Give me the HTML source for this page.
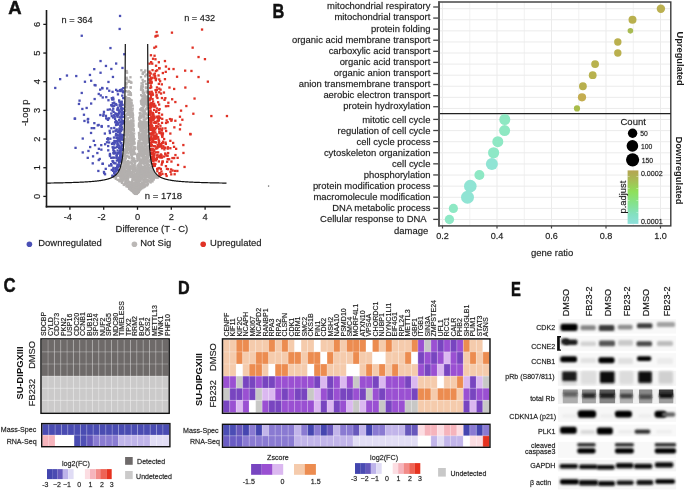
<!DOCTYPE html>
<html><head><meta charset="utf-8"><style>
html,body{margin:0;padding:0;background:#fff;}
svg{display:block;font-family:'Liberation Sans',sans-serif;will-change:transform;}
text{font-family:'Liberation Sans',sans-serif;}
</style></head><body>
<svg width="685" height="491" viewBox="0 0 685 491">
<rect width="685" height="491" fill="#fff"/>
<text x="8.30" y="14.20" font-size="18.5" text-anchor="start" font-weight="bold" fill="#111" stroke="#111" stroke-width="0.45">A</text><g fill="#b3b0ae"><rect x="123.1" y="148.8" width="2.3" height="2.3"/><rect x="137.7" y="172.8" width="2.3" height="2.3"/><rect x="143.0" y="92.0" width="2.3" height="2.3"/><rect x="151.8" y="175.5" width="2.3" height="2.3"/><rect x="127.6" y="181.1" width="2.3" height="2.3"/><rect x="127.3" y="102.1" width="2.3" height="2.3"/><rect x="146.0" y="154.0" width="2.3" height="2.3"/><rect x="140.3" y="171.9" width="2.3" height="2.3"/><rect x="139.1" y="121.0" width="2.3" height="2.3"/><rect x="119.7" y="173.7" width="2.3" height="2.3"/><rect x="143.3" y="102.3" width="2.3" height="2.3"/><rect x="135.2" y="185.6" width="2.3" height="2.3"/><rect x="148.4" y="176.7" width="2.3" height="2.3"/><rect x="128.0" y="97.8" width="2.3" height="2.3"/><rect x="138.7" y="138.6" width="2.3" height="2.3"/><rect x="138.9" y="119.5" width="2.3" height="2.3"/><rect x="147.1" y="173.5" width="2.3" height="2.3"/><rect x="121.6" y="169.5" width="2.3" height="2.3"/><rect x="141.6" y="97.3" width="2.3" height="2.3"/><rect x="140.5" y="168.6" width="2.3" height="2.3"/><rect x="129.3" y="175.6" width="2.3" height="2.3"/><rect x="123.8" y="138.5" width="2.3" height="2.3"/><rect x="145.2" y="107.8" width="2.3" height="2.3"/><rect x="125.8" y="181.9" width="2.3" height="2.3"/><rect x="136.2" y="191.1" width="2.3" height="2.3"/><rect x="132.7" y="145.7" width="2.3" height="2.3"/><rect x="138.1" y="169.7" width="2.3" height="2.3"/><rect x="144.0" y="102.5" width="2.3" height="2.3"/><rect x="125.4" y="120.4" width="2.3" height="2.3"/><rect x="125.9" y="125.3" width="2.3" height="2.3"/><rect x="128.3" y="100.0" width="2.3" height="2.3"/><rect x="137.6" y="156.9" width="2.3" height="2.3"/><rect x="124.4" y="143.0" width="2.3" height="2.3"/><rect x="131.4" y="112.0" width="2.3" height="2.3"/><rect x="129.6" y="170.5" width="2.3" height="2.3"/><rect x="145.5" y="146.9" width="2.3" height="2.3"/><rect x="133.9" y="188.2" width="2.3" height="2.3"/><rect x="141.8" y="174.8" width="2.3" height="2.3"/><rect x="129.4" y="136.9" width="2.3" height="2.3"/><rect x="145.3" y="155.7" width="2.3" height="2.3"/><rect x="143.9" y="165.6" width="2.3" height="2.3"/><rect x="149.5" y="181.3" width="2.3" height="2.3"/><rect x="124.5" y="105.6" width="2.3" height="2.3"/><rect x="129.4" y="165.6" width="2.3" height="2.3"/><rect x="139.3" y="187.0" width="2.3" height="2.3"/><rect x="137.8" y="162.8" width="2.3" height="2.3"/><rect x="130.2" y="185.4" width="2.3" height="2.3"/><rect x="134.6" y="179.6" width="2.3" height="2.3"/><rect x="131.9" y="166.5" width="2.3" height="2.3"/><rect x="150.4" y="170.2" width="2.3" height="2.3"/><rect x="127.9" y="125.9" width="2.3" height="2.3"/><rect x="145.5" y="168.6" width="2.3" height="2.3"/><rect x="137.9" y="150.4" width="2.3" height="2.3"/><rect x="135.5" y="169.1" width="2.3" height="2.3"/><rect x="124.6" y="109.3" width="2.3" height="2.3"/><rect x="143.6" y="95.2" width="2.3" height="2.3"/><rect x="125.1" y="160.8" width="2.3" height="2.3"/><rect x="125.7" y="169.4" width="2.3" height="2.3"/><rect x="122.1" y="162.1" width="2.3" height="2.3"/><rect x="124.0" y="141.1" width="2.3" height="2.3"/><rect x="141.5" y="102.8" width="2.3" height="2.3"/><rect x="141.8" y="122.5" width="2.3" height="2.3"/><rect x="137.0" y="190.8" width="2.3" height="2.3"/><rect x="126.6" y="98.9" width="2.3" height="2.3"/><rect x="144.2" y="153.1" width="2.3" height="2.3"/><rect x="135.3" y="190.8" width="2.3" height="2.3"/><rect x="132.8" y="189.7" width="2.3" height="2.3"/><rect x="139.3" y="177.8" width="2.3" height="2.3"/><rect x="125.8" y="176.6" width="2.3" height="2.3"/><rect x="144.0" y="175.0" width="2.3" height="2.3"/><rect x="141.7" y="173.3" width="2.3" height="2.3"/><rect x="137.7" y="154.1" width="2.3" height="2.3"/><rect x="128.2" y="107.4" width="2.3" height="2.3"/><rect x="132.7" y="190.7" width="2.3" height="2.3"/><rect x="141.0" y="150.2" width="2.3" height="2.3"/><rect x="138.1" y="118.4" width="2.3" height="2.3"/><rect x="140.7" y="161.0" width="2.3" height="2.3"/><rect x="146.5" y="172.8" width="2.3" height="2.3"/><rect x="148.5" y="169.3" width="2.3" height="2.3"/><rect x="125.8" y="97.6" width="2.3" height="2.3"/><rect x="144.1" y="100.3" width="2.3" height="2.3"/><rect x="138.5" y="170.6" width="2.3" height="2.3"/><rect x="140.6" y="121.0" width="2.3" height="2.3"/><rect x="129.4" y="123.7" width="2.3" height="2.3"/><rect x="135.7" y="191.8" width="2.3" height="2.3"/><rect x="130.7" y="132.9" width="2.3" height="2.3"/><rect x="125.4" y="81.6" width="2.3" height="2.3"/><rect x="141.9" y="102.2" width="2.3" height="2.3"/><rect x="123.5" y="149.6" width="2.3" height="2.3"/><rect x="147.7" y="170.0" width="2.3" height="2.3"/><rect x="149.7" y="178.6" width="2.3" height="2.3"/><rect x="137.9" y="122.6" width="2.3" height="2.3"/><rect x="120.9" y="171.8" width="2.3" height="2.3"/><rect x="140.8" y="153.6" width="2.3" height="2.3"/><rect x="140.2" y="107.4" width="2.3" height="2.3"/><rect x="149.1" y="175.6" width="2.3" height="2.3"/><rect x="149.7" y="176.0" width="2.3" height="2.3"/><rect x="136.5" y="183.6" width="2.3" height="2.3"/><rect x="128.1" y="185.8" width="2.3" height="2.3"/><rect x="130.1" y="128.3" width="2.3" height="2.3"/><rect x="140.4" y="159.0" width="2.3" height="2.3"/><rect x="133.2" y="147.9" width="2.3" height="2.3"/><rect x="152.5" y="178.1" width="2.3" height="2.3"/><rect x="142.3" y="165.7" width="2.3" height="2.3"/><rect x="122.2" y="166.1" width="2.3" height="2.3"/><rect x="146.6" y="156.1" width="2.3" height="2.3"/><rect x="144.7" y="174.7" width="2.3" height="2.3"/><rect x="128.3" y="156.8" width="2.3" height="2.3"/><rect x="146.7" y="149.1" width="2.3" height="2.3"/><rect x="139.3" y="147.5" width="2.3" height="2.3"/><rect x="128.0" y="100.7" width="2.3" height="2.3"/><rect x="129.1" y="102.4" width="2.3" height="2.3"/><rect x="127.2" y="160.5" width="2.3" height="2.3"/><rect x="148.0" y="174.3" width="2.3" height="2.3"/><rect x="150.1" y="171.6" width="2.3" height="2.3"/><rect x="125.6" y="76.6" width="2.3" height="2.3"/><rect x="138.3" y="133.6" width="2.3" height="2.3"/><rect x="127.1" y="121.9" width="2.3" height="2.3"/><rect x="121.5" y="179.8" width="2.3" height="2.3"/><rect x="139.6" y="150.8" width="2.3" height="2.3"/><rect x="142.9" y="138.1" width="2.3" height="2.3"/><rect x="123.5" y="139.2" width="2.3" height="2.3"/><rect x="128.3" y="98.4" width="2.3" height="2.3"/><rect x="136.0" y="191.8" width="2.3" height="2.3"/><rect x="131.7" y="149.9" width="2.3" height="2.3"/><rect x="139.7" y="147.6" width="2.3" height="2.3"/><rect x="129.3" y="76.1" width="2.3" height="2.3"/><rect x="127.1" y="176.8" width="2.3" height="2.3"/><rect x="130.5" y="150.5" width="2.3" height="2.3"/><rect x="133.7" y="169.8" width="2.3" height="2.3"/><rect x="134.0" y="192.3" width="2.3" height="2.3"/><rect x="150.9" y="171.0" width="2.3" height="2.3"/><rect x="130.8" y="155.8" width="2.3" height="2.3"/><rect x="136.4" y="175.2" width="2.3" height="2.3"/><rect x="130.4" y="174.3" width="2.3" height="2.3"/><rect x="142.1" y="109.0" width="2.3" height="2.3"/><rect x="126.3" y="136.1" width="2.3" height="2.3"/><rect x="125.5" y="106.3" width="2.3" height="2.3"/><rect x="151.4" y="172.7" width="2.3" height="2.3"/><rect x="139.4" y="120.8" width="2.3" height="2.3"/><rect x="134.4" y="192.6" width="2.3" height="2.3"/><rect x="125.5" y="69.9" width="2.3" height="2.3"/><rect x="143.1" y="178.4" width="2.3" height="2.3"/><rect x="142.5" y="97.4" width="2.3" height="2.3"/><rect x="133.4" y="191.8" width="2.3" height="2.3"/><rect x="134.8" y="186.5" width="2.3" height="2.3"/><rect x="144.8" y="117.4" width="2.3" height="2.3"/><rect x="127.8" y="121.2" width="2.3" height="2.3"/><rect x="141.3" y="103.9" width="2.3" height="2.3"/><rect x="146.9" y="172.9" width="2.3" height="2.3"/><rect x="145.1" y="102.7" width="2.3" height="2.3"/><rect x="139.3" y="130.0" width="2.3" height="2.3"/><rect x="126.9" y="147.7" width="2.3" height="2.3"/><rect x="139.1" y="126.2" width="2.3" height="2.3"/><rect x="121.8" y="169.6" width="2.3" height="2.3"/><rect x="144.0" y="98.7" width="2.3" height="2.3"/><rect x="147.4" y="170.9" width="2.3" height="2.3"/><rect x="124.0" y="149.8" width="2.3" height="2.3"/><rect x="133.9" y="152.5" width="2.3" height="2.3"/><rect x="128.7" y="93.4" width="2.3" height="2.3"/><rect x="140.5" y="154.6" width="2.3" height="2.3"/><rect x="130.1" y="121.3" width="2.3" height="2.3"/><rect x="137.7" y="175.8" width="2.3" height="2.3"/><rect x="133.9" y="167.8" width="2.3" height="2.3"/><rect x="143.0" y="160.1" width="2.3" height="2.3"/><rect x="126.9" y="111.4" width="2.3" height="2.3"/><rect x="141.3" y="160.7" width="2.3" height="2.3"/><rect x="131.5" y="104.5" width="2.3" height="2.3"/><rect x="122.1" y="169.6" width="2.3" height="2.3"/><rect x="148.7" y="159.8" width="2.3" height="2.3"/><rect x="124.0" y="161.7" width="2.3" height="2.3"/><rect x="135.6" y="176.7" width="2.3" height="2.3"/><rect x="146.7" y="156.3" width="2.3" height="2.3"/><rect x="139.6" y="168.3" width="2.3" height="2.3"/><rect x="140.9" y="145.9" width="2.3" height="2.3"/><rect x="130.9" y="182.8" width="2.3" height="2.3"/><rect x="120.6" y="180.9" width="2.3" height="2.3"/><rect x="146.7" y="145.2" width="2.3" height="2.3"/><rect x="137.2" y="188.0" width="2.3" height="2.3"/><rect x="125.4" y="174.8" width="2.3" height="2.3"/><rect x="144.0" y="141.9" width="2.3" height="2.3"/><rect x="148.3" y="169.5" width="2.3" height="2.3"/><rect x="129.1" y="150.9" width="2.3" height="2.3"/><rect x="127.3" y="171.8" width="2.3" height="2.3"/><rect x="137.6" y="153.5" width="2.3" height="2.3"/><rect x="139.9" y="123.4" width="2.3" height="2.3"/><rect x="124.4" y="182.8" width="2.3" height="2.3"/><rect x="141.8" y="107.4" width="2.3" height="2.3"/><rect x="143.8" y="98.6" width="2.3" height="2.3"/><rect x="131.5" y="175.6" width="2.3" height="2.3"/><rect x="141.5" y="147.2" width="2.3" height="2.3"/><rect x="148.0" y="167.0" width="2.3" height="2.3"/><rect x="146.9" y="153.2" width="2.3" height="2.3"/><rect x="133.0" y="151.5" width="2.3" height="2.3"/><rect x="148.0" y="176.4" width="2.3" height="2.3"/><rect x="128.9" y="149.6" width="2.3" height="2.3"/><rect x="142.1" y="156.8" width="2.3" height="2.3"/><rect x="130.0" y="132.8" width="2.3" height="2.3"/><rect x="143.1" y="137.5" width="2.3" height="2.3"/><rect x="143.4" y="103.0" width="2.3" height="2.3"/><rect x="143.2" y="122.4" width="2.3" height="2.3"/><rect x="140.0" y="154.2" width="2.3" height="2.3"/><rect x="130.5" y="153.7" width="2.3" height="2.3"/><rect x="140.5" y="126.0" width="2.3" height="2.3"/><rect x="137.7" y="144.1" width="2.3" height="2.3"/><rect x="130.0" y="127.0" width="2.3" height="2.3"/><rect x="153.2" y="172.7" width="2.3" height="2.3"/><rect x="143.3" y="115.2" width="2.3" height="2.3"/><rect x="123.9" y="127.8" width="2.3" height="2.3"/><rect x="137.8" y="188.0" width="2.3" height="2.3"/><rect x="140.1" y="175.7" width="2.3" height="2.3"/><rect x="126.4" y="164.9" width="2.3" height="2.3"/><rect x="139.1" y="114.3" width="2.3" height="2.3"/><rect x="138.5" y="179.5" width="2.3" height="2.3"/><rect x="146.5" y="134.7" width="2.3" height="2.3"/><rect x="132.5" y="135.0" width="2.3" height="2.3"/><rect x="127.7" y="185.1" width="2.3" height="2.3"/><rect x="147.1" y="179.1" width="2.3" height="2.3"/><rect x="135.7" y="192.1" width="2.3" height="2.3"/><rect x="116.2" y="173.8" width="2.3" height="2.3"/><rect x="121.8" y="176.8" width="2.3" height="2.3"/><rect x="146.2" y="121.2" width="2.3" height="2.3"/><rect x="118.7" y="179.1" width="2.3" height="2.3"/><rect x="140.9" y="169.8" width="2.3" height="2.3"/><rect x="124.5" y="101.2" width="2.3" height="2.3"/><rect x="124.9" y="130.4" width="2.3" height="2.3"/><rect x="131.4" y="135.9" width="2.3" height="2.3"/><rect x="131.2" y="186.6" width="2.3" height="2.3"/><rect x="127.5" y="130.9" width="2.3" height="2.3"/><rect x="137.0" y="170.5" width="2.3" height="2.3"/><rect x="145.2" y="161.9" width="2.3" height="2.3"/><rect x="142.2" y="142.4" width="2.3" height="2.3"/><rect x="132.1" y="160.0" width="2.3" height="2.3"/><rect x="143.0" y="110.0" width="2.3" height="2.3"/><rect x="146.1" y="116.6" width="2.3" height="2.3"/><rect x="145.1" y="108.1" width="2.3" height="2.3"/><rect x="149.6" y="173.2" width="2.3" height="2.3"/><rect x="131.8" y="135.6" width="2.3" height="2.3"/><rect x="125.0" y="151.6" width="2.3" height="2.3"/><rect x="132.6" y="190.1" width="2.3" height="2.3"/><rect x="133.2" y="181.9" width="2.3" height="2.3"/><rect x="144.8" y="158.5" width="2.3" height="2.3"/><rect x="121.3" y="165.8" width="2.3" height="2.3"/><rect x="136.8" y="175.7" width="2.3" height="2.3"/><rect x="138.7" y="150.2" width="2.3" height="2.3"/><rect x="131.6" y="177.8" width="2.3" height="2.3"/><rect x="123.0" y="177.4" width="2.3" height="2.3"/><rect x="123.8" y="171.1" width="2.3" height="2.3"/><rect x="135.2" y="189.1" width="2.3" height="2.3"/><rect x="134.6" y="192.1" width="2.3" height="2.3"/><rect x="145.1" y="169.4" width="2.3" height="2.3"/><rect x="142.7" y="167.0" width="2.3" height="2.3"/><rect x="142.4" y="100.9" width="2.3" height="2.3"/><rect x="126.9" y="102.3" width="2.3" height="2.3"/><rect x="142.8" y="135.2" width="2.3" height="2.3"/><rect x="132.3" y="149.2" width="2.3" height="2.3"/><rect x="125.0" y="142.3" width="2.3" height="2.3"/><rect x="139.1" y="121.4" width="2.3" height="2.3"/><rect x="145.8" y="140.1" width="2.3" height="2.3"/><rect x="146.4" y="128.3" width="2.3" height="2.3"/><rect x="132.9" y="141.1" width="2.3" height="2.3"/><rect x="140.9" y="166.5" width="2.3" height="2.3"/><rect x="139.0" y="134.1" width="2.3" height="2.3"/><rect x="121.1" y="167.9" width="2.3" height="2.3"/><rect x="128.7" y="161.3" width="2.3" height="2.3"/><rect x="118.9" y="174.5" width="2.3" height="2.3"/><rect x="143.4" y="134.1" width="2.3" height="2.3"/><rect x="134.0" y="168.9" width="2.3" height="2.3"/><rect x="143.5" y="100.6" width="2.3" height="2.3"/><rect x="138.7" y="169.6" width="2.3" height="2.3"/><rect x="143.8" y="102.8" width="2.3" height="2.3"/><rect x="128.9" y="104.6" width="2.3" height="2.3"/><rect x="122.3" y="157.3" width="2.3" height="2.3"/><rect x="139.4" y="182.9" width="2.3" height="2.3"/><rect x="138.1" y="169.5" width="2.3" height="2.3"/><rect x="130.3" y="187.1" width="2.3" height="2.3"/><rect x="129.4" y="147.5" width="2.3" height="2.3"/><rect x="124.5" y="101.4" width="2.3" height="2.3"/><rect x="145.5" y="173.7" width="2.3" height="2.3"/><rect x="141.8" y="90.6" width="2.3" height="2.3"/><rect x="145.2" y="73.5" width="2.3" height="2.3"/><rect x="131.4" y="129.0" width="2.3" height="2.3"/><rect x="143.9" y="124.9" width="2.3" height="2.3"/><rect x="119.3" y="179.9" width="2.3" height="2.3"/><rect x="131.1" y="171.7" width="2.3" height="2.3"/><rect x="142.2" y="178.9" width="2.3" height="2.3"/><rect x="130.0" y="142.9" width="2.3" height="2.3"/><rect x="135.4" y="184.5" width="2.3" height="2.3"/><rect x="131.6" y="168.4" width="2.3" height="2.3"/><rect x="130.4" y="187.7" width="2.3" height="2.3"/><rect x="134.0" y="192.2" width="2.3" height="2.3"/><rect x="125.9" y="97.8" width="2.3" height="2.3"/><rect x="124.1" y="128.4" width="2.3" height="2.3"/><rect x="114.7" y="176.0" width="2.3" height="2.3"/><rect x="119.7" y="179.0" width="2.3" height="2.3"/><rect x="153.6" y="174.9" width="2.3" height="2.3"/><rect x="128.0" y="170.4" width="2.3" height="2.3"/><rect x="137.8" y="170.5" width="2.3" height="2.3"/><rect x="130.0" y="139.8" width="2.3" height="2.3"/><rect x="144.3" y="142.9" width="2.3" height="2.3"/><rect x="139.6" y="171.1" width="2.3" height="2.3"/><rect x="124.7" y="162.7" width="2.3" height="2.3"/><rect x="143.2" y="138.2" width="2.3" height="2.3"/><rect x="123.4" y="159.4" width="2.3" height="2.3"/><rect x="126.4" y="132.5" width="2.3" height="2.3"/><rect x="133.4" y="184.4" width="2.3" height="2.3"/><rect x="126.8" y="177.4" width="2.3" height="2.3"/><rect x="146.2" y="160.7" width="2.3" height="2.3"/><rect x="133.9" y="162.3" width="2.3" height="2.3"/><rect x="128.6" y="140.4" width="2.3" height="2.3"/><rect x="148.7" y="160.1" width="2.3" height="2.3"/><rect x="143.2" y="184.4" width="2.3" height="2.3"/><rect x="125.1" y="83.5" width="2.3" height="2.3"/><rect x="135.3" y="189.6" width="2.3" height="2.3"/><rect x="146.5" y="134.4" width="2.3" height="2.3"/><rect x="127.9" y="184.1" width="2.3" height="2.3"/><rect x="142.2" y="127.6" width="2.3" height="2.3"/><rect x="140.5" y="137.7" width="2.3" height="2.3"/><rect x="142.8" y="173.0" width="2.3" height="2.3"/><rect x="142.6" y="135.0" width="2.3" height="2.3"/><rect x="125.2" y="122.4" width="2.3" height="2.3"/><rect x="127.3" y="102.4" width="2.3" height="2.3"/><rect x="140.7" y="142.1" width="2.3" height="2.3"/><rect x="144.2" y="144.2" width="2.3" height="2.3"/><rect x="124.5" y="123.4" width="2.3" height="2.3"/><rect x="133.3" y="182.0" width="2.3" height="2.3"/><rect x="147.3" y="172.0" width="2.3" height="2.3"/><rect x="123.8" y="153.7" width="2.3" height="2.3"/><rect x="135.1" y="179.0" width="2.3" height="2.3"/><rect x="141.5" y="113.6" width="2.3" height="2.3"/><rect x="137.0" y="177.1" width="2.3" height="2.3"/><rect x="127.2" y="164.2" width="2.3" height="2.3"/><rect x="139.3" y="128.0" width="2.3" height="2.3"/><rect x="145.6" y="178.6" width="2.3" height="2.3"/><rect x="132.2" y="122.5" width="2.3" height="2.3"/><rect x="146.1" y="167.5" width="2.3" height="2.3"/><rect x="135.9" y="186.4" width="2.3" height="2.3"/><rect x="147.4" y="179.4" width="2.3" height="2.3"/><rect x="135.2" y="192.6" width="2.3" height="2.3"/><rect x="144.5" y="99.9" width="2.3" height="2.3"/><rect x="127.7" y="133.7" width="2.3" height="2.3"/><rect x="131.0" y="171.4" width="2.3" height="2.3"/><rect x="140.1" y="86.5" width="2.3" height="2.3"/><rect x="140.8" y="121.1" width="2.3" height="2.3"/><rect x="131.6" y="143.2" width="2.3" height="2.3"/><rect x="136.0" y="174.4" width="2.3" height="2.3"/><rect x="137.9" y="169.9" width="2.3" height="2.3"/><rect x="136.9" y="190.9" width="2.3" height="2.3"/><rect x="141.8" y="160.7" width="2.3" height="2.3"/><rect x="143.0" y="140.5" width="2.3" height="2.3"/><rect x="137.8" y="125.1" width="2.3" height="2.3"/><rect x="144.7" y="161.5" width="2.3" height="2.3"/><rect x="141.5" y="133.7" width="2.3" height="2.3"/><rect x="132.0" y="127.4" width="2.3" height="2.3"/><rect x="126.3" y="99.0" width="2.3" height="2.3"/><rect x="154.8" y="176.2" width="2.3" height="2.3"/><rect x="138.4" y="122.5" width="2.3" height="2.3"/><rect x="135.7" y="171.7" width="2.3" height="2.3"/><rect x="146.1" y="104.2" width="2.3" height="2.3"/><rect x="133.2" y="191.4" width="2.3" height="2.3"/><rect x="130.3" y="175.9" width="2.3" height="2.3"/><rect x="138.2" y="166.9" width="2.3" height="2.3"/><rect x="139.1" y="180.0" width="2.3" height="2.3"/><rect x="151.7" y="171.0" width="2.3" height="2.3"/><rect x="126.7" y="173.5" width="2.3" height="2.3"/><rect x="147.1" y="175.7" width="2.3" height="2.3"/><rect x="130.2" y="109.5" width="2.3" height="2.3"/><rect x="125.2" y="173.7" width="2.3" height="2.3"/><rect x="131.2" y="179.9" width="2.3" height="2.3"/><rect x="130.1" y="119.2" width="2.3" height="2.3"/><rect x="130.7" y="132.4" width="2.3" height="2.3"/><rect x="133.9" y="183.2" width="2.3" height="2.3"/><rect x="128.6" y="139.3" width="2.3" height="2.3"/><rect x="126.9" y="185.5" width="2.3" height="2.3"/><rect x="138.9" y="114.9" width="2.3" height="2.3"/><rect x="120.8" y="168.1" width="2.3" height="2.3"/><rect x="122.5" y="159.8" width="2.3" height="2.3"/><rect x="130.7" y="115.6" width="2.3" height="2.3"/><rect x="127.0" y="148.5" width="2.3" height="2.3"/><rect x="127.8" y="122.7" width="2.3" height="2.3"/><rect x="132.7" y="157.6" width="2.3" height="2.3"/><rect x="146.5" y="154.9" width="2.3" height="2.3"/><rect x="130.4" y="184.7" width="2.3" height="2.3"/><rect x="126.4" y="130.0" width="2.3" height="2.3"/><rect x="143.3" y="121.0" width="2.3" height="2.3"/><rect x="142.9" y="182.4" width="2.3" height="2.3"/><rect x="136.3" y="183.0" width="2.3" height="2.3"/><rect x="127.0" y="123.8" width="2.3" height="2.3"/><rect x="146.4" y="146.1" width="2.3" height="2.3"/><rect x="130.2" y="81.5" width="2.3" height="2.3"/><rect x="141.3" y="146.9" width="2.3" height="2.3"/><rect x="127.7" y="90.2" width="2.3" height="2.3"/><rect x="140.2" y="183.5" width="2.3" height="2.3"/><rect x="126.0" y="108.8" width="2.3" height="2.3"/><rect x="138.5" y="165.9" width="2.3" height="2.3"/><rect x="151.9" y="171.8" width="2.3" height="2.3"/><rect x="120.0" y="166.6" width="2.3" height="2.3"/><rect x="142.7" y="171.9" width="2.3" height="2.3"/><rect x="128.4" y="102.7" width="2.3" height="2.3"/><rect x="132.1" y="168.9" width="2.3" height="2.3"/><rect x="138.3" y="124.9" width="2.3" height="2.3"/><rect x="141.7" y="166.6" width="2.3" height="2.3"/><rect x="128.8" y="143.1" width="2.3" height="2.3"/><rect x="125.3" y="165.3" width="2.3" height="2.3"/><rect x="140.1" y="88.1" width="2.3" height="2.3"/><rect x="137.5" y="139.9" width="2.3" height="2.3"/><rect x="147.1" y="137.0" width="2.3" height="2.3"/><rect x="141.4" y="131.6" width="2.3" height="2.3"/><rect x="131.3" y="109.5" width="2.3" height="2.3"/><rect x="123.8" y="159.4" width="2.3" height="2.3"/><rect x="136.8" y="146.0" width="2.3" height="2.3"/><rect x="126.6" y="102.7" width="2.3" height="2.3"/><rect x="127.5" y="122.9" width="2.3" height="2.3"/><rect x="140.8" y="185.8" width="2.3" height="2.3"/><rect x="133.6" y="173.0" width="2.3" height="2.3"/><rect x="130.1" y="188.0" width="2.3" height="2.3"/><rect x="129.8" y="152.3" width="2.3" height="2.3"/><rect x="141.0" y="98.5" width="2.3" height="2.3"/><rect x="124.7" y="138.7" width="2.3" height="2.3"/><rect x="144.5" y="135.2" width="2.3" height="2.3"/><rect x="137.3" y="143.7" width="2.3" height="2.3"/><rect x="148.6" y="172.1" width="2.3" height="2.3"/><rect x="142.9" y="149.2" width="2.3" height="2.3"/><rect x="136.6" y="146.4" width="2.3" height="2.3"/><rect x="131.9" y="166.6" width="2.3" height="2.3"/><rect x="131.0" y="156.9" width="2.3" height="2.3"/><rect x="141.3" y="100.2" width="2.3" height="2.3"/><rect x="124.0" y="126.2" width="2.3" height="2.3"/><rect x="136.7" y="190.8" width="2.3" height="2.3"/><rect x="132.2" y="136.0" width="2.3" height="2.3"/><rect x="126.0" y="179.3" width="2.3" height="2.3"/><rect x="141.1" y="87.3" width="2.3" height="2.3"/><rect x="135.1" y="190.0" width="2.3" height="2.3"/><rect x="137.7" y="179.0" width="2.3" height="2.3"/><rect x="149.7" y="166.5" width="2.3" height="2.3"/><rect x="142.4" y="116.4" width="2.3" height="2.3"/><rect x="143.6" y="171.2" width="2.3" height="2.3"/><rect x="139.7" y="146.2" width="2.3" height="2.3"/><rect x="140.4" y="102.6" width="2.3" height="2.3"/><rect x="143.9" y="185.3" width="2.3" height="2.3"/><rect x="142.5" y="121.6" width="2.3" height="2.3"/><rect x="150.2" y="170.6" width="2.3" height="2.3"/><rect x="139.8" y="161.9" width="2.3" height="2.3"/><rect x="143.1" y="136.2" width="2.3" height="2.3"/><rect x="145.5" y="173.0" width="2.3" height="2.3"/><rect x="129.3" y="185.9" width="2.3" height="2.3"/><rect x="128.4" y="166.0" width="2.3" height="2.3"/><rect x="139.9" y="108.4" width="2.3" height="2.3"/><rect x="142.1" y="166.7" width="2.3" height="2.3"/><rect x="127.6" y="131.2" width="2.3" height="2.3"/><rect x="129.6" y="92.1" width="2.3" height="2.3"/><rect x="138.8" y="121.8" width="2.3" height="2.3"/><rect x="122.7" y="172.2" width="2.3" height="2.3"/><rect x="138.1" y="163.2" width="2.3" height="2.3"/><rect x="121.1" y="173.7" width="2.3" height="2.3"/><rect x="143.2" y="124.7" width="2.3" height="2.3"/><rect x="128.4" y="166.3" width="2.3" height="2.3"/><rect x="146.9" y="165.4" width="2.3" height="2.3"/><rect x="138.4" y="187.5" width="2.3" height="2.3"/><rect x="133.1" y="178.7" width="2.3" height="2.3"/><rect x="127.3" y="152.1" width="2.3" height="2.3"/><rect x="140.8" y="160.7" width="2.3" height="2.3"/><rect x="143.9" y="165.0" width="2.3" height="2.3"/><rect x="131.1" y="185.1" width="2.3" height="2.3"/><rect x="139.9" y="121.9" width="2.3" height="2.3"/><rect x="143.0" y="149.9" width="2.3" height="2.3"/><rect x="144.0" y="170.6" width="2.3" height="2.3"/><rect x="126.8" y="100.7" width="2.3" height="2.3"/><rect x="131.4" y="182.5" width="2.3" height="2.3"/><rect x="133.6" y="168.6" width="2.3" height="2.3"/><rect x="125.0" y="127.3" width="2.3" height="2.3"/><rect x="127.0" y="107.4" width="2.3" height="2.3"/><rect x="142.8" y="179.8" width="2.3" height="2.3"/><rect x="125.3" y="129.2" width="2.3" height="2.3"/><rect x="146.0" y="95.4" width="2.3" height="2.3"/><rect x="130.1" y="138.7" width="2.3" height="2.3"/><rect x="126.4" y="179.4" width="2.3" height="2.3"/><rect x="144.0" y="133.1" width="2.3" height="2.3"/><rect x="138.3" y="156.5" width="2.3" height="2.3"/><rect x="131.1" y="188.2" width="2.3" height="2.3"/><rect x="114.9" y="176.2" width="2.3" height="2.3"/><rect x="124.9" y="101.8" width="2.3" height="2.3"/><rect x="145.9" y="175.0" width="2.3" height="2.3"/><rect x="139.6" y="164.9" width="2.3" height="2.3"/><rect x="130.7" y="115.5" width="2.3" height="2.3"/><rect x="152.3" y="172.1" width="2.3" height="2.3"/><rect x="119.0" y="171.3" width="2.3" height="2.3"/><rect x="118.4" y="174.7" width="2.3" height="2.3"/><rect x="127.9" y="105.6" width="2.3" height="2.3"/><rect x="138.5" y="125.7" width="2.3" height="2.3"/><rect x="137.0" y="164.3" width="2.3" height="2.3"/><rect x="143.8" y="147.9" width="2.3" height="2.3"/><rect x="135.0" y="186.8" width="2.3" height="2.3"/><rect x="132.6" y="187.6" width="2.3" height="2.3"/><rect x="128.0" y="171.2" width="2.3" height="2.3"/><rect x="118.5" y="170.5" width="2.3" height="2.3"/><rect x="124.7" y="149.8" width="2.3" height="2.3"/><rect x="143.5" y="172.1" width="2.3" height="2.3"/><rect x="130.1" y="112.2" width="2.3" height="2.3"/><rect x="133.3" y="141.5" width="2.3" height="2.3"/><rect x="140.3" y="174.1" width="2.3" height="2.3"/><rect x="126.0" y="136.1" width="2.3" height="2.3"/><rect x="124.7" y="154.6" width="2.3" height="2.3"/><rect x="143.9" y="135.4" width="2.3" height="2.3"/><rect x="128.4" y="113.4" width="2.3" height="2.3"/><rect x="127.4" y="97.9" width="2.3" height="2.3"/><rect x="126.4" y="97.1" width="2.3" height="2.3"/><rect x="153.2" y="173.6" width="2.3" height="2.3"/><rect x="144.4" y="143.7" width="2.3" height="2.3"/><rect x="144.7" y="157.2" width="2.3" height="2.3"/><rect x="145.7" y="101.9" width="2.3" height="2.3"/><rect x="118.2" y="180.0" width="2.3" height="2.3"/><rect x="124.9" y="163.9" width="2.3" height="2.3"/><rect x="129.6" y="109.3" width="2.3" height="2.3"/><rect x="140.4" y="137.7" width="2.3" height="2.3"/><rect x="145.9" y="131.2" width="2.3" height="2.3"/><rect x="127.0" y="127.9" width="2.3" height="2.3"/><rect x="144.7" y="142.8" width="2.3" height="2.3"/><rect x="146.1" y="176.2" width="2.3" height="2.3"/><rect x="125.6" y="145.2" width="2.3" height="2.3"/><rect x="127.8" y="128.3" width="2.3" height="2.3"/><rect x="142.9" y="103.1" width="2.3" height="2.3"/><rect x="126.8" y="113.6" width="2.3" height="2.3"/><rect x="127.6" y="100.8" width="2.3" height="2.3"/><rect x="130.0" y="130.3" width="2.3" height="2.3"/><rect x="121.4" y="172.2" width="2.3" height="2.3"/><rect x="129.7" y="134.0" width="2.3" height="2.3"/><rect x="128.1" y="144.0" width="2.3" height="2.3"/><rect x="124.4" y="129.4" width="2.3" height="2.3"/><rect x="134.8" y="190.8" width="2.3" height="2.3"/><rect x="127.1" y="128.7" width="2.3" height="2.3"/><rect x="142.0" y="100.3" width="2.3" height="2.3"/><rect x="136.7" y="181.5" width="2.3" height="2.3"/><rect x="131.3" y="187.2" width="2.3" height="2.3"/><rect x="127.0" y="185.0" width="2.3" height="2.3"/><rect x="141.0" y="129.4" width="2.3" height="2.3"/><rect x="129.9" y="81.4" width="2.3" height="2.3"/><rect x="132.4" y="176.0" width="2.3" height="2.3"/><rect x="146.6" y="138.1" width="2.3" height="2.3"/><rect x="119.5" y="169.5" width="2.3" height="2.3"/><rect x="139.9" y="164.5" width="2.3" height="2.3"/><rect x="124.4" y="109.6" width="2.3" height="2.3"/><rect x="145.7" y="183.2" width="2.3" height="2.3"/><rect x="143.4" y="71.0" width="2.3" height="2.3"/><rect x="135.9" y="190.2" width="2.3" height="2.3"/><rect x="127.9" y="122.0" width="2.3" height="2.3"/><rect x="130.7" y="156.3" width="2.3" height="2.3"/><rect x="142.4" y="137.4" width="2.3" height="2.3"/><rect x="132.4" y="169.0" width="2.3" height="2.3"/><rect x="142.2" y="142.2" width="2.3" height="2.3"/><rect x="127.3" y="170.7" width="2.3" height="2.3"/><rect x="149.7" y="172.1" width="2.3" height="2.3"/><rect x="139.5" y="151.5" width="2.3" height="2.3"/><rect x="127.9" y="128.9" width="2.3" height="2.3"/><rect x="141.5" y="153.6" width="2.3" height="2.3"/><rect x="145.4" y="155.3" width="2.3" height="2.3"/><rect x="133.5" y="192.0" width="2.3" height="2.3"/><rect x="142.1" y="90.5" width="2.3" height="2.3"/><rect x="149.2" y="160.2" width="2.3" height="2.3"/><rect x="143.4" y="176.8" width="2.3" height="2.3"/><rect x="148.2" y="175.1" width="2.3" height="2.3"/><rect x="132.2" y="190.9" width="2.3" height="2.3"/><rect x="123.2" y="155.0" width="2.3" height="2.3"/><rect x="129.6" y="188.5" width="2.3" height="2.3"/><rect x="126.0" y="177.7" width="2.3" height="2.3"/><rect x="134.4" y="192.6" width="2.3" height="2.3"/><rect x="136.7" y="173.7" width="2.3" height="2.3"/><rect x="154.8" y="174.9" width="2.3" height="2.3"/><rect x="145.4" y="128.8" width="2.3" height="2.3"/><rect x="141.2" y="95.2" width="2.3" height="2.3"/><rect x="124.3" y="137.8" width="2.3" height="2.3"/><rect x="135.9" y="191.7" width="2.3" height="2.3"/><rect x="139.9" y="100.2" width="2.3" height="2.3"/><rect x="139.8" y="109.2" width="2.3" height="2.3"/><rect x="127.7" y="101.8" width="2.3" height="2.3"/><rect x="128.6" y="186.7" width="2.3" height="2.3"/><rect x="143.7" y="172.2" width="2.3" height="2.3"/><rect x="128.3" y="112.8" width="2.3" height="2.3"/><rect x="130.6" y="127.4" width="2.3" height="2.3"/><rect x="141.2" y="187.0" width="2.3" height="2.3"/><rect x="142.4" y="159.1" width="2.3" height="2.3"/><rect x="142.6" y="102.6" width="2.3" height="2.3"/><rect x="139.9" y="116.1" width="2.3" height="2.3"/><rect x="145.4" y="90.3" width="2.3" height="2.3"/><rect x="124.9" y="164.1" width="2.3" height="2.3"/><rect x="125.3" y="102.9" width="2.3" height="2.3"/><rect x="145.0" y="86.9" width="2.3" height="2.3"/><rect x="138.7" y="174.2" width="2.3" height="2.3"/><rect x="128.7" y="116.4" width="2.3" height="2.3"/><rect x="115.1" y="174.8" width="2.3" height="2.3"/><rect x="139.9" y="129.0" width="2.3" height="2.3"/><rect x="139.5" y="163.6" width="2.3" height="2.3"/><rect x="124.4" y="182.7" width="2.3" height="2.3"/><rect x="133.0" y="174.6" width="2.3" height="2.3"/><rect x="124.7" y="157.2" width="2.3" height="2.3"/><rect x="152.3" y="171.2" width="2.3" height="2.3"/><rect x="127.4" y="183.3" width="2.3" height="2.3"/><rect x="128.4" y="168.9" width="2.3" height="2.3"/><rect x="143.5" y="94.4" width="2.3" height="2.3"/><rect x="125.0" y="169.7" width="2.3" height="2.3"/><rect x="131.0" y="123.6" width="2.3" height="2.3"/><rect x="146.7" y="156.4" width="2.3" height="2.3"/><rect x="135.3" y="191.3" width="2.3" height="2.3"/><rect x="125.7" y="124.1" width="2.3" height="2.3"/><rect x="124.2" y="129.1" width="2.3" height="2.3"/><rect x="124.2" y="131.0" width="2.3" height="2.3"/><rect x="122.2" y="164.1" width="2.3" height="2.3"/><rect x="141.5" y="99.7" width="2.3" height="2.3"/><rect x="123.3" y="167.3" width="2.3" height="2.3"/><rect x="145.6" y="167.8" width="2.3" height="2.3"/><rect x="138.9" y="159.7" width="2.3" height="2.3"/><rect x="135.5" y="189.2" width="2.3" height="2.3"/><rect x="134.3" y="181.5" width="2.3" height="2.3"/><rect x="131.6" y="177.8" width="2.3" height="2.3"/><rect x="129.7" y="105.5" width="2.3" height="2.3"/><rect x="134.4" y="173.9" width="2.3" height="2.3"/><rect x="131.8" y="123.4" width="2.3" height="2.3"/><rect x="126.2" y="154.6" width="2.3" height="2.3"/><rect x="146.3" y="166.2" width="2.3" height="2.3"/><rect x="141.9" y="106.8" width="2.3" height="2.3"/><rect x="141.2" y="124.3" width="2.3" height="2.3"/><rect x="119.4" y="169.2" width="2.3" height="2.3"/><rect x="128.2" y="122.0" width="2.3" height="2.3"/><rect x="126.3" y="124.8" width="2.3" height="2.3"/><rect x="126.3" y="161.3" width="2.3" height="2.3"/><rect x="138.0" y="123.5" width="2.3" height="2.3"/><rect x="136.1" y="169.8" width="2.3" height="2.3"/><rect x="137.6" y="182.6" width="2.3" height="2.3"/><rect x="141.4" y="169.4" width="2.3" height="2.3"/><rect x="150.0" y="176.4" width="2.3" height="2.3"/><rect x="128.3" y="171.9" width="2.3" height="2.3"/><rect x="131.7" y="153.2" width="2.3" height="2.3"/><rect x="144.0" y="100.3" width="2.3" height="2.3"/><rect x="139.2" y="135.2" width="2.3" height="2.3"/><rect x="137.0" y="186.0" width="2.3" height="2.3"/><rect x="126.4" y="127.1" width="2.3" height="2.3"/><rect x="137.1" y="142.3" width="2.3" height="2.3"/><rect x="136.4" y="183.9" width="2.3" height="2.3"/><rect x="143.0" y="149.2" width="2.3" height="2.3"/><rect x="125.7" y="173.1" width="2.3" height="2.3"/><rect x="141.8" y="71.4" width="2.3" height="2.3"/><rect x="127.7" y="155.6" width="2.3" height="2.3"/><rect x="138.6" y="184.9" width="2.3" height="2.3"/><rect x="124.4" y="147.9" width="2.3" height="2.3"/><rect x="146.1" y="149.1" width="2.3" height="2.3"/><rect x="142.2" y="165.6" width="2.3" height="2.3"/><rect x="125.8" y="119.7" width="2.3" height="2.3"/><rect x="131.9" y="128.0" width="2.3" height="2.3"/><rect x="139.6" y="183.4" width="2.3" height="2.3"/><rect x="143.1" y="179.1" width="2.3" height="2.3"/><rect x="128.2" y="103.2" width="2.3" height="2.3"/><rect x="133.3" y="185.2" width="2.3" height="2.3"/><rect x="141.5" y="171.9" width="2.3" height="2.3"/><rect x="136.3" y="159.8" width="2.3" height="2.3"/><rect x="132.7" y="191.3" width="2.3" height="2.3"/><rect x="133.1" y="191.2" width="2.3" height="2.3"/><rect x="146.5" y="171.7" width="2.3" height="2.3"/><rect x="137.5" y="169.7" width="2.3" height="2.3"/><rect x="123.5" y="140.0" width="2.3" height="2.3"/><rect x="135.6" y="192.2" width="2.3" height="2.3"/><rect x="119.1" y="172.0" width="2.3" height="2.3"/><rect x="138.5" y="134.2" width="2.3" height="2.3"/><rect x="142.5" y="152.7" width="2.3" height="2.3"/><rect x="137.9" y="189.3" width="2.3" height="2.3"/><rect x="137.3" y="190.7" width="2.3" height="2.3"/><rect x="127.4" y="147.1" width="2.3" height="2.3"/><rect x="129.2" y="181.6" width="2.3" height="2.3"/><rect x="143.3" y="101.1" width="2.3" height="2.3"/><rect x="137.9" y="183.0" width="2.3" height="2.3"/><rect x="129.5" y="165.3" width="2.3" height="2.3"/><rect x="136.9" y="152.8" width="2.3" height="2.3"/><rect x="127.2" y="184.5" width="2.3" height="2.3"/><rect x="140.8" y="122.4" width="2.3" height="2.3"/><rect x="137.4" y="141.8" width="2.3" height="2.3"/><rect x="138.3" y="153.8" width="2.3" height="2.3"/><rect x="127.6" y="162.4" width="2.3" height="2.3"/><rect x="126.6" y="122.2" width="2.3" height="2.3"/><rect x="141.4" y="110.1" width="2.3" height="2.3"/><rect x="127.3" y="138.3" width="2.3" height="2.3"/><rect x="126.0" y="112.4" width="2.3" height="2.3"/><rect x="126.5" y="142.0" width="2.3" height="2.3"/><rect x="121.7" y="174.7" width="2.3" height="2.3"/><rect x="135.7" y="191.3" width="2.3" height="2.3"/><rect x="129.4" y="171.9" width="2.3" height="2.3"/><rect x="133.6" y="192.0" width="2.3" height="2.3"/><rect x="131.0" y="172.5" width="2.3" height="2.3"/><rect x="128.5" y="147.5" width="2.3" height="2.3"/><rect x="125.1" y="97.7" width="2.3" height="2.3"/><rect x="143.0" y="130.7" width="2.3" height="2.3"/><rect x="131.6" y="115.0" width="2.3" height="2.3"/><rect x="146.3" y="103.5" width="2.3" height="2.3"/><rect x="136.8" y="179.8" width="2.3" height="2.3"/><rect x="127.0" y="120.7" width="2.3" height="2.3"/><rect x="136.6" y="171.7" width="2.3" height="2.3"/><rect x="137.6" y="190.0" width="2.3" height="2.3"/><rect x="126.4" y="101.8" width="2.3" height="2.3"/><rect x="142.6" y="181.7" width="2.3" height="2.3"/><rect x="143.5" y="110.4" width="2.3" height="2.3"/><rect x="131.6" y="190.0" width="2.3" height="2.3"/><rect x="124.3" y="126.8" width="2.3" height="2.3"/><rect x="146.1" y="96.9" width="2.3" height="2.3"/><rect x="138.5" y="188.9" width="2.3" height="2.3"/><rect x="129.4" y="115.6" width="2.3" height="2.3"/><rect x="132.5" y="165.2" width="2.3" height="2.3"/><rect x="130.3" y="135.4" width="2.3" height="2.3"/><rect x="124.7" y="179.6" width="2.3" height="2.3"/><rect x="139.0" y="161.0" width="2.3" height="2.3"/><rect x="124.8" y="165.2" width="2.3" height="2.3"/><rect x="135.1" y="182.8" width="2.3" height="2.3"/><rect x="133.6" y="189.7" width="2.3" height="2.3"/><rect x="123.0" y="167.9" width="2.3" height="2.3"/><rect x="135.8" y="171.7" width="2.3" height="2.3"/><rect x="144.4" y="99.4" width="2.3" height="2.3"/><rect x="144.9" y="82.8" width="2.3" height="2.3"/><rect x="139.3" y="183.3" width="2.3" height="2.3"/><rect x="135.1" y="180.6" width="2.3" height="2.3"/><rect x="127.9" y="101.9" width="2.3" height="2.3"/><rect x="134.1" y="190.1" width="2.3" height="2.3"/><rect x="124.2" y="120.7" width="2.3" height="2.3"/><rect x="141.8" y="101.7" width="2.3" height="2.3"/><rect x="124.0" y="157.9" width="2.3" height="2.3"/><rect x="126.2" y="175.2" width="2.3" height="2.3"/><rect x="132.6" y="151.5" width="2.3" height="2.3"/><rect x="133.1" y="184.0" width="2.3" height="2.3"/><rect x="142.0" y="173.6" width="2.3" height="2.3"/><rect x="144.8" y="166.7" width="2.3" height="2.3"/><rect x="130.0" y="145.8" width="2.3" height="2.3"/><rect x="132.2" y="120.2" width="2.3" height="2.3"/><rect x="123.7" y="174.6" width="2.3" height="2.3"/><rect x="125.6" y="175.0" width="2.3" height="2.3"/><rect x="138.6" y="142.6" width="2.3" height="2.3"/><rect x="133.2" y="157.9" width="2.3" height="2.3"/><rect x="143.4" y="138.2" width="2.3" height="2.3"/><rect x="144.9" y="138.8" width="2.3" height="2.3"/><rect x="141.2" y="102.6" width="2.3" height="2.3"/><rect x="149.7" y="177.3" width="2.3" height="2.3"/><rect x="122.1" y="178.4" width="2.3" height="2.3"/><rect x="147.9" y="153.9" width="2.3" height="2.3"/><rect x="127.9" y="102.4" width="2.3" height="2.3"/><rect x="140.4" y="153.9" width="2.3" height="2.3"/><rect x="121.9" y="159.0" width="2.3" height="2.3"/><rect x="145.2" y="142.3" width="2.3" height="2.3"/><rect x="134.3" y="191.7" width="2.3" height="2.3"/><rect x="122.6" y="154.6" width="2.3" height="2.3"/><rect x="126.7" y="118.3" width="2.3" height="2.3"/><rect x="123.0" y="152.7" width="2.3" height="2.3"/><rect x="142.6" y="174.3" width="2.3" height="2.3"/><rect x="142.7" y="162.6" width="2.3" height="2.3"/><rect x="134.7" y="188.8" width="2.3" height="2.3"/><rect x="136.5" y="191.4" width="2.3" height="2.3"/><rect x="136.4" y="183.2" width="2.3" height="2.3"/><rect x="144.9" y="170.4" width="2.3" height="2.3"/><rect x="135.7" y="190.9" width="2.3" height="2.3"/><rect x="125.2" y="138.3" width="2.3" height="2.3"/><rect x="133.6" y="166.9" width="2.3" height="2.3"/><rect x="142.1" y="124.9" width="2.3" height="2.3"/><rect x="121.2" y="171.7" width="2.3" height="2.3"/><rect x="140.9" y="94.5" width="2.3" height="2.3"/><rect x="133.1" y="164.0" width="2.3" height="2.3"/><rect x="141.7" y="175.2" width="2.3" height="2.3"/><rect x="139.8" y="176.1" width="2.3" height="2.3"/><rect x="130.7" y="125.1" width="2.3" height="2.3"/><rect x="138.4" y="143.6" width="2.3" height="2.3"/><rect x="125.1" y="155.2" width="2.3" height="2.3"/><rect x="135.3" y="184.7" width="2.3" height="2.3"/><rect x="138.2" y="122.9" width="2.3" height="2.3"/><rect x="121.9" y="175.5" width="2.3" height="2.3"/><rect x="130.8" y="184.5" width="2.3" height="2.3"/><rect x="136.5" y="164.6" width="2.3" height="2.3"/><rect x="126.8" y="99.4" width="2.3" height="2.3"/><rect x="139.8" y="187.5" width="2.3" height="2.3"/><rect x="146.4" y="152.7" width="2.3" height="2.3"/><rect x="128.4" y="167.1" width="2.3" height="2.3"/><rect x="136.3" y="190.1" width="2.3" height="2.3"/><rect x="130.9" y="187.1" width="2.3" height="2.3"/><rect x="144.2" y="164.9" width="2.3" height="2.3"/><rect x="137.9" y="143.3" width="2.3" height="2.3"/><rect x="125.4" y="120.8" width="2.3" height="2.3"/><rect x="136.7" y="158.6" width="2.3" height="2.3"/><rect x="125.3" y="175.6" width="2.3" height="2.3"/><rect x="125.6" y="151.1" width="2.3" height="2.3"/><rect x="131.3" y="179.4" width="2.3" height="2.3"/><rect x="122.5" y="169.1" width="2.3" height="2.3"/><rect x="121.8" y="175.7" width="2.3" height="2.3"/><rect x="136.3" y="156.8" width="2.3" height="2.3"/><rect x="140.6" y="101.5" width="2.3" height="2.3"/><rect x="116.6" y="172.9" width="2.3" height="2.3"/><rect x="128.8" y="183.4" width="2.3" height="2.3"/><rect x="145.6" y="157.6" width="2.3" height="2.3"/><rect x="142.6" y="104.0" width="2.3" height="2.3"/><rect x="129.3" y="174.1" width="2.3" height="2.3"/><rect x="138.1" y="116.5" width="2.3" height="2.3"/><rect x="140.2" y="147.1" width="2.3" height="2.3"/><rect x="126.5" y="140.8" width="2.3" height="2.3"/><rect x="140.3" y="132.6" width="2.3" height="2.3"/><rect x="127.5" y="109.6" width="2.3" height="2.3"/><rect x="125.8" y="139.0" width="2.3" height="2.3"/><rect x="148.2" y="159.3" width="2.3" height="2.3"/><rect x="142.6" y="122.2" width="2.3" height="2.3"/><rect x="131.9" y="139.0" width="2.3" height="2.3"/><rect x="122.4" y="166.8" width="2.3" height="2.3"/><rect x="144.8" y="128.2" width="2.3" height="2.3"/><rect x="126.5" y="128.8" width="2.3" height="2.3"/><rect x="129.7" y="108.0" width="2.3" height="2.3"/><rect x="126.7" y="97.2" width="2.3" height="2.3"/><rect x="138.0" y="162.6" width="2.3" height="2.3"/><rect x="135.9" y="190.8" width="2.3" height="2.3"/><rect x="138.9" y="159.4" width="2.3" height="2.3"/><rect x="132.8" y="169.2" width="2.3" height="2.3"/><rect x="128.0" y="97.3" width="2.3" height="2.3"/><rect x="141.1" y="145.1" width="2.3" height="2.3"/><rect x="138.1" y="170.9" width="2.3" height="2.3"/><rect x="145.8" y="91.3" width="2.3" height="2.3"/><rect x="139.8" y="134.4" width="2.3" height="2.3"/><rect x="125.1" y="82.2" width="2.3" height="2.3"/><rect x="134.7" y="178.4" width="2.3" height="2.3"/><rect x="132.5" y="128.1" width="2.3" height="2.3"/><rect x="155.8" y="176.2" width="2.3" height="2.3"/><rect x="140.7" y="166.2" width="2.3" height="2.3"/><rect x="145.6" y="125.2" width="2.3" height="2.3"/><rect x="142.2" y="158.5" width="2.3" height="2.3"/><rect x="139.2" y="184.3" width="2.3" height="2.3"/><rect x="145.5" y="102.8" width="2.3" height="2.3"/><rect x="127.2" y="98.3" width="2.3" height="2.3"/><rect x="141.6" y="137.7" width="2.3" height="2.3"/><rect x="138.3" y="171.0" width="2.3" height="2.3"/><rect x="133.8" y="147.6" width="2.3" height="2.3"/><rect x="142.9" y="101.7" width="2.3" height="2.3"/><rect x="135.5" y="181.1" width="2.3" height="2.3"/><rect x="141.7" y="154.8" width="2.3" height="2.3"/><rect x="114.9" y="174.6" width="2.3" height="2.3"/><rect x="127.3" y="148.4" width="2.3" height="2.3"/><rect x="140.3" y="122.2" width="2.3" height="2.3"/><rect x="125.3" y="145.1" width="2.3" height="2.3"/><rect x="138.6" y="112.0" width="2.3" height="2.3"/><rect x="133.3" y="191.4" width="2.3" height="2.3"/><rect x="135.4" y="192.3" width="2.3" height="2.3"/><rect x="134.1" y="191.6" width="2.3" height="2.3"/><rect x="137.1" y="174.8" width="2.3" height="2.3"/><rect x="149.3" y="167.1" width="2.3" height="2.3"/><rect x="144.1" y="157.1" width="2.3" height="2.3"/><rect x="134.8" y="189.9" width="2.3" height="2.3"/><rect x="133.2" y="175.9" width="2.3" height="2.3"/><rect x="143.6" y="157.7" width="2.3" height="2.3"/><rect x="137.2" y="181.5" width="2.3" height="2.3"/><rect x="130.9" y="142.9" width="2.3" height="2.3"/><rect x="129.8" y="187.0" width="2.3" height="2.3"/><rect x="137.1" y="153.2" width="2.3" height="2.3"/><rect x="126.6" y="172.3" width="2.3" height="2.3"/><rect x="126.2" y="108.2" width="2.3" height="2.3"/><rect x="141.6" y="72.7" width="2.3" height="2.3"/><rect x="127.2" y="167.5" width="2.3" height="2.3"/><rect x="114.7" y="177.7" width="2.3" height="2.3"/><rect x="124.2" y="122.5" width="2.3" height="2.3"/><rect x="146.8" y="182.8" width="2.3" height="2.3"/><rect x="123.7" y="134.2" width="2.3" height="2.3"/><rect x="144.4" y="130.3" width="2.3" height="2.3"/><rect x="141.5" y="101.7" width="2.3" height="2.3"/><rect x="128.3" y="169.2" width="2.3" height="2.3"/><rect x="147.3" y="156.0" width="2.3" height="2.3"/><rect x="131.8" y="173.8" width="2.3" height="2.3"/><rect x="143.5" y="173.9" width="2.3" height="2.3"/><rect x="125.4" y="128.7" width="2.3" height="2.3"/><rect x="145.2" y="125.7" width="2.3" height="2.3"/><rect x="132.9" y="177.6" width="2.3" height="2.3"/><rect x="135.8" y="190.2" width="2.3" height="2.3"/><rect x="130.0" y="125.8" width="2.3" height="2.3"/><rect x="125.6" y="155.1" width="2.3" height="2.3"/><rect x="139.4" y="125.2" width="2.3" height="2.3"/><rect x="149.7" y="176.6" width="2.3" height="2.3"/><rect x="126.9" y="102.7" width="2.3" height="2.3"/><rect x="126.1" y="139.9" width="2.3" height="2.3"/><rect x="146.2" y="146.4" width="2.3" height="2.3"/><rect x="136.7" y="188.9" width="2.3" height="2.3"/><rect x="135.2" y="192.5" width="2.3" height="2.3"/><rect x="133.4" y="152.9" width="2.3" height="2.3"/><rect x="142.5" y="166.9" width="2.3" height="2.3"/><rect x="145.7" y="175.7" width="2.3" height="2.3"/><rect x="128.3" y="101.3" width="2.3" height="2.3"/><rect x="141.8" y="102.7" width="2.3" height="2.3"/><rect x="147.4" y="171.1" width="2.3" height="2.3"/><rect x="130.9" y="189.7" width="2.3" height="2.3"/><rect x="126.3" y="162.6" width="2.3" height="2.3"/><rect x="131.7" y="189.1" width="2.3" height="2.3"/><rect x="145.7" y="169.0" width="2.3" height="2.3"/><rect x="130.6" y="149.6" width="2.3" height="2.3"/><rect x="125.7" y="160.8" width="2.3" height="2.3"/><rect x="146.2" y="155.0" width="2.3" height="2.3"/><rect x="145.6" y="184.2" width="2.3" height="2.3"/><rect x="132.8" y="189.5" width="2.3" height="2.3"/><rect x="129.5" y="131.0" width="2.3" height="2.3"/><rect x="143.4" y="132.5" width="2.3" height="2.3"/><rect x="145.0" y="180.4" width="2.3" height="2.3"/><rect x="142.7" y="130.5" width="2.3" height="2.3"/><rect x="126.9" y="100.5" width="2.3" height="2.3"/><rect x="147.4" y="147.3" width="2.3" height="2.3"/><rect x="141.8" y="91.4" width="2.3" height="2.3"/><rect x="149.1" y="176.9" width="2.3" height="2.3"/><rect x="152.4" y="178.3" width="2.3" height="2.3"/><rect x="143.2" y="105.2" width="2.3" height="2.3"/><rect x="142.7" y="154.1" width="2.3" height="2.3"/><rect x="125.8" y="107.4" width="2.3" height="2.3"/><rect x="135.8" y="174.9" width="2.3" height="2.3"/><rect x="132.1" y="136.1" width="2.3" height="2.3"/><rect x="134.8" y="185.0" width="2.3" height="2.3"/><rect x="144.5" y="178.1" width="2.3" height="2.3"/><rect x="119.3" y="176.1" width="2.3" height="2.3"/><rect x="145.1" y="97.8" width="2.3" height="2.3"/><rect x="123.0" y="157.6" width="2.3" height="2.3"/><rect x="136.8" y="157.8" width="2.3" height="2.3"/><rect x="145.2" y="97.1" width="2.3" height="2.3"/><rect x="142.0" y="91.6" width="2.3" height="2.3"/><rect x="140.9" y="167.4" width="2.3" height="2.3"/><rect x="146.0" y="149.5" width="2.3" height="2.3"/><rect x="127.7" y="146.8" width="2.3" height="2.3"/><rect x="130.3" y="161.3" width="2.3" height="2.3"/><rect x="135.8" y="191.0" width="2.3" height="2.3"/><rect x="125.9" y="71.6" width="2.3" height="2.3"/><rect x="134.2" y="184.4" width="2.3" height="2.3"/><rect x="143.3" y="169.4" width="2.3" height="2.3"/><rect x="139.7" y="142.4" width="2.3" height="2.3"/><rect x="137.3" y="181.2" width="2.3" height="2.3"/><rect x="131.5" y="187.8" width="2.3" height="2.3"/><rect x="138.0" y="132.7" width="2.3" height="2.3"/><rect x="138.4" y="140.3" width="2.3" height="2.3"/><rect x="131.6" y="107.4" width="2.3" height="2.3"/><rect x="143.7" y="112.9" width="2.3" height="2.3"/><rect x="140.9" y="181.2" width="2.3" height="2.3"/><rect x="124.8" y="114.5" width="2.3" height="2.3"/><rect x="130.4" y="102.3" width="2.3" height="2.3"/><rect x="123.5" y="167.9" width="2.3" height="2.3"/><rect x="149.6" y="177.5" width="2.3" height="2.3"/><rect x="141.5" y="173.2" width="2.3" height="2.3"/><rect x="137.6" y="188.9" width="2.3" height="2.3"/><rect x="145.6" y="101.1" width="2.3" height="2.3"/><rect x="141.2" y="185.4" width="2.3" height="2.3"/><rect x="129.3" y="149.5" width="2.3" height="2.3"/><rect x="125.4" y="143.2" width="2.3" height="2.3"/><rect x="124.4" y="178.2" width="2.3" height="2.3"/><rect x="127.5" y="147.5" width="2.3" height="2.3"/><rect x="125.7" y="147.5" width="2.3" height="2.3"/><rect x="120.0" y="178.7" width="2.3" height="2.3"/><rect x="129.6" y="121.9" width="2.3" height="2.3"/><rect x="123.0" y="167.5" width="2.3" height="2.3"/><rect x="120.6" y="171.7" width="2.3" height="2.3"/><rect x="143.2" y="122.1" width="2.3" height="2.3"/><rect x="136.1" y="178.8" width="2.3" height="2.3"/><rect x="133.6" y="164.6" width="2.3" height="2.3"/><rect x="142.7" y="100.3" width="2.3" height="2.3"/><rect x="130.5" y="99.3" width="2.3" height="2.3"/><rect x="131.4" y="165.2" width="2.3" height="2.3"/><rect x="140.3" y="172.9" width="2.3" height="2.3"/><rect x="118.6" y="174.8" width="2.3" height="2.3"/><rect x="134.6" y="189.9" width="2.3" height="2.3"/><rect x="143.4" y="121.1" width="2.3" height="2.3"/><rect x="142.8" y="186.0" width="2.3" height="2.3"/><rect x="130.0" y="132.5" width="2.3" height="2.3"/><rect x="140.8" y="183.4" width="2.3" height="2.3"/><rect x="139.1" y="184.8" width="2.3" height="2.3"/><rect x="136.4" y="190.5" width="2.3" height="2.3"/><rect x="146.2" y="101.6" width="2.3" height="2.3"/><rect x="137.9" y="169.6" width="2.3" height="2.3"/><rect x="143.4" y="111.8" width="2.3" height="2.3"/><rect x="139.7" y="150.4" width="2.3" height="2.3"/><rect x="126.9" y="104.5" width="2.3" height="2.3"/><rect x="132.1" y="169.9" width="2.3" height="2.3"/><rect x="141.4" y="142.1" width="2.3" height="2.3"/><rect x="139.9" y="88.6" width="2.3" height="2.3"/><rect x="129.5" y="188.4" width="2.3" height="2.3"/><rect x="121.9" y="175.3" width="2.3" height="2.3"/><rect x="143.8" y="169.6" width="2.3" height="2.3"/><rect x="136.0" y="181.6" width="2.3" height="2.3"/><rect x="128.9" y="135.7" width="2.3" height="2.3"/><rect x="123.0" y="170.5" width="2.3" height="2.3"/><rect x="127.2" y="169.5" width="2.3" height="2.3"/><rect x="139.7" y="114.7" width="2.3" height="2.3"/><rect x="126.1" y="178.5" width="2.3" height="2.3"/><rect x="136.1" y="154.0" width="2.3" height="2.3"/><rect x="141.8" y="88.9" width="2.3" height="2.3"/><rect x="127.7" y="80.7" width="2.3" height="2.3"/><rect x="152.4" y="173.2" width="2.3" height="2.3"/><rect x="131.5" y="135.8" width="2.3" height="2.3"/><rect x="135.1" y="192.8" width="2.3" height="2.3"/><rect x="123.8" y="151.8" width="2.3" height="2.3"/><rect x="127.1" y="141.9" width="2.3" height="2.3"/><rect x="126.6" y="131.3" width="2.3" height="2.3"/><rect x="140.5" y="171.9" width="2.3" height="2.3"/><rect x="143.1" y="110.9" width="2.3" height="2.3"/><rect x="137.1" y="147.1" width="2.3" height="2.3"/><rect x="144.9" y="86.6" width="2.3" height="2.3"/><rect x="122.5" y="183.3" width="2.3" height="2.3"/><rect x="154.0" y="172.8" width="2.3" height="2.3"/><rect x="140.6" y="98.7" width="2.3" height="2.3"/><rect x="119.3" y="171.1" width="2.3" height="2.3"/><rect x="140.5" y="175.3" width="2.3" height="2.3"/><rect x="153.0" y="176.6" width="2.3" height="2.3"/><rect x="125.1" y="172.2" width="2.3" height="2.3"/><rect x="122.6" y="173.4" width="2.3" height="2.3"/><rect x="143.4" y="109.4" width="2.3" height="2.3"/><rect x="144.7" y="137.2" width="2.3" height="2.3"/><rect x="120.0" y="169.1" width="2.3" height="2.3"/><rect x="142.5" y="123.4" width="2.3" height="2.3"/><rect x="142.0" y="184.3" width="2.3" height="2.3"/><rect x="142.6" y="184.3" width="2.3" height="2.3"/><rect x="147.2" y="141.1" width="2.3" height="2.3"/><rect x="145.5" y="98.3" width="2.3" height="2.3"/><rect x="120.1" y="173.4" width="2.3" height="2.3"/><rect x="125.9" y="143.4" width="2.3" height="2.3"/><rect x="132.8" y="184.2" width="2.3" height="2.3"/><rect x="140.2" y="69.1" width="2.3" height="2.3"/><rect x="138.8" y="174.3" width="2.3" height="2.3"/><rect x="131.0" y="174.4" width="2.3" height="2.3"/><rect x="133.8" y="187.9" width="2.3" height="2.3"/><rect x="146.2" y="183.9" width="2.3" height="2.3"/><rect x="126.5" y="90.6" width="2.3" height="2.3"/><rect x="132.5" y="139.6" width="2.3" height="2.3"/><rect x="117.2" y="174.6" width="2.3" height="2.3"/><rect x="138.6" y="148.6" width="2.3" height="2.3"/><rect x="128.7" y="149.2" width="2.3" height="2.3"/><rect x="138.3" y="168.4" width="2.3" height="2.3"/><rect x="127.3" y="93.4" width="2.3" height="2.3"/><rect x="131.8" y="140.5" width="2.3" height="2.3"/><rect x="142.1" y="122.3" width="2.3" height="2.3"/><rect x="127.9" y="172.0" width="2.3" height="2.3"/><rect x="138.9" y="167.3" width="2.3" height="2.3"/><rect x="141.9" y="72.8" width="2.3" height="2.3"/><rect x="129.9" y="122.1" width="2.3" height="2.3"/><rect x="132.2" y="157.3" width="2.3" height="2.3"/><rect x="134.4" y="189.5" width="2.3" height="2.3"/><rect x="134.1" y="159.9" width="2.3" height="2.3"/><rect x="127.7" y="107.8" width="2.3" height="2.3"/><rect x="131.2" y="139.2" width="2.3" height="2.3"/><rect x="135.1" y="175.1" width="2.3" height="2.3"/><rect x="127.6" y="155.9" width="2.3" height="2.3"/><rect x="145.0" y="99.7" width="2.3" height="2.3"/><rect x="131.7" y="188.4" width="2.3" height="2.3"/><rect x="140.7" y="108.0" width="2.3" height="2.3"/><rect x="142.8" y="115.6" width="2.3" height="2.3"/><rect x="144.7" y="101.8" width="2.3" height="2.3"/><rect x="128.9" y="112.2" width="2.3" height="2.3"/><rect x="129.8" y="93.8" width="2.3" height="2.3"/><rect x="130.7" y="181.4" width="2.3" height="2.3"/><rect x="125.4" y="147.9" width="2.3" height="2.3"/><rect x="140.1" y="136.7" width="2.3" height="2.3"/><rect x="120.8" y="170.5" width="2.3" height="2.3"/><rect x="131.8" y="133.9" width="2.3" height="2.3"/><rect x="129.4" y="147.1" width="2.3" height="2.3"/><rect x="130.3" y="133.7" width="2.3" height="2.3"/><rect x="145.4" y="149.2" width="2.3" height="2.3"/><rect x="134.4" y="186.3" width="2.3" height="2.3"/><rect x="129.0" y="93.1" width="2.3" height="2.3"/><rect x="131.7" y="188.2" width="2.3" height="2.3"/><rect x="131.3" y="134.9" width="2.3" height="2.3"/><rect x="124.0" y="126.7" width="2.3" height="2.3"/><rect x="142.8" y="185.8" width="2.3" height="2.3"/><rect x="134.7" y="192.7" width="2.3" height="2.3"/><rect x="140.2" y="120.6" width="2.3" height="2.3"/><rect x="125.5" y="185.3" width="2.3" height="2.3"/><rect x="141.6" y="83.5" width="2.3" height="2.3"/><rect x="129.8" y="139.0" width="2.3" height="2.3"/><rect x="125.5" y="102.4" width="2.3" height="2.3"/><rect x="135.2" y="191.1" width="2.3" height="2.3"/><rect x="145.0" y="125.7" width="2.3" height="2.3"/><rect x="146.0" y="101.3" width="2.3" height="2.3"/><rect x="146.0" y="135.3" width="2.3" height="2.3"/><rect x="144.3" y="129.7" width="2.3" height="2.3"/><rect x="129.8" y="142.6" width="2.3" height="2.3"/><rect x="141.5" y="155.6" width="2.3" height="2.3"/><rect x="141.7" y="169.4" width="2.3" height="2.3"/><rect x="131.0" y="148.9" width="2.3" height="2.3"/><rect x="137.1" y="183.7" width="2.3" height="2.3"/><rect x="117.5" y="171.7" width="2.3" height="2.3"/><rect x="137.5" y="172.9" width="2.3" height="2.3"/><rect x="132.4" y="147.2" width="2.3" height="2.3"/><rect x="142.1" y="170.2" width="2.3" height="2.3"/><rect x="143.4" y="96.0" width="2.3" height="2.3"/><rect x="136.7" y="189.7" width="2.3" height="2.3"/><rect x="140.3" y="125.5" width="2.3" height="2.3"/><rect x="141.1" y="169.2" width="2.3" height="2.3"/><rect x="130.4" y="145.1" width="2.3" height="2.3"/><rect x="146.7" y="139.7" width="2.3" height="2.3"/><rect x="144.4" y="174.3" width="2.3" height="2.3"/><rect x="136.7" y="188.7" width="2.3" height="2.3"/><rect x="139.1" y="183.6" width="2.3" height="2.3"/><rect x="142.0" y="121.0" width="2.3" height="2.3"/><rect x="124.9" y="95.8" width="2.3" height="2.3"/><rect x="125.9" y="109.3" width="2.3" height="2.3"/><rect x="142.4" y="126.2" width="2.3" height="2.3"/><rect x="124.9" y="145.8" width="2.3" height="2.3"/><rect x="134.6" y="191.9" width="2.3" height="2.3"/><rect x="130.6" y="171.6" width="2.3" height="2.3"/><rect x="130.1" y="142.1" width="2.3" height="2.3"/><rect x="131.9" y="186.8" width="2.3" height="2.3"/><rect x="142.5" y="118.6" width="2.3" height="2.3"/><rect x="131.5" y="188.2" width="2.3" height="2.3"/><rect x="140.3" y="84.7" width="2.3" height="2.3"/><rect x="143.1" y="176.1" width="2.3" height="2.3"/><rect x="146.9" y="168.2" width="2.3" height="2.3"/><rect x="140.9" y="147.1" width="2.3" height="2.3"/><rect x="149.6" y="174.4" width="2.3" height="2.3"/><rect x="129.3" y="107.9" width="2.3" height="2.3"/><rect x="130.2" y="175.0" width="2.3" height="2.3"/><rect x="144.3" y="118.1" width="2.3" height="2.3"/><rect x="139.3" y="188.2" width="2.3" height="2.3"/><rect x="146.2" y="158.1" width="2.3" height="2.3"/><rect x="124.6" y="116.2" width="2.3" height="2.3"/><rect x="134.3" y="160.4" width="2.3" height="2.3"/><rect x="143.9" y="144.7" width="2.3" height="2.3"/><rect x="138.7" y="152.2" width="2.3" height="2.3"/><rect x="126.3" y="182.0" width="2.3" height="2.3"/><rect x="151.3" y="180.3" width="2.3" height="2.3"/><rect x="143.4" y="167.0" width="2.3" height="2.3"/><rect x="136.8" y="157.6" width="2.3" height="2.3"/><rect x="137.3" y="168.4" width="2.3" height="2.3"/><rect x="142.6" y="102.7" width="2.3" height="2.3"/><rect x="146.5" y="160.0" width="2.3" height="2.3"/><rect x="126.2" y="119.1" width="2.3" height="2.3"/><rect x="142.2" y="170.3" width="2.3" height="2.3"/><rect x="130.3" y="151.6" width="2.3" height="2.3"/><rect x="119.8" y="179.2" width="2.3" height="2.3"/><rect x="132.3" y="183.5" width="2.3" height="2.3"/><rect x="137.8" y="131.8" width="2.3" height="2.3"/><rect x="144.0" y="136.8" width="2.3" height="2.3"/><rect x="125.5" y="114.1" width="2.3" height="2.3"/><rect x="127.4" y="126.5" width="2.3" height="2.3"/><rect x="146.0" y="100.0" width="2.3" height="2.3"/><rect x="116.3" y="173.5" width="2.3" height="2.3"/><rect x="135.9" y="172.9" width="2.3" height="2.3"/><rect x="135.6" y="188.0" width="2.3" height="2.3"/><rect x="125.3" y="145.7" width="2.3" height="2.3"/><rect x="129.3" y="185.8" width="2.3" height="2.3"/><rect x="143.1" y="145.6" width="2.3" height="2.3"/><rect x="127.1" y="126.6" width="2.3" height="2.3"/><rect x="156.6" y="176.3" width="2.3" height="2.3"/><rect x="146.2" y="114.1" width="2.3" height="2.3"/><rect x="133.6" y="188.8" width="2.3" height="2.3"/><rect x="153.0" y="172.5" width="2.3" height="2.3"/><rect x="127.8" y="180.6" width="2.3" height="2.3"/><rect x="142.4" y="140.4" width="2.3" height="2.3"/><rect x="124.2" y="180.5" width="2.3" height="2.3"/><rect x="134.4" y="192.2" width="2.3" height="2.3"/><rect x="121.0" y="171.8" width="2.3" height="2.3"/><rect x="131.0" y="189.8" width="2.3" height="2.3"/><rect x="145.0" y="98.9" width="2.3" height="2.3"/><rect x="145.3" y="122.8" width="2.3" height="2.3"/><rect x="143.9" y="156.2" width="2.3" height="2.3"/><rect x="143.0" y="183.7" width="2.3" height="2.3"/><rect x="136.7" y="158.6" width="2.3" height="2.3"/><rect x="146.7" y="163.0" width="2.3" height="2.3"/><rect x="138.3" y="148.4" width="2.3" height="2.3"/><rect x="136.5" y="190.8" width="2.3" height="2.3"/><rect x="134.8" y="189.2" width="2.3" height="2.3"/><rect x="144.5" y="175.8" width="2.3" height="2.3"/><rect x="139.9" y="100.2" width="2.3" height="2.3"/><rect x="136.7" y="172.6" width="2.3" height="2.3"/><rect x="125.6" y="120.8" width="2.3" height="2.3"/><rect x="133.5" y="146.0" width="2.3" height="2.3"/><rect x="124.8" y="97.6" width="2.3" height="2.3"/><rect x="124.2" y="156.6" width="2.3" height="2.3"/><rect x="147.3" y="151.1" width="2.3" height="2.3"/><rect x="143.5" y="168.2" width="2.3" height="2.3"/><rect x="137.0" y="184.8" width="2.3" height="2.3"/><rect x="126.6" y="149.2" width="2.3" height="2.3"/><rect x="146.1" y="150.9" width="2.3" height="2.3"/><rect x="126.8" y="117.1" width="2.3" height="2.3"/><rect x="129.7" y="186.3" width="2.3" height="2.3"/><rect x="138.1" y="136.7" width="2.3" height="2.3"/><rect x="136.1" y="181.2" width="2.3" height="2.3"/><rect x="144.8" y="131.8" width="2.3" height="2.3"/><rect x="132.3" y="124.5" width="2.3" height="2.3"/><rect x="119.3" y="179.7" width="2.3" height="2.3"/><rect x="130.5" y="185.6" width="2.3" height="2.3"/><rect x="132.1" y="189.6" width="2.3" height="2.3"/><rect x="129.2" y="139.7" width="2.3" height="2.3"/><rect x="141.5" y="101.9" width="2.3" height="2.3"/><rect x="117.7" y="178.8" width="2.3" height="2.3"/><rect x="136.6" y="182.1" width="2.3" height="2.3"/><rect x="133.3" y="137.9" width="2.3" height="2.3"/><rect x="147.0" y="175.6" width="2.3" height="2.3"/><rect x="143.8" y="176.2" width="2.3" height="2.3"/><rect x="145.7" y="179.8" width="2.3" height="2.3"/><rect x="136.9" y="185.5" width="2.3" height="2.3"/><rect x="139.7" y="148.6" width="2.3" height="2.3"/><rect x="130.8" y="149.1" width="2.3" height="2.3"/><rect x="144.7" y="121.4" width="2.3" height="2.3"/><rect x="148.8" y="158.7" width="2.3" height="2.3"/><rect x="129.8" y="153.0" width="2.3" height="2.3"/><rect x="142.1" y="173.9" width="2.3" height="2.3"/><rect x="140.1" y="187.0" width="2.3" height="2.3"/><rect x="132.5" y="187.9" width="2.3" height="2.3"/><rect x="137.3" y="190.8" width="2.3" height="2.3"/><rect x="138.4" y="158.1" width="2.3" height="2.3"/><rect x="142.2" y="114.1" width="2.3" height="2.3"/><rect x="156.4" y="175.4" width="2.3" height="2.3"/><rect x="147.3" y="153.6" width="2.3" height="2.3"/><rect x="147.9" y="180.4" width="2.3" height="2.3"/><rect x="128.1" y="166.3" width="2.3" height="2.3"/><rect x="128.7" y="91.0" width="2.3" height="2.3"/><rect x="138.0" y="145.4" width="2.3" height="2.3"/><rect x="139.6" y="112.3" width="2.3" height="2.3"/><rect x="136.5" y="174.1" width="2.3" height="2.3"/><rect x="134.2" y="174.1" width="2.3" height="2.3"/><rect x="125.8" y="113.5" width="2.3" height="2.3"/><rect x="125.0" y="129.8" width="2.3" height="2.3"/><rect x="149.9" y="173.8" width="2.3" height="2.3"/><rect x="126.8" y="169.1" width="2.3" height="2.3"/><rect x="125.2" y="163.9" width="2.3" height="2.3"/><rect x="143.7" y="96.3" width="2.3" height="2.3"/><rect x="141.7" y="148.8" width="2.3" height="2.3"/><rect x="144.1" y="69.4" width="2.3" height="2.3"/><rect x="142.0" y="133.8" width="2.3" height="2.3"/><rect x="128.1" y="125.2" width="2.3" height="2.3"/><rect x="127.7" y="79.7" width="2.3" height="2.3"/><rect x="131.9" y="114.2" width="2.3" height="2.3"/><rect x="145.0" y="86.4" width="2.3" height="2.3"/><rect x="140.0" y="142.9" width="2.3" height="2.3"/><rect x="125.5" y="86.0" width="2.3" height="2.3"/><rect x="130.3" y="148.4" width="2.3" height="2.3"/><rect x="142.1" y="135.4" width="2.3" height="2.3"/><rect x="121.4" y="178.4" width="2.3" height="2.3"/><rect x="130.4" y="143.0" width="2.3" height="2.3"/><rect x="138.7" y="176.4" width="2.3" height="2.3"/><rect x="139.8" y="138.2" width="2.3" height="2.3"/><rect x="125.9" y="142.3" width="2.3" height="2.3"/><rect x="137.4" y="190.2" width="2.3" height="2.3"/><rect x="142.4" y="103.9" width="2.3" height="2.3"/><rect x="136.8" y="147.9" width="2.3" height="2.3"/><rect x="136.2" y="191.4" width="2.3" height="2.3"/><rect x="131.3" y="162.4" width="2.3" height="2.3"/><rect x="125.6" y="101.2" width="2.3" height="2.3"/><rect x="143.4" y="172.6" width="2.3" height="2.3"/><rect x="140.8" y="166.1" width="2.3" height="2.3"/><rect x="128.0" y="165.7" width="2.3" height="2.3"/><rect x="125.0" y="133.7" width="2.3" height="2.3"/><rect x="130.0" y="189.1" width="2.3" height="2.3"/><rect x="139.0" y="174.6" width="2.3" height="2.3"/><rect x="150.3" y="170.6" width="2.3" height="2.3"/><rect x="133.1" y="169.2" width="2.3" height="2.3"/><rect x="140.8" y="127.6" width="2.3" height="2.3"/><rect x="140.9" y="177.0" width="2.3" height="2.3"/><rect x="151.9" y="172.5" width="2.3" height="2.3"/><rect x="130.5" y="148.1" width="2.3" height="2.3"/><rect x="132.0" y="125.0" width="2.3" height="2.3"/><rect x="128.6" y="187.2" width="2.3" height="2.3"/><rect x="138.1" y="142.8" width="2.3" height="2.3"/><rect x="130.5" y="159.4" width="2.3" height="2.3"/><rect x="146.5" y="129.5" width="2.3" height="2.3"/><rect x="145.1" y="101.0" width="2.3" height="2.3"/><rect x="146.7" y="145.9" width="2.3" height="2.3"/><rect x="141.3" y="108.7" width="2.3" height="2.3"/><rect x="127.5" y="171.3" width="2.3" height="2.3"/><rect x="125.7" y="149.0" width="2.3" height="2.3"/><rect x="147.7" y="164.3" width="2.3" height="2.3"/><rect x="139.8" y="182.5" width="2.3" height="2.3"/><rect x="127.0" y="159.9" width="2.3" height="2.3"/><rect x="125.5" y="138.2" width="2.3" height="2.3"/><rect x="128.1" y="122.6" width="2.3" height="2.3"/><rect x="127.8" y="184.2" width="2.3" height="2.3"/><rect x="141.0" y="137.5" width="2.3" height="2.3"/><rect x="142.9" y="102.6" width="2.3" height="2.3"/><rect x="126.7" y="132.9" width="2.3" height="2.3"/><rect x="144.6" y="133.4" width="2.3" height="2.3"/><rect x="132.7" y="151.8" width="2.3" height="2.3"/><rect x="132.8" y="173.8" width="2.3" height="2.3"/><rect x="138.6" y="135.7" width="2.3" height="2.3"/><rect x="138.0" y="133.7" width="2.3" height="2.3"/><rect x="134.1" y="152.8" width="2.3" height="2.3"/><rect x="119.0" y="179.8" width="2.3" height="2.3"/><rect x="125.4" y="173.4" width="2.3" height="2.3"/><rect x="124.8" y="90.0" width="2.3" height="2.3"/><rect x="151.8" y="174.1" width="2.3" height="2.3"/><rect x="125.2" y="101.9" width="2.3" height="2.3"/><rect x="124.6" y="133.0" width="2.3" height="2.3"/><rect x="134.4" y="181.4" width="2.3" height="2.3"/><rect x="144.0" y="151.9" width="2.3" height="2.3"/><rect x="126.0" y="99.0" width="2.3" height="2.3"/><rect x="123.6" y="182.4" width="2.3" height="2.3"/><rect x="135.3" y="192.4" width="2.3" height="2.3"/><rect x="133.2" y="160.7" width="2.3" height="2.3"/><rect x="142.0" y="172.7" width="2.3" height="2.3"/><rect x="136.0" y="190.9" width="2.3" height="2.3"/><rect x="145.1" y="122.7" width="2.3" height="2.3"/><rect x="140.0" y="94.0" width="2.3" height="2.3"/><rect x="130.2" y="128.3" width="2.3" height="2.3"/><rect x="138.2" y="178.1" width="2.3" height="2.3"/><rect x="132.6" y="138.4" width="2.3" height="2.3"/><rect x="119.3" y="169.7" width="2.3" height="2.3"/><rect x="123.9" y="137.6" width="2.3" height="2.3"/><rect x="141.9" y="173.2" width="2.3" height="2.3"/><rect x="143.3" y="126.9" width="2.3" height="2.3"/><rect x="123.6" y="152.1" width="2.3" height="2.3"/><rect x="147.4" y="169.4" width="2.3" height="2.3"/><rect x="127.4" y="97.5" width="2.3" height="2.3"/><rect x="129.7" y="99.3" width="2.3" height="2.3"/><rect x="125.5" y="162.7" width="2.3" height="2.3"/><rect x="141.9" y="170.4" width="2.3" height="2.3"/><rect x="151.1" y="169.7" width="2.3" height="2.3"/><rect x="120.5" y="171.1" width="2.3" height="2.3"/><rect x="156.5" y="176.1" width="2.3" height="2.3"/><rect x="141.9" y="85.5" width="2.3" height="2.3"/><rect x="141.9" y="106.4" width="2.3" height="2.3"/><rect x="120.1" y="169.3" width="2.3" height="2.3"/><rect x="144.8" y="142.6" width="2.3" height="2.3"/><rect x="141.6" y="183.0" width="2.3" height="2.3"/><rect x="131.5" y="158.1" width="2.3" height="2.3"/><rect x="147.1" y="170.4" width="2.3" height="2.3"/><rect x="116.5" y="178.7" width="2.3" height="2.3"/><rect x="137.9" y="123.4" width="2.3" height="2.3"/><rect x="142.5" y="101.4" width="2.3" height="2.3"/><rect x="125.8" y="78.3" width="2.3" height="2.3"/><rect x="127.1" y="125.8" width="2.3" height="2.3"/><rect x="120.6" y="169.6" width="2.3" height="2.3"/><rect x="141.0" y="101.4" width="2.3" height="2.3"/><rect x="130.5" y="170.8" width="2.3" height="2.3"/><rect x="144.0" y="181.1" width="2.3" height="2.3"/><rect x="146.1" y="167.5" width="2.3" height="2.3"/><rect x="132.7" y="129.5" width="2.3" height="2.3"/><rect x="130.9" y="112.7" width="2.3" height="2.3"/><rect x="122.4" y="167.3" width="2.3" height="2.3"/><rect x="138.1" y="179.6" width="2.3" height="2.3"/><rect x="144.7" y="162.2" width="2.3" height="2.3"/><rect x="124.7" y="181.3" width="2.3" height="2.3"/><rect x="133.2" y="175.0" width="2.3" height="2.3"/><rect x="125.6" y="167.0" width="2.3" height="2.3"/><rect x="133.0" y="132.4" width="2.3" height="2.3"/><rect x="125.6" y="98.0" width="2.3" height="2.3"/><rect x="142.2" y="112.0" width="2.3" height="2.3"/><rect x="143.1" y="101.6" width="2.3" height="2.3"/><rect x="138.0" y="186.6" width="2.3" height="2.3"/><rect x="142.9" y="129.6" width="2.3" height="2.3"/><rect x="129.5" y="86.4" width="2.3" height="2.3"/><rect x="144.1" y="75.1" width="2.3" height="2.3"/><rect x="149.9" y="165.8" width="2.3" height="2.3"/><rect x="141.3" y="122.4" width="2.3" height="2.3"/><rect x="139.1" y="152.3" width="2.3" height="2.3"/><rect x="127.5" y="100.1" width="2.3" height="2.3"/><rect x="145.9" y="102.6" width="2.3" height="2.3"/><rect x="139.5" y="137.4" width="2.3" height="2.3"/><rect x="145.6" y="142.1" width="2.3" height="2.3"/><rect x="142.8" y="149.4" width="2.3" height="2.3"/><rect x="125.7" y="99.5" width="2.3" height="2.3"/><rect x="130.0" y="126.2" width="2.3" height="2.3"/><rect x="139.1" y="187.1" width="2.3" height="2.3"/><rect x="138.0" y="155.5" width="2.3" height="2.3"/><rect x="140.6" y="150.9" width="2.3" height="2.3"/><rect x="123.5" y="176.1" width="2.3" height="2.3"/><rect x="140.1" y="169.1" width="2.3" height="2.3"/><rect x="122.8" y="172.0" width="2.3" height="2.3"/><rect x="135.2" y="189.2" width="2.3" height="2.3"/><rect x="127.9" y="107.3" width="2.3" height="2.3"/><rect x="139.9" y="76.0" width="2.3" height="2.3"/><rect x="141.0" y="125.0" width="2.3" height="2.3"/><rect x="126.6" y="131.0" width="2.3" height="2.3"/><rect x="141.3" y="174.1" width="2.3" height="2.3"/><rect x="151.0" y="177.6" width="2.3" height="2.3"/><rect x="137.1" y="172.9" width="2.3" height="2.3"/><rect x="125.5" y="178.9" width="2.3" height="2.3"/><rect x="136.4" y="187.0" width="2.3" height="2.3"/><rect x="125.9" y="150.6" width="2.3" height="2.3"/><rect x="120.6" y="175.0" width="2.3" height="2.3"/><rect x="131.6" y="116.5" width="2.3" height="2.3"/><rect x="140.2" y="178.0" width="2.3" height="2.3"/><rect x="135.1" y="185.1" width="2.3" height="2.3"/><rect x="129.0" y="111.8" width="2.3" height="2.3"/><rect x="143.3" y="121.2" width="2.3" height="2.3"/><rect x="142.7" y="150.9" width="2.3" height="2.3"/><rect x="130.8" y="122.1" width="2.3" height="2.3"/><rect x="128.3" y="113.8" width="2.3" height="2.3"/><rect x="139.5" y="171.8" width="2.3" height="2.3"/><rect x="134.4" y="175.8" width="2.3" height="2.3"/><rect x="130.2" y="145.3" width="2.3" height="2.3"/><rect x="143.6" y="183.4" width="2.3" height="2.3"/><rect x="137.8" y="186.4" width="2.3" height="2.3"/><rect x="150.2" y="166.5" width="2.3" height="2.3"/><rect x="143.4" y="147.9" width="2.3" height="2.3"/><rect x="144.4" y="101.9" width="2.3" height="2.3"/><rect x="126.4" y="97.8" width="2.3" height="2.3"/><rect x="133.8" y="187.6" width="2.3" height="2.3"/><rect x="136.9" y="190.9" width="2.3" height="2.3"/><rect x="127.9" y="187.4" width="2.3" height="2.3"/><rect x="148.5" y="172.3" width="2.3" height="2.3"/><rect x="129.5" y="106.8" width="2.3" height="2.3"/><rect x="137.9" y="173.2" width="2.3" height="2.3"/><rect x="130.1" y="130.9" width="2.3" height="2.3"/><rect x="143.7" y="156.2" width="2.3" height="2.3"/><rect x="143.0" y="156.3" width="2.3" height="2.3"/><rect x="137.0" y="174.1" width="2.3" height="2.3"/><rect x="135.1" y="191.7" width="2.3" height="2.3"/><rect x="144.7" y="139.8" width="2.3" height="2.3"/><rect x="120.9" y="181.7" width="2.3" height="2.3"/><rect x="131.2" y="120.0" width="2.3" height="2.3"/><rect x="141.7" y="170.8" width="2.3" height="2.3"/><rect x="142.4" y="123.3" width="2.3" height="2.3"/><rect x="125.2" y="124.7" width="2.3" height="2.3"/><rect x="128.2" y="147.5" width="2.3" height="2.3"/><rect x="128.4" y="187.0" width="2.3" height="2.3"/><rect x="123.4" y="153.3" width="2.3" height="2.3"/><rect x="154.9" y="175.8" width="2.3" height="2.3"/><rect x="146.3" y="103.6" width="2.3" height="2.3"/><rect x="134.0" y="174.5" width="2.3" height="2.3"/><rect x="145.5" y="148.6" width="2.3" height="2.3"/><rect x="124.5" y="160.9" width="2.3" height="2.3"/><rect x="136.1" y="155.1" width="2.3" height="2.3"/><rect x="143.5" y="160.3" width="2.3" height="2.3"/><rect x="123.2" y="149.4" width="2.3" height="2.3"/><rect x="131.6" y="125.5" width="2.3" height="2.3"/><rect x="124.9" y="122.6" width="2.3" height="2.3"/><rect x="129.5" y="105.0" width="2.3" height="2.3"/><rect x="143.9" y="96.9" width="2.3" height="2.3"/><rect x="129.3" y="107.7" width="2.3" height="2.3"/><rect x="140.8" y="99.6" width="2.3" height="2.3"/><rect x="144.3" y="139.0" width="2.3" height="2.3"/><rect x="135.0" y="173.9" width="2.3" height="2.3"/><rect x="145.6" y="172.3" width="2.3" height="2.3"/><rect x="138.7" y="164.2" width="2.3" height="2.3"/><rect x="133.3" y="142.6" width="2.3" height="2.3"/><rect x="144.5" y="102.2" width="2.3" height="2.3"/><rect x="120.0" y="167.6" width="2.3" height="2.3"/><rect x="140.4" y="183.7" width="2.3" height="2.3"/><rect x="127.1" y="137.6" width="2.3" height="2.3"/><rect x="128.5" y="128.9" width="2.3" height="2.3"/><rect x="135.3" y="183.1" width="2.3" height="2.3"/><rect x="140.5" y="141.5" width="2.3" height="2.3"/><rect x="141.7" y="102.8" width="2.3" height="2.3"/><rect x="140.8" y="175.0" width="2.3" height="2.3"/><rect x="127.3" y="175.5" width="2.3" height="2.3"/><rect x="138.8" y="183.6" width="2.3" height="2.3"/><rect x="137.2" y="165.4" width="2.3" height="2.3"/><rect x="121.9" y="158.0" width="2.3" height="2.3"/><rect x="123.7" y="162.3" width="2.3" height="2.3"/><rect x="146.1" y="106.9" width="2.3" height="2.3"/><rect x="123.1" y="176.2" width="2.3" height="2.3"/><rect x="140.4" y="102.7" width="2.3" height="2.3"/><rect x="123.3" y="173.4" width="2.3" height="2.3"/><rect x="143.7" y="94.6" width="2.3" height="2.3"/><rect x="134.2" y="179.3" width="2.3" height="2.3"/><rect x="125.8" y="99.4" width="2.3" height="2.3"/><rect x="135.3" y="187.8" width="2.3" height="2.3"/><rect x="132.5" y="185.6" width="2.3" height="2.3"/><rect x="132.0" y="117.2" width="2.3" height="2.3"/><rect x="145.7" y="121.4" width="2.3" height="2.3"/><rect x="143.5" y="125.0" width="2.3" height="2.3"/><rect x="124.1" y="162.4" width="2.3" height="2.3"/><rect x="125.7" y="143.0" width="2.3" height="2.3"/><rect x="141.2" y="130.3" width="2.3" height="2.3"/><rect x="140.9" y="153.7" width="2.3" height="2.3"/><rect x="126.9" y="133.1" width="2.3" height="2.3"/><rect x="141.0" y="115.3" width="2.3" height="2.3"/><rect x="127.7" y="171.9" width="2.3" height="2.3"/><rect x="139.6" y="127.2" width="2.3" height="2.3"/><rect x="146.2" y="128.7" width="2.3" height="2.3"/><rect x="145.2" y="112.3" width="2.3" height="2.3"/><rect x="150.9" y="179.7" width="2.3" height="2.3"/><rect x="136.1" y="190.0" width="2.3" height="2.3"/><rect x="140.3" y="137.4" width="2.3" height="2.3"/><rect x="123.8" y="174.4" width="2.3" height="2.3"/><rect x="150.5" y="176.3" width="2.3" height="2.3"/><rect x="139.1" y="108.3" width="2.3" height="2.3"/><rect x="135.7" y="186.4" width="2.3" height="2.3"/><rect x="123.8" y="177.3" width="2.3" height="2.3"/><rect x="132.9" y="183.2" width="2.3" height="2.3"/><rect x="123.1" y="183.8" width="2.3" height="2.3"/><rect x="130.2" y="104.1" width="2.3" height="2.3"/><rect x="133.6" y="147.2" width="2.3" height="2.3"/><rect x="143.5" y="102.1" width="2.3" height="2.3"/><rect x="140.2" y="169.0" width="2.3" height="2.3"/><rect x="128.7" y="187.8" width="2.3" height="2.3"/><rect x="125.1" y="86.0" width="2.3" height="2.3"/><rect x="143.5" y="122.2" width="2.3" height="2.3"/><rect x="134.0" y="188.7" width="2.3" height="2.3"/><rect x="148.4" y="164.0" width="2.3" height="2.3"/><rect x="140.7" y="107.0" width="2.3" height="2.3"/><rect x="135.2" y="192.5" width="2.3" height="2.3"/><rect x="147.7" y="167.9" width="2.3" height="2.3"/><rect x="125.7" y="134.8" width="2.3" height="2.3"/><rect x="128.9" y="98.0" width="2.3" height="2.3"/><rect x="125.4" y="181.9" width="2.3" height="2.3"/><rect x="145.5" y="124.0" width="2.3" height="2.3"/><rect x="143.4" y="102.8" width="2.3" height="2.3"/><rect x="131.2" y="122.7" width="2.3" height="2.3"/><rect x="112.9" y="176.0" width="2.3" height="2.3"/><rect x="143.7" y="177.2" width="2.3" height="2.3"/><rect x="145.9" y="96.4" width="2.3" height="2.3"/><rect x="141.9" y="132.7" width="2.3" height="2.3"/><rect x="126.0" y="125.6" width="2.3" height="2.3"/><rect x="132.5" y="182.5" width="2.3" height="2.3"/><rect x="143.9" y="80.1" width="2.3" height="2.3"/><rect x="140.5" y="152.7" width="2.3" height="2.3"/><rect x="129.7" y="114.9" width="2.3" height="2.3"/><rect x="137.6" y="182.0" width="2.3" height="2.3"/><rect x="139.5" y="145.3" width="2.3" height="2.3"/><rect x="129.9" y="165.4" width="2.3" height="2.3"/><rect x="146.4" y="130.4" width="2.3" height="2.3"/><rect x="125.7" y="102.8" width="2.3" height="2.3"/><rect x="130.3" y="101.9" width="2.3" height="2.3"/><rect x="127.0" y="97.2" width="2.3" height="2.3"/><rect x="140.7" y="101.1" width="2.3" height="2.3"/><rect x="132.9" y="149.7" width="2.3" height="2.3"/><rect x="128.6" y="134.9" width="2.3" height="2.3"/><rect x="124.5" y="117.4" width="2.3" height="2.3"/><rect x="130.2" y="154.1" width="2.3" height="2.3"/><rect x="140.9" y="186.7" width="2.3" height="2.3"/><rect x="133.2" y="171.1" width="2.3" height="2.3"/><rect x="142.6" y="98.1" width="2.3" height="2.3"/><rect x="128.9" y="112.3" width="2.3" height="2.3"/><rect x="136.5" y="186.8" width="2.3" height="2.3"/><rect x="130.2" y="181.1" width="2.3" height="2.3"/><rect x="124.0" y="178.3" width="2.3" height="2.3"/><rect x="136.5" y="165.3" width="2.3" height="2.3"/><rect x="124.7" y="144.8" width="2.3" height="2.3"/><rect x="144.2" y="156.1" width="2.3" height="2.3"/><rect x="115.9" y="174.4" width="2.3" height="2.3"/><rect x="142.8" y="101.9" width="2.3" height="2.3"/><rect x="146.3" y="169.4" width="2.3" height="2.3"/><rect x="129.4" y="133.2" width="2.3" height="2.3"/><rect x="137.4" y="171.0" width="2.3" height="2.3"/><rect x="144.7" y="128.4" width="2.3" height="2.3"/><rect x="140.9" y="171.0" width="2.3" height="2.3"/><rect x="128.4" y="143.4" width="2.3" height="2.3"/><rect x="126.5" y="139.9" width="2.3" height="2.3"/><rect x="145.9" y="180.9" width="2.3" height="2.3"/><rect x="141.8" y="156.5" width="2.3" height="2.3"/><rect x="138.1" y="143.9" width="2.3" height="2.3"/><rect x="124.9" y="164.4" width="2.3" height="2.3"/><rect x="138.8" y="141.7" width="2.3" height="2.3"/><rect x="131.8" y="140.9" width="2.3" height="2.3"/><rect x="139.0" y="158.6" width="2.3" height="2.3"/><rect x="128.6" y="186.7" width="2.3" height="2.3"/><rect x="132.9" y="191.4" width="2.3" height="2.3"/><rect x="137.6" y="147.6" width="2.3" height="2.3"/><rect x="127.5" y="139.9" width="2.3" height="2.3"/><rect x="145.2" y="148.6" width="2.3" height="2.3"/><rect x="134.2" y="191.8" width="2.3" height="2.3"/><rect x="142.5" y="152.4" width="2.3" height="2.3"/><rect x="137.0" y="186.2" width="2.3" height="2.3"/><rect x="129.2" y="120.0" width="2.3" height="2.3"/><rect x="121.3" y="173.5" width="2.3" height="2.3"/><rect x="140.4" y="178.5" width="2.3" height="2.3"/><rect x="122.9" y="169.7" width="2.3" height="2.3"/><rect x="134.1" y="191.8" width="2.3" height="2.3"/><rect x="125.5" y="184.7" width="2.3" height="2.3"/><rect x="124.9" y="164.9" width="2.3" height="2.3"/><rect x="128.5" y="173.4" width="2.3" height="2.3"/><rect x="119.5" y="176.4" width="2.3" height="2.3"/><rect x="127.1" y="101.6" width="2.3" height="2.3"/><rect x="140.4" y="82.2" width="2.3" height="2.3"/><rect x="142.2" y="147.4" width="2.3" height="2.3"/><rect x="148.5" y="180.0" width="2.3" height="2.3"/><rect x="125.5" y="126.5" width="2.3" height="2.3"/><rect x="141.4" y="144.3" width="2.3" height="2.3"/><rect x="128.4" y="147.2" width="2.3" height="2.3"/><rect x="131.0" y="112.3" width="2.3" height="2.3"/><rect x="146.0" y="164.1" width="2.3" height="2.3"/><rect x="127.1" y="125.3" width="2.3" height="2.3"/><rect x="138.3" y="123.6" width="2.3" height="2.3"/><rect x="124.8" y="102.7" width="2.3" height="2.3"/><rect x="122.0" y="160.6" width="2.3" height="2.3"/><rect x="140.8" y="128.1" width="2.3" height="2.3"/><rect x="145.3" y="162.9" width="2.3" height="2.3"/><rect x="127.1" y="100.4" width="2.3" height="2.3"/><rect x="144.3" y="150.6" width="2.3" height="2.3"/><rect x="146.5" y="135.7" width="2.3" height="2.3"/><rect x="120.1" y="169.9" width="2.3" height="2.3"/><rect x="129.6" y="127.6" width="2.3" height="2.3"/><rect x="135.8" y="177.1" width="2.3" height="2.3"/><rect x="120.7" y="172.0" width="2.3" height="2.3"/><rect x="145.5" y="98.1" width="2.3" height="2.3"/><rect x="135.3" y="183.5" width="2.3" height="2.3"/><rect x="144.7" y="168.1" width="2.3" height="2.3"/><rect x="138.2" y="175.2" width="2.3" height="2.3"/><rect x="131.0" y="137.0" width="2.3" height="2.3"/><rect x="135.2" y="191.7" width="2.3" height="2.3"/><rect x="141.1" y="134.9" width="2.3" height="2.3"/><rect x="125.3" y="96.9" width="2.3" height="2.3"/><rect x="145.9" y="171.5" width="2.3" height="2.3"/><rect x="132.4" y="187.6" width="2.3" height="2.3"/><rect x="129.1" y="122.2" width="2.3" height="2.3"/><rect x="129.1" y="80.5" width="2.3" height="2.3"/><rect x="125.8" y="171.3" width="2.3" height="2.3"/><rect x="124.6" y="148.5" width="2.3" height="2.3"/><rect x="142.5" y="100.1" width="2.3" height="2.3"/><rect x="119.8" y="176.8" width="2.3" height="2.3"/><rect x="143.4" y="119.6" width="2.3" height="2.3"/><rect x="125.9" y="161.0" width="2.3" height="2.3"/><rect x="121.8" y="168.1" width="2.3" height="2.3"/><rect x="143.1" y="94.1" width="2.3" height="2.3"/><rect x="128.3" y="110.6" width="2.3" height="2.3"/><rect x="139.4" y="116.8" width="2.3" height="2.3"/><rect x="139.2" y="183.7" width="2.3" height="2.3"/><rect x="143.1" y="184.4" width="2.3" height="2.3"/><rect x="146.0" y="129.8" width="2.3" height="2.3"/><rect x="140.1" y="153.8" width="2.3" height="2.3"/><rect x="138.5" y="121.7" width="2.3" height="2.3"/><rect x="147.5" y="175.5" width="2.3" height="2.3"/><rect x="133.0" y="170.9" width="2.3" height="2.3"/><rect x="121.5" y="176.1" width="2.3" height="2.3"/><rect x="119.6" y="173.2" width="2.3" height="2.3"/><rect x="127.9" y="169.7" width="2.3" height="2.3"/><rect x="140.0" y="135.9" width="2.3" height="2.3"/><rect x="153.2" y="176.4" width="2.3" height="2.3"/><rect x="132.7" y="169.3" width="2.3" height="2.3"/><rect x="127.7" y="183.7" width="2.3" height="2.3"/><rect x="137.2" y="185.0" width="2.3" height="2.3"/><rect x="140.0" y="167.6" width="2.3" height="2.3"/><rect x="141.8" y="89.6" width="2.3" height="2.3"/><rect x="124.4" y="124.5" width="2.3" height="2.3"/><rect x="127.4" y="98.7" width="2.3" height="2.3"/><rect x="151.3" y="168.1" width="2.3" height="2.3"/><rect x="138.4" y="167.4" width="2.3" height="2.3"/><rect x="148.9" y="169.7" width="2.3" height="2.3"/><rect x="137.7" y="173.2" width="2.3" height="2.3"/><rect x="128.0" y="130.2" width="2.3" height="2.3"/><rect x="127.5" y="146.0" width="2.3" height="2.3"/><rect x="133.3" y="174.2" width="2.3" height="2.3"/><rect x="127.3" y="164.2" width="2.3" height="2.3"/><rect x="123.1" y="161.3" width="2.3" height="2.3"/><rect x="127.0" y="97.5" width="2.3" height="2.3"/><rect x="128.2" y="143.0" width="2.3" height="2.3"/><rect x="139.6" y="171.3" width="2.3" height="2.3"/><rect x="143.8" y="135.1" width="2.3" height="2.3"/><rect x="134.3" y="192.6" width="2.3" height="2.3"/><rect x="130.4" y="162.6" width="2.3" height="2.3"/><rect x="134.5" y="166.5" width="2.3" height="2.3"/><rect x="135.2" y="182.9" width="2.3" height="2.3"/><rect x="145.4" y="160.4" width="2.3" height="2.3"/><rect x="124.9" y="130.1" width="2.3" height="2.3"/><rect x="137.1" y="183.4" width="2.3" height="2.3"/><rect x="129.5" y="135.4" width="2.3" height="2.3"/><rect x="125.4" y="104.0" width="2.3" height="2.3"/><rect x="128.8" y="187.5" width="2.3" height="2.3"/><rect x="135.7" y="173.9" width="2.3" height="2.3"/><rect x="126.6" y="124.4" width="2.3" height="2.3"/><rect x="145.6" y="179.2" width="2.3" height="2.3"/><rect x="145.3" y="101.8" width="2.3" height="2.3"/><rect x="144.8" y="86.8" width="2.3" height="2.3"/><rect x="138.7" y="172.3" width="2.3" height="2.3"/><rect x="146.2" y="145.9" width="2.3" height="2.3"/><rect x="127.4" y="174.1" width="2.3" height="2.3"/><rect x="128.8" y="142.6" width="2.3" height="2.3"/><rect x="128.8" y="128.2" width="2.3" height="2.3"/><rect x="136.8" y="155.3" width="2.3" height="2.3"/><rect x="132.1" y="136.6" width="2.3" height="2.3"/><rect x="126.0" y="165.0" width="2.3" height="2.3"/><rect x="132.0" y="165.9" width="2.3" height="2.3"/><rect x="142.4" y="126.1" width="2.3" height="2.3"/><rect x="141.8" y="162.1" width="2.3" height="2.3"/><rect x="148.7" y="175.9" width="2.3" height="2.3"/><rect x="129.5" y="86.2" width="2.3" height="2.3"/><rect x="138.1" y="134.2" width="2.3" height="2.3"/><rect x="131.0" y="120.2" width="2.3" height="2.3"/><rect x="128.7" y="123.1" width="2.3" height="2.3"/><rect x="131.0" y="143.3" width="2.3" height="2.3"/><rect x="137.0" y="145.1" width="2.3" height="2.3"/><rect x="144.2" y="142.5" width="2.3" height="2.3"/><rect x="126.6" y="178.3" width="2.3" height="2.3"/><rect x="145.7" y="122.5" width="2.3" height="2.3"/><rect x="133.8" y="191.5" width="2.3" height="2.3"/><rect x="125.2" y="98.8" width="2.3" height="2.3"/><rect x="136.8" y="172.0" width="2.3" height="2.3"/><rect x="137.9" y="134.2" width="2.3" height="2.3"/><rect x="141.5" y="138.7" width="2.3" height="2.3"/><rect x="140.4" y="138.0" width="2.3" height="2.3"/><rect x="141.5" y="78.7" width="2.3" height="2.3"/><rect x="134.7" y="185.0" width="2.3" height="2.3"/><rect x="121.6" y="170.2" width="2.3" height="2.3"/><rect x="137.8" y="146.9" width="2.3" height="2.3"/><rect x="135.5" y="175.0" width="2.3" height="2.3"/><rect x="144.2" y="147.4" width="2.3" height="2.3"/><rect x="136.2" y="167.3" width="2.3" height="2.3"/><rect x="149.7" y="176.7" width="2.3" height="2.3"/><rect x="147.1" y="160.5" width="2.3" height="2.3"/><rect x="143.7" y="138.9" width="2.3" height="2.3"/><rect x="125.6" y="138.5" width="2.3" height="2.3"/><rect x="148.4" y="172.7" width="2.3" height="2.3"/><rect x="146.8" y="146.2" width="2.3" height="2.3"/><rect x="139.3" y="174.8" width="2.3" height="2.3"/><rect x="140.4" y="183.7" width="2.3" height="2.3"/><rect x="142.1" y="174.7" width="2.3" height="2.3"/><rect x="139.5" y="123.3" width="2.3" height="2.3"/><rect x="143.8" y="140.2" width="2.3" height="2.3"/><rect x="132.0" y="119.2" width="2.3" height="2.3"/><rect x="125.0" y="98.7" width="2.3" height="2.3"/><rect x="131.2" y="132.0" width="2.3" height="2.3"/><rect x="146.0" y="106.5" width="2.3" height="2.3"/><rect x="140.5" y="146.6" width="2.3" height="2.3"/><rect x="143.2" y="160.5" width="2.3" height="2.3"/><rect x="143.6" y="181.1" width="2.3" height="2.3"/><rect x="144.4" y="99.1" width="2.3" height="2.3"/><rect x="144.1" y="138.4" width="2.3" height="2.3"/><rect x="135.0" y="186.3" width="2.3" height="2.3"/><rect x="127.7" y="143.3" width="2.3" height="2.3"/><rect x="123.6" y="165.0" width="2.3" height="2.3"/><rect x="138.0" y="189.3" width="2.3" height="2.3"/><rect x="131.6" y="113.1" width="2.3" height="2.3"/><rect x="151.3" y="169.3" width="2.3" height="2.3"/><rect x="141.3" y="157.8" width="2.3" height="2.3"/><rect x="141.9" y="81.1" width="2.3" height="2.3"/><rect x="145.6" y="151.8" width="2.3" height="2.3"/><rect x="145.2" y="124.7" width="2.3" height="2.3"/><rect x="128.0" y="184.7" width="2.3" height="2.3"/><rect x="145.6" y="98.8" width="2.3" height="2.3"/><rect x="142.7" y="103.8" width="2.3" height="2.3"/><rect x="149.6" y="162.1" width="2.3" height="2.3"/><rect x="140.3" y="168.9" width="2.3" height="2.3"/><rect x="128.6" y="170.3" width="2.3" height="2.3"/><rect x="134.5" y="176.8" width="2.3" height="2.3"/><rect x="122.8" y="171.5" width="2.3" height="2.3"/><rect x="128.0" y="137.9" width="2.3" height="2.3"/><rect x="128.1" y="125.0" width="2.3" height="2.3"/><rect x="132.2" y="163.9" width="2.3" height="2.3"/><rect x="132.8" y="190.1" width="2.3" height="2.3"/><rect x="135.9" y="190.7" width="2.3" height="2.3"/><rect x="143.2" y="159.1" width="2.3" height="2.3"/><rect x="146.5" y="130.0" width="2.3" height="2.3"/><rect x="138.0" y="133.2" width="2.3" height="2.3"/><rect x="145.4" y="171.6" width="2.3" height="2.3"/><rect x="129.9" y="167.6" width="2.3" height="2.3"/><rect x="137.9" y="149.0" width="2.3" height="2.3"/></g><g fill="#4a4fb5"><rect x="80.6" y="34.6" width="2.3" height="2.3"/><rect x="118.9" y="14.8" width="2.3" height="2.3"/><rect x="118.5" y="27.8" width="2.3" height="2.3"/><rect x="99.4" y="59.9" width="2.3" height="2.3"/><rect x="93.1" y="68.0" width="2.3" height="2.3"/><rect x="99.4" y="71.6" width="2.3" height="2.3"/><rect x="88.8" y="73.8" width="2.3" height="2.3"/><rect x="65.8" y="74.4" width="2.3" height="2.3"/><rect x="75.1" y="74.9" width="2.3" height="2.3"/><rect x="59.0" y="78.0" width="2.3" height="2.3"/><rect x="83.8" y="80.6" width="2.3" height="2.3"/><rect x="90.0" y="79.6" width="2.3" height="2.3"/><rect x="93.5" y="83.9" width="2.3" height="2.3"/><rect x="94.4" y="84.2" width="2.3" height="2.3"/><rect x="101.0" y="86.8" width="2.3" height="2.3"/><rect x="54.1" y="86.8" width="2.3" height="2.3"/><rect x="80.6" y="91.8" width="2.3" height="2.3"/><rect x="97.6" y="92.8" width="2.3" height="2.3"/><rect x="99.6" y="94.3" width="2.3" height="2.3"/><rect x="78.4" y="99.5" width="2.3" height="2.3"/><rect x="77.8" y="102.8" width="2.3" height="2.3"/><rect x="93.5" y="97.9" width="2.3" height="2.3"/><rect x="90.0" y="102.4" width="2.3" height="2.3"/><rect x="81.2" y="107.8" width="2.3" height="2.3"/><rect x="85.5" y="106.8" width="2.3" height="2.3"/><rect x="82.8" y="113.6" width="2.3" height="2.3"/><rect x="73.9" y="117.5" width="2.3" height="2.3"/><rect x="87.0" y="117.8" width="2.3" height="2.3"/><rect x="73.6" y="117.5" width="2.3" height="2.3"/><rect x="83.3" y="119.8" width="2.3" height="2.3"/><rect x="86.6" y="118.4" width="2.3" height="2.3"/><rect x="86.9" y="121.1" width="2.3" height="2.3"/><rect x="93.2" y="122.0" width="2.3" height="2.3"/><rect x="90.6" y="127.0" width="2.3" height="2.3"/><rect x="93.0" y="127.0" width="2.3" height="2.3"/><rect x="89.9" y="131.8" width="2.3" height="2.3"/><rect x="81.6" y="137.4" width="2.3" height="2.3"/><rect x="92.6" y="139.7" width="2.3" height="2.3"/><rect x="93.9" y="144.0" width="2.3" height="2.3"/><rect x="89.0" y="145.9" width="2.3" height="2.3"/><rect x="74.4" y="146.7" width="2.3" height="2.3"/><rect x="87.3" y="149.8" width="2.3" height="2.3"/><rect x="81.6" y="151.3" width="2.3" height="2.3"/><rect x="96.2" y="151.9" width="2.3" height="2.3"/><rect x="91.9" y="155.2" width="2.3" height="2.3"/><rect x="86.6" y="156.7" width="2.3" height="2.3"/><rect x="91.6" y="162.2" width="2.3" height="2.3"/><rect x="97.2" y="169.8" width="2.3" height="2.3"/><rect x="109.3" y="46.9" width="2.3" height="2.3"/><rect x="115.0" y="62.4" width="2.3" height="2.3"/><rect x="110.2" y="67.8" width="2.3" height="2.3"/><rect x="123.1" y="53.1" width="2.3" height="2.3"/><rect x="104.8" y="64.8" width="2.3" height="2.3"/><rect x="111.8" y="75.8" width="2.3" height="2.3"/><rect x="121.3" y="66.8" width="2.3" height="2.3"/><rect x="107.3" y="80.8" width="2.3" height="2.3"/><rect x="119.4" y="110.4" width="2.3" height="2.3"/><rect x="119.2" y="150.5" width="2.3" height="2.3"/><rect x="112.3" y="166.7" width="2.3" height="2.3"/><rect x="116.7" y="169.1" width="2.3" height="2.3"/><rect x="120.9" y="138.3" width="2.3" height="2.3"/><rect x="108.8" y="131.9" width="2.3" height="2.3"/><rect x="112.3" y="98.3" width="2.3" height="2.3"/><rect x="103.7" y="132.4" width="2.3" height="2.3"/><rect x="115.8" y="120.8" width="2.3" height="2.3"/><rect x="114.9" y="170.4" width="2.3" height="2.3"/><rect x="106.1" y="137.8" width="2.3" height="2.3"/><rect x="115.1" y="113.2" width="2.3" height="2.3"/><rect x="117.8" y="158.2" width="2.3" height="2.3"/><rect x="119.2" y="88.9" width="2.3" height="2.3"/><rect x="120.8" y="135.0" width="2.3" height="2.3"/><rect x="112.8" y="136.4" width="2.3" height="2.3"/><rect x="97.7" y="147.7" width="2.3" height="2.3"/><rect x="119.1" y="155.6" width="2.3" height="2.3"/><rect x="120.2" y="116.4" width="2.3" height="2.3"/><rect x="120.3" y="114.0" width="2.3" height="2.3"/><rect x="121.9" y="107.5" width="2.3" height="2.3"/><rect x="118.4" y="127.3" width="2.3" height="2.3"/><rect x="112.6" y="152.4" width="2.3" height="2.3"/><rect x="111.7" y="156.5" width="2.3" height="2.3"/><rect x="119.6" y="158.9" width="2.3" height="2.3"/><rect x="119.0" y="149.6" width="2.3" height="2.3"/><rect x="113.1" y="143.2" width="2.3" height="2.3"/><rect x="119.3" y="154.9" width="2.3" height="2.3"/><rect x="104.8" y="114.7" width="2.3" height="2.3"/><rect x="118.5" y="116.2" width="2.3" height="2.3"/><rect x="114.9" y="123.9" width="2.3" height="2.3"/><rect x="119.5" y="150.6" width="2.3" height="2.3"/><rect x="114.5" y="102.9" width="2.3" height="2.3"/><rect x="118.6" y="127.7" width="2.3" height="2.3"/><rect x="112.2" y="148.7" width="2.3" height="2.3"/><rect x="120.5" y="144.9" width="2.3" height="2.3"/><rect x="114.4" y="151.7" width="2.3" height="2.3"/><rect x="115.5" y="154.0" width="2.3" height="2.3"/><rect x="118.7" y="130.1" width="2.3" height="2.3"/><rect x="120.3" y="111.9" width="2.3" height="2.3"/><rect x="121.8" y="120.2" width="2.3" height="2.3"/><rect x="121.0" y="148.7" width="2.3" height="2.3"/><rect x="112.0" y="160.3" width="2.3" height="2.3"/><rect x="105.1" y="96.0" width="2.3" height="2.3"/><rect x="119.5" y="154.6" width="2.3" height="2.3"/><rect x="101.6" y="162.6" width="2.3" height="2.3"/><rect x="111.3" y="109.4" width="2.3" height="2.3"/><rect x="118.6" y="164.3" width="2.3" height="2.3"/><rect x="112.5" y="110.7" width="2.3" height="2.3"/><rect x="110.7" y="97.0" width="2.3" height="2.3"/><rect x="117.0" y="143.6" width="2.3" height="2.3"/><rect x="119.1" y="124.7" width="2.3" height="2.3"/><rect x="121.1" y="94.5" width="2.3" height="2.3"/><rect x="118.6" y="89.4" width="2.3" height="2.3"/><rect x="115.0" y="88.7" width="2.3" height="2.3"/><rect x="120.7" y="126.2" width="2.3" height="2.3"/><rect x="96.6" y="124.2" width="2.3" height="2.3"/><rect x="110.2" y="127.1" width="2.3" height="2.3"/><rect x="119.1" y="133.3" width="2.3" height="2.3"/><rect x="115.5" y="156.7" width="2.3" height="2.3"/><rect x="118.8" y="140.4" width="2.3" height="2.3"/><rect x="120.1" y="101.3" width="2.3" height="2.3"/><rect x="116.7" y="137.1" width="2.3" height="2.3"/><rect x="102.8" y="110.7" width="2.3" height="2.3"/><rect x="118.7" y="131.3" width="2.3" height="2.3"/><rect x="119.0" y="158.7" width="2.3" height="2.3"/><rect x="111.6" y="174.7" width="2.3" height="2.3"/><rect x="111.9" y="160.8" width="2.3" height="2.3"/><rect x="116.8" y="144.0" width="2.3" height="2.3"/><rect x="122.2" y="87.0" width="2.3" height="2.3"/><rect x="119.3" y="137.8" width="2.3" height="2.3"/><rect x="120.8" y="103.3" width="2.3" height="2.3"/><rect x="117.7" y="109.4" width="2.3" height="2.3"/><rect x="122.1" y="97.0" width="2.3" height="2.3"/><rect x="119.5" y="142.2" width="2.3" height="2.3"/><rect x="117.6" y="163.5" width="2.3" height="2.3"/><rect x="120.4" y="118.6" width="2.3" height="2.3"/><rect x="113.2" y="139.8" width="2.3" height="2.3"/><rect x="115.6" y="153.6" width="2.3" height="2.3"/><rect x="113.1" y="150.5" width="2.3" height="2.3"/><rect x="119.8" y="120.6" width="2.3" height="2.3"/><rect x="118.4" y="137.9" width="2.3" height="2.3"/><rect x="101.2" y="87.2" width="2.3" height="2.3"/><rect x="120.1" y="103.4" width="2.3" height="2.3"/><rect x="119.0" y="135.1" width="2.3" height="2.3"/><rect x="116.4" y="90.0" width="2.3" height="2.3"/><rect x="97.6" y="158.9" width="2.3" height="2.3"/><rect x="120.5" y="134.3" width="2.3" height="2.3"/><rect x="100.2" y="148.5" width="2.3" height="2.3"/><rect x="117.3" y="113.0" width="2.3" height="2.3"/><rect x="121.6" y="115.8" width="2.3" height="2.3"/><rect x="111.5" y="146.1" width="2.3" height="2.3"/><rect x="112.3" y="167.8" width="2.3" height="2.3"/><rect x="116.5" y="151.9" width="2.3" height="2.3"/><rect x="107.1" y="138.5" width="2.3" height="2.3"/><rect x="108.8" y="152.8" width="2.3" height="2.3"/><rect x="114.5" y="167.0" width="2.3" height="2.3"/><rect x="118.2" y="109.5" width="2.3" height="2.3"/><rect x="122.2" y="120.9" width="2.3" height="2.3"/><rect x="118.7" y="139.3" width="2.3" height="2.3"/><rect x="112.0" y="96.6" width="2.3" height="2.3"/><rect x="118.0" y="156.5" width="2.3" height="2.3"/><rect x="116.0" y="114.4" width="2.3" height="2.3"/><rect x="114.3" y="129.6" width="2.3" height="2.3"/><rect x="118.2" y="144.7" width="2.3" height="2.3"/><rect x="118.8" y="132.6" width="2.3" height="2.3"/><rect x="117.5" y="164.3" width="2.3" height="2.3"/><rect x="116.6" y="107.6" width="2.3" height="2.3"/><rect x="110.3" y="164.4" width="2.3" height="2.3"/><rect x="113.0" y="162.0" width="2.3" height="2.3"/><rect x="105.8" y="141.1" width="2.3" height="2.3"/><rect x="108.8" y="153.8" width="2.3" height="2.3"/><rect x="118.0" y="99.3" width="2.3" height="2.3"/><rect x="116.2" y="108.6" width="2.3" height="2.3"/><rect x="101.6" y="96.3" width="2.3" height="2.3"/><rect x="115.9" y="168.4" width="2.3" height="2.3"/><rect x="107.9" y="117.2" width="2.3" height="2.3"/><rect x="121.7" y="122.2" width="2.3" height="2.3"/><rect x="117.3" y="138.7" width="2.3" height="2.3"/><rect x="120.2" y="141.8" width="2.3" height="2.3"/><rect x="116.9" y="152.0" width="2.3" height="2.3"/><rect x="112.2" y="146.9" width="2.3" height="2.3"/><rect x="112.0" y="116.3" width="2.3" height="2.3"/><rect x="113.1" y="126.8" width="2.3" height="2.3"/><rect x="115.9" y="165.6" width="2.3" height="2.3"/><rect x="120.4" y="147.2" width="2.3" height="2.3"/><rect x="121.4" y="103.8" width="2.3" height="2.3"/><rect x="119.1" y="89.1" width="2.3" height="2.3"/><rect x="110.9" y="142.8" width="2.3" height="2.3"/><rect x="121.9" y="112.9" width="2.3" height="2.3"/><rect x="120.6" y="88.3" width="2.3" height="2.3"/><rect x="113.0" y="104.7" width="2.3" height="2.3"/><rect x="115.9" y="112.9" width="2.3" height="2.3"/><rect x="112.2" y="130.5" width="2.3" height="2.3"/><rect x="110.6" y="168.8" width="2.3" height="2.3"/><rect x="117.9" y="161.4" width="2.3" height="2.3"/><rect x="112.9" y="151.9" width="2.3" height="2.3"/><rect x="121.8" y="133.8" width="2.3" height="2.3"/><rect x="113.1" y="150.0" width="2.3" height="2.3"/><rect x="119.9" y="129.7" width="2.3" height="2.3"/><rect x="119.5" y="89.9" width="2.3" height="2.3"/><rect x="101.5" y="162.7" width="2.3" height="2.3"/><rect x="111.7" y="141.8" width="2.3" height="2.3"/><rect x="100.5" y="124.9" width="2.3" height="2.3"/><rect x="114.5" y="168.1" width="2.3" height="2.3"/><rect x="115.3" y="136.7" width="2.3" height="2.3"/><rect x="115.4" y="103.7" width="2.3" height="2.3"/><rect x="111.6" y="102.1" width="2.3" height="2.3"/><rect x="100.1" y="144.0" width="2.3" height="2.3"/><rect x="119.6" y="160.3" width="2.3" height="2.3"/><rect x="98.6" y="157.8" width="2.3" height="2.3"/><rect x="119.2" y="148.1" width="2.3" height="2.3"/><rect x="116.8" y="107.7" width="2.3" height="2.3"/><rect x="121.5" y="112.1" width="2.3" height="2.3"/><rect x="114.2" y="112.2" width="2.3" height="2.3"/><rect x="116.8" y="93.2" width="2.3" height="2.3"/><rect x="118.9" y="131.2" width="2.3" height="2.3"/><rect x="105.0" y="117.2" width="2.3" height="2.3"/><rect x="106.8" y="118.7" width="2.3" height="2.3"/><rect x="118.0" y="118.9" width="2.3" height="2.3"/><rect x="120.2" y="102.0" width="2.3" height="2.3"/><rect x="116.0" y="121.7" width="2.3" height="2.3"/><rect x="106.0" y="87.3" width="2.3" height="2.3"/><rect x="113.9" y="170.3" width="2.3" height="2.3"/><rect x="116.9" y="139.5" width="2.3" height="2.3"/><rect x="120.0" y="121.2" width="2.3" height="2.3"/><rect x="115.4" y="140.1" width="2.3" height="2.3"/><rect x="119.6" y="135.2" width="2.3" height="2.3"/><rect x="118.4" y="130.3" width="2.3" height="2.3"/><rect x="102.5" y="113.1" width="2.3" height="2.3"/><rect x="116.6" y="139.3" width="2.3" height="2.3"/><rect x="108.7" y="108.3" width="2.3" height="2.3"/><rect x="113.9" y="141.5" width="2.3" height="2.3"/><rect x="119.6" y="155.4" width="2.3" height="2.3"/><rect x="120.7" y="115.2" width="2.3" height="2.3"/><rect x="118.5" y="103.7" width="2.3" height="2.3"/><rect x="116.0" y="145.8" width="2.3" height="2.3"/><rect x="111.0" y="98.3" width="2.3" height="2.3"/><rect x="110.6" y="115.0" width="2.3" height="2.3"/><rect x="118.4" y="100.8" width="2.3" height="2.3"/><rect x="117.8" y="158.9" width="2.3" height="2.3"/><rect x="115.8" y="123.2" width="2.3" height="2.3"/><rect x="117.1" y="122.2" width="2.3" height="2.3"/><rect x="118.7" y="136.5" width="2.3" height="2.3"/><rect x="120.4" y="107.8" width="2.3" height="2.3"/><rect x="116.5" y="136.2" width="2.3" height="2.3"/><rect x="110.2" y="112.4" width="2.3" height="2.3"/><rect x="116.4" y="141.8" width="2.3" height="2.3"/><rect x="117.3" y="134.4" width="2.3" height="2.3"/><rect x="121.1" y="128.3" width="2.3" height="2.3"/><rect x="121.5" y="120.7" width="2.3" height="2.3"/><rect x="116.9" y="165.9" width="2.3" height="2.3"/><rect x="111.4" y="159.9" width="2.3" height="2.3"/><rect x="121.1" y="135.8" width="2.3" height="2.3"/><rect x="119.7" y="146.5" width="2.3" height="2.3"/><rect x="107.0" y="137.1" width="2.3" height="2.3"/><rect x="114.4" y="162.2" width="2.3" height="2.3"/><rect x="119.9" y="104.8" width="2.3" height="2.3"/><rect x="115.1" y="140.0" width="2.3" height="2.3"/><rect x="104.0" y="143.1" width="2.3" height="2.3"/><rect x="113.1" y="101.5" width="2.3" height="2.3"/><rect x="111.4" y="104.9" width="2.3" height="2.3"/><rect x="114.9" y="119.9" width="2.3" height="2.3"/><rect x="116.3" y="163.7" width="2.3" height="2.3"/><rect x="115.7" y="159.4" width="2.3" height="2.3"/><rect x="117.8" y="111.7" width="2.3" height="2.3"/><rect x="118.9" y="103.7" width="2.3" height="2.3"/><rect x="110.6" y="104.0" width="2.3" height="2.3"/><rect x="121.2" y="144.0" width="2.3" height="2.3"/><rect x="112.2" y="151.5" width="2.3" height="2.3"/><rect x="118.0" y="146.7" width="2.3" height="2.3"/><rect x="115.6" y="155.4" width="2.3" height="2.3"/><rect x="115.6" y="128.3" width="2.3" height="2.3"/><rect x="114.4" y="103.0" width="2.3" height="2.3"/><rect x="108.5" y="129.7" width="2.3" height="2.3"/><rect x="115.7" y="113.4" width="2.3" height="2.3"/><rect x="119.1" y="127.8" width="2.3" height="2.3"/><rect x="107.0" y="144.9" width="2.3" height="2.3"/><rect x="113.4" y="156.5" width="2.3" height="2.3"/><rect x="106.3" y="117.6" width="2.3" height="2.3"/><rect x="119.7" y="107.3" width="2.3" height="2.3"/><rect x="118.0" y="160.0" width="2.3" height="2.3"/><rect x="120.2" y="123.8" width="2.3" height="2.3"/><rect x="103.0" y="171.9" width="2.3" height="2.3"/><rect x="107.3" y="99.1" width="2.3" height="2.3"/><rect x="111.7" y="104.9" width="2.3" height="2.3"/><rect x="119.6" y="127.5" width="2.3" height="2.3"/><rect x="121.1" y="112.7" width="2.3" height="2.3"/><rect x="119.5" y="157.1" width="2.3" height="2.3"/><rect x="100.6" y="125.6" width="2.3" height="2.3"/><rect x="122.2" y="110.9" width="2.3" height="2.3"/><rect x="116.5" y="149.4" width="2.3" height="2.3"/><rect x="115.1" y="129.5" width="2.3" height="2.3"/><rect x="119.7" y="124.4" width="2.3" height="2.3"/><rect x="120.3" y="136.9" width="2.3" height="2.3"/><rect x="118.0" y="151.3" width="2.3" height="2.3"/><rect x="117.5" y="129.4" width="2.3" height="2.3"/><rect x="108.0" y="141.3" width="2.3" height="2.3"/><rect x="120.5" y="122.7" width="2.3" height="2.3"/><rect x="108.8" y="154.9" width="2.3" height="2.3"/><rect x="116.9" y="158.2" width="2.3" height="2.3"/><rect x="121.7" y="90.1" width="2.3" height="2.3"/><rect x="120.6" y="148.0" width="2.3" height="2.3"/><rect x="116.7" y="113.6" width="2.3" height="2.3"/><rect x="108.1" y="164.5" width="2.3" height="2.3"/><rect x="117.5" y="138.8" width="2.3" height="2.3"/><rect x="119.5" y="133.9" width="2.3" height="2.3"/><rect x="99.0" y="88.5" width="2.3" height="2.3"/><rect x="118.1" y="160.9" width="2.3" height="2.3"/><rect x="114.7" y="168.2" width="2.3" height="2.3"/><rect x="116.2" y="143.3" width="2.3" height="2.3"/><rect x="119.1" y="104.8" width="2.3" height="2.3"/><rect x="119.2" y="152.5" width="2.3" height="2.3"/><rect x="99.2" y="113.9" width="2.3" height="2.3"/><rect x="117.1" y="152.2" width="2.3" height="2.3"/><rect x="122.1" y="119.9" width="2.3" height="2.3"/><rect x="104.6" y="167.7" width="2.3" height="2.3"/><rect x="116.2" y="167.5" width="2.3" height="2.3"/><rect x="112.7" y="146.6" width="2.3" height="2.3"/><rect x="113.9" y="117.8" width="2.3" height="2.3"/><rect x="113.6" y="115.6" width="2.3" height="2.3"/><rect x="109.2" y="137.6" width="2.3" height="2.3"/><rect x="119.9" y="146.5" width="2.3" height="2.3"/><rect x="102.8" y="170.8" width="2.3" height="2.3"/><rect x="120.5" y="106.9" width="2.3" height="2.3"/><rect x="108.1" y="89.6" width="2.3" height="2.3"/><rect x="114.0" y="173.2" width="2.3" height="2.3"/><rect x="119.6" y="152.7" width="2.3" height="2.3"/><rect x="118.9" y="132.1" width="2.3" height="2.3"/><rect x="117.2" y="113.6" width="2.3" height="2.3"/><rect x="103.9" y="173.1" width="2.3" height="2.3"/><rect x="107.1" y="149.2" width="2.3" height="2.3"/><rect x="119.4" y="101.5" width="2.3" height="2.3"/><rect x="116.3" y="133.7" width="2.3" height="2.3"/><rect x="119.4" y="136.2" width="2.3" height="2.3"/><rect x="118.5" y="164.8" width="2.3" height="2.3"/><rect x="114.1" y="121.1" width="2.3" height="2.3"/><rect x="120.6" y="100.5" width="2.3" height="2.3"/><rect x="113.0" y="171.9" width="2.3" height="2.3"/><rect x="116.4" y="115.6" width="2.3" height="2.3"/><rect x="119.0" y="154.7" width="2.3" height="2.3"/><rect x="111.3" y="174.6" width="2.3" height="2.3"/><rect x="117.1" y="123.4" width="2.3" height="2.3"/><rect x="110.1" y="104.1" width="2.3" height="2.3"/><rect x="107.3" y="125.1" width="2.3" height="2.3"/><rect x="121.2" y="148.2" width="2.3" height="2.3"/><rect x="115.0" y="132.6" width="2.3" height="2.3"/><rect x="119.1" y="127.9" width="2.3" height="2.3"/><rect x="102.1" y="114.6" width="2.3" height="2.3"/><rect x="120.9" y="109.3" width="2.3" height="2.3"/><rect x="110.1" y="156.7" width="2.3" height="2.3"/><rect x="118.5" y="121.2" width="2.3" height="2.3"/><rect x="110.0" y="163.0" width="2.3" height="2.3"/><rect x="121.9" y="91.2" width="2.3" height="2.3"/><rect x="114.2" y="146.5" width="2.3" height="2.3"/><rect x="97.5" y="123.8" width="2.3" height="2.3"/><rect x="114.7" y="134.4" width="2.3" height="2.3"/><rect x="115.0" y="123.3" width="2.3" height="2.3"/><rect x="116.9" y="130.8" width="2.3" height="2.3"/><rect x="119.3" y="116.3" width="2.3" height="2.3"/><rect x="106.6" y="108.6" width="2.3" height="2.3"/><rect x="112.8" y="114.1" width="2.3" height="2.3"/><rect x="116.9" y="106.4" width="2.3" height="2.3"/><rect x="112.1" y="107.5" width="2.3" height="2.3"/><rect x="121.3" y="138.5" width="2.3" height="2.3"/><rect x="112.0" y="169.7" width="2.3" height="2.3"/><rect x="122.1" y="120.4" width="2.3" height="2.3"/><rect x="111.4" y="90.7" width="2.3" height="2.3"/></g><g fill="#e03226"><rect x="155.5" y="30.9" width="2.3" height="2.3"/><rect x="170.8" y="31.5" width="2.3" height="2.3"/><rect x="200.9" y="28.4" width="2.3" height="2.3"/><rect x="154.9" y="34.8" width="2.3" height="2.3"/><rect x="156.4" y="34.5" width="2.3" height="2.3"/><rect x="154.3" y="35.4" width="2.3" height="2.3"/><rect x="153.2" y="46.6" width="2.3" height="2.3"/><rect x="154.9" y="45.5" width="2.3" height="2.3"/><rect x="191.5" y="46.5" width="2.3" height="2.3"/><rect x="197.4" y="55.9" width="2.3" height="2.3"/><rect x="203.8" y="58.0" width="2.3" height="2.3"/><rect x="149.8" y="54.1" width="2.3" height="2.3"/><rect x="153.4" y="54.6" width="2.3" height="2.3"/><rect x="151.9" y="57.6" width="2.3" height="2.3"/><rect x="154.3" y="58.1" width="2.3" height="2.3"/><rect x="163.8" y="59.9" width="2.3" height="2.3"/><rect x="150.0" y="61.0" width="2.3" height="2.3"/><rect x="164.8" y="65.4" width="2.3" height="2.3"/><rect x="154.9" y="64.6" width="2.3" height="2.3"/><rect x="172.4" y="67.9" width="2.3" height="2.3"/><rect x="184.0" y="69.5" width="2.3" height="2.3"/><rect x="190.3" y="69.8" width="2.3" height="2.3"/><rect x="161.7" y="71.9" width="2.3" height="2.3"/><rect x="175.9" y="75.6" width="2.3" height="2.3"/><rect x="197.4" y="75.9" width="2.3" height="2.3"/><rect x="163.8" y="78.0" width="2.3" height="2.3"/><rect x="206.7" y="80.5" width="2.3" height="2.3"/><rect x="184.2" y="86.4" width="2.3" height="2.3"/><rect x="173.0" y="87.8" width="2.3" height="2.3"/><rect x="168.3" y="86.4" width="2.3" height="2.3"/><rect x="193.4" y="97.4" width="2.3" height="2.3"/><rect x="174.2" y="100.9" width="2.3" height="2.3"/><rect x="167.2" y="101.6" width="2.3" height="2.3"/><rect x="185.2" y="104.9" width="2.3" height="2.3"/><rect x="179.9" y="109.5" width="2.3" height="2.3"/><rect x="192.2" y="112.6" width="2.3" height="2.3"/><rect x="210.2" y="114.9" width="2.3" height="2.3"/><rect x="225.8" y="114.9" width="2.3" height="2.3"/><rect x="178.8" y="115.6" width="2.3" height="2.3"/><rect x="181.2" y="118.6" width="2.3" height="2.3"/><rect x="174.2" y="119.6" width="2.3" height="2.3"/><rect x="170.2" y="119.6" width="2.3" height="2.3"/><rect x="179.2" y="123.6" width="2.3" height="2.3"/><rect x="178.8" y="128.2" width="2.3" height="2.3"/><rect x="189.3" y="133.2" width="2.3" height="2.3"/><rect x="182.2" y="143.9" width="2.3" height="2.3"/><rect x="182.3" y="151.8" width="2.3" height="2.3"/><rect x="183.4" y="165.8" width="2.3" height="2.3"/><rect x="176.5" y="156.7" width="2.3" height="2.3"/><rect x="176.9" y="163.8" width="2.3" height="2.3"/><rect x="176.2" y="169.8" width="2.3" height="2.3"/><rect x="175.0" y="147.7" width="2.3" height="2.3"/><rect x="172.0" y="141.8" width="2.3" height="2.3"/><rect x="165.5" y="174.8" width="2.3" height="2.3"/><rect x="161.3" y="172.8" width="2.3" height="2.3"/><rect x="189.2" y="132.8" width="2.3" height="2.3"/><rect x="158.9" y="172.2" width="2.3" height="2.3"/><rect x="148.4" y="70.5" width="2.3" height="2.3"/><rect x="159.2" y="145.0" width="2.3" height="2.3"/><rect x="149.7" y="96.5" width="2.3" height="2.3"/><rect x="160.5" y="163.5" width="2.3" height="2.3"/><rect x="153.8" y="158.3" width="2.3" height="2.3"/><rect x="149.3" y="102.2" width="2.3" height="2.3"/><rect x="156.5" y="117.2" width="2.3" height="2.3"/><rect x="151.8" y="138.0" width="2.3" height="2.3"/><rect x="173.0" y="156.9" width="2.3" height="2.3"/><rect x="150.4" y="124.2" width="2.3" height="2.3"/><rect x="151.4" y="76.6" width="2.3" height="2.3"/><rect x="164.7" y="142.8" width="2.3" height="2.3"/><rect x="171.3" y="156.9" width="2.3" height="2.3"/><rect x="158.0" y="67.0" width="2.3" height="2.3"/><rect x="153.1" y="149.2" width="2.3" height="2.3"/><rect x="149.7" y="106.0" width="2.3" height="2.3"/><rect x="152.6" y="136.9" width="2.3" height="2.3"/><rect x="150.4" y="81.8" width="2.3" height="2.3"/><rect x="165.5" y="119.2" width="2.3" height="2.3"/><rect x="159.9" y="92.4" width="2.3" height="2.3"/><rect x="156.0" y="69.2" width="2.3" height="2.3"/><rect x="167.0" y="151.9" width="2.3" height="2.3"/><rect x="157.0" y="151.2" width="2.3" height="2.3"/><rect x="155.6" y="146.2" width="2.3" height="2.3"/><rect x="162.8" y="91.4" width="2.3" height="2.3"/><rect x="158.6" y="131.2" width="2.3" height="2.3"/><rect x="155.1" y="134.7" width="2.3" height="2.3"/><rect x="148.5" y="90.8" width="2.3" height="2.3"/><rect x="157.8" y="118.3" width="2.3" height="2.3"/><rect x="161.3" y="127.3" width="2.3" height="2.3"/><rect x="161.1" y="117.7" width="2.3" height="2.3"/><rect x="149.0" y="107.2" width="2.3" height="2.3"/><rect x="149.1" y="103.4" width="2.3" height="2.3"/><rect x="169.4" y="170.7" width="2.3" height="2.3"/><rect x="150.0" y="124.5" width="2.3" height="2.3"/><rect x="149.2" y="109.5" width="2.3" height="2.3"/><rect x="168.0" y="158.1" width="2.3" height="2.3"/><rect x="155.3" y="124.9" width="2.3" height="2.3"/><rect x="166.9" y="168.0" width="2.3" height="2.3"/><rect x="149.6" y="122.1" width="2.3" height="2.3"/><rect x="151.7" y="152.0" width="2.3" height="2.3"/><rect x="154.7" y="79.0" width="2.3" height="2.3"/><rect x="158.9" y="154.6" width="2.3" height="2.3"/><rect x="152.7" y="149.8" width="2.3" height="2.3"/><rect x="153.1" y="140.8" width="2.3" height="2.3"/><rect x="148.7" y="97.5" width="2.3" height="2.3"/><rect x="160.8" y="156.4" width="2.3" height="2.3"/><rect x="155.0" y="77.6" width="2.3" height="2.3"/><rect x="153.1" y="134.5" width="2.3" height="2.3"/><rect x="160.4" y="154.3" width="2.3" height="2.3"/><rect x="156.4" y="120.0" width="2.3" height="2.3"/><rect x="150.6" y="147.7" width="2.3" height="2.3"/><rect x="153.0" y="102.7" width="2.3" height="2.3"/><rect x="149.8" y="137.9" width="2.3" height="2.3"/><rect x="149.5" y="121.7" width="2.3" height="2.3"/><rect x="152.3" y="163.0" width="2.3" height="2.3"/><rect x="149.4" y="118.7" width="2.3" height="2.3"/><rect x="154.2" y="162.8" width="2.3" height="2.3"/><rect x="159.3" y="124.6" width="2.3" height="2.3"/><rect x="149.6" y="84.3" width="2.3" height="2.3"/><rect x="168.8" y="117.9" width="2.3" height="2.3"/><rect x="154.0" y="135.4" width="2.3" height="2.3"/><rect x="158.1" y="172.2" width="2.3" height="2.3"/><rect x="149.6" y="117.0" width="2.3" height="2.3"/><rect x="152.8" y="117.5" width="2.3" height="2.3"/><rect x="166.6" y="158.0" width="2.3" height="2.3"/><rect x="151.8" y="127.4" width="2.3" height="2.3"/><rect x="160.3" y="170.3" width="2.3" height="2.3"/><rect x="148.9" y="111.5" width="2.3" height="2.3"/><rect x="154.2" y="131.3" width="2.3" height="2.3"/><rect x="152.5" y="73.4" width="2.3" height="2.3"/><rect x="166.5" y="154.6" width="2.3" height="2.3"/><rect x="153.0" y="108.8" width="2.3" height="2.3"/><rect x="152.4" y="145.0" width="2.3" height="2.3"/><rect x="158.7" y="172.5" width="2.3" height="2.3"/><rect x="157.7" y="108.8" width="2.3" height="2.3"/><rect x="159.0" y="80.1" width="2.3" height="2.3"/><rect x="150.2" y="143.7" width="2.3" height="2.3"/><rect x="148.5" y="81.7" width="2.3" height="2.3"/><rect x="149.1" y="139.1" width="2.3" height="2.3"/><rect x="151.4" y="97.9" width="2.3" height="2.3"/><rect x="149.2" y="119.2" width="2.3" height="2.3"/><rect x="151.4" y="92.2" width="2.3" height="2.3"/><rect x="160.5" y="133.3" width="2.3" height="2.3"/><rect x="160.1" y="155.0" width="2.3" height="2.3"/><rect x="150.7" y="125.3" width="2.3" height="2.3"/><rect x="150.1" y="78.0" width="2.3" height="2.3"/><rect x="149.3" y="127.3" width="2.3" height="2.3"/><rect x="164.9" y="121.8" width="2.3" height="2.3"/><rect x="151.8" y="129.8" width="2.3" height="2.3"/><rect x="151.9" y="100.3" width="2.3" height="2.3"/><rect x="150.7" y="140.9" width="2.3" height="2.3"/><rect x="164.8" y="165.0" width="2.3" height="2.3"/><rect x="156.9" y="136.2" width="2.3" height="2.3"/><rect x="166.5" y="121.0" width="2.3" height="2.3"/><rect x="150.4" y="93.2" width="2.3" height="2.3"/><rect x="154.9" y="121.5" width="2.3" height="2.3"/><rect x="167.8" y="67.8" width="2.3" height="2.3"/><rect x="153.7" y="164.6" width="2.3" height="2.3"/><rect x="151.0" y="152.0" width="2.3" height="2.3"/><rect x="152.8" y="136.9" width="2.3" height="2.3"/><rect x="150.1" y="117.0" width="2.3" height="2.3"/><rect x="149.2" y="97.7" width="2.3" height="2.3"/><rect x="149.6" y="76.7" width="2.3" height="2.3"/><rect x="150.1" y="86.1" width="2.3" height="2.3"/><rect x="161.9" y="140.5" width="2.3" height="2.3"/><rect x="149.5" y="125.6" width="2.3" height="2.3"/><rect x="149.5" y="113.5" width="2.3" height="2.3"/><rect x="151.8" y="113.1" width="2.3" height="2.3"/><rect x="149.6" y="144.6" width="2.3" height="2.3"/><rect x="157.6" y="119.5" width="2.3" height="2.3"/><rect x="151.4" y="69.0" width="2.3" height="2.3"/><rect x="149.7" y="133.4" width="2.3" height="2.3"/><rect x="161.5" y="133.2" width="2.3" height="2.3"/><rect x="157.7" y="82.7" width="2.3" height="2.3"/><rect x="150.9" y="158.1" width="2.3" height="2.3"/><rect x="173.5" y="173.1" width="2.3" height="2.3"/><rect x="149.6" y="120.7" width="2.3" height="2.3"/><rect x="160.8" y="96.9" width="2.3" height="2.3"/><rect x="156.3" y="96.8" width="2.3" height="2.3"/><rect x="153.1" y="153.7" width="2.3" height="2.3"/><rect x="150.9" y="140.7" width="2.3" height="2.3"/><rect x="164.1" y="146.6" width="2.3" height="2.3"/><rect x="151.1" y="111.6" width="2.3" height="2.3"/><rect x="165.8" y="167.7" width="2.3" height="2.3"/><rect x="155.9" y="156.9" width="2.3" height="2.3"/><rect x="158.8" y="127.4" width="2.3" height="2.3"/><rect x="166.0" y="160.6" width="2.3" height="2.3"/><rect x="157.6" y="117.9" width="2.3" height="2.3"/><rect x="172.9" y="145.7" width="2.3" height="2.3"/><rect x="149.0" y="132.4" width="2.3" height="2.3"/><rect x="150.7" y="149.3" width="2.3" height="2.3"/><rect x="153.5" y="135.4" width="2.3" height="2.3"/><rect x="154.1" y="128.3" width="2.3" height="2.3"/><rect x="153.5" y="116.6" width="2.3" height="2.3"/><rect x="152.0" y="159.7" width="2.3" height="2.3"/><rect x="156.7" y="115.6" width="2.3" height="2.3"/><rect x="157.0" y="144.8" width="2.3" height="2.3"/><rect x="158.5" y="174.5" width="2.3" height="2.3"/><rect x="152.1" y="115.8" width="2.3" height="2.3"/><rect x="161.0" y="134.9" width="2.3" height="2.3"/><rect x="154.0" y="137.6" width="2.3" height="2.3"/><rect x="156.2" y="136.0" width="2.3" height="2.3"/><rect x="152.3" y="153.4" width="2.3" height="2.3"/><rect x="149.0" y="117.4" width="2.3" height="2.3"/><rect x="154.2" y="104.6" width="2.3" height="2.3"/><rect x="159.5" y="173.8" width="2.3" height="2.3"/><rect x="157.3" y="138.3" width="2.3" height="2.3"/><rect x="150.1" y="124.0" width="2.3" height="2.3"/><rect x="155.2" y="126.7" width="2.3" height="2.3"/><rect x="170.0" y="168.3" width="2.3" height="2.3"/><rect x="150.0" y="128.7" width="2.3" height="2.3"/><rect x="157.7" y="118.6" width="2.3" height="2.3"/><rect x="164.7" y="173.0" width="2.3" height="2.3"/><rect x="157.7" y="160.3" width="2.3" height="2.3"/><rect x="163.1" y="146.5" width="2.3" height="2.3"/><rect x="148.5" y="118.0" width="2.3" height="2.3"/><rect x="149.2" y="128.6" width="2.3" height="2.3"/><rect x="149.9" y="118.9" width="2.3" height="2.3"/><rect x="156.0" y="147.0" width="2.3" height="2.3"/><rect x="148.6" y="72.1" width="2.3" height="2.3"/><rect x="152.6" y="136.4" width="2.3" height="2.3"/><rect x="169.2" y="132.4" width="2.3" height="2.3"/><rect x="158.2" y="130.3" width="2.3" height="2.3"/><rect x="149.9" y="124.3" width="2.3" height="2.3"/><rect x="148.5" y="78.4" width="2.3" height="2.3"/><rect x="149.0" y="111.2" width="2.3" height="2.3"/><rect x="150.7" y="144.0" width="2.3" height="2.3"/><rect x="149.7" y="138.0" width="2.3" height="2.3"/><rect x="153.0" y="164.5" width="2.3" height="2.3"/><rect x="152.6" y="154.9" width="2.3" height="2.3"/><rect x="152.4" y="121.5" width="2.3" height="2.3"/><rect x="151.2" y="125.0" width="2.3" height="2.3"/><rect x="158.2" y="166.9" width="2.3" height="2.3"/><rect x="156.8" y="125.5" width="2.3" height="2.3"/><rect x="156.8" y="167.4" width="2.3" height="2.3"/><rect x="152.8" y="159.0" width="2.3" height="2.3"/><rect x="151.3" y="157.0" width="2.3" height="2.3"/><rect x="149.0" y="106.4" width="2.3" height="2.3"/><rect x="152.3" y="134.1" width="2.3" height="2.3"/><rect x="149.7" y="124.5" width="2.3" height="2.3"/><rect x="159.7" y="167.8" width="2.3" height="2.3"/><rect x="150.9" y="155.9" width="2.3" height="2.3"/><rect x="161.4" y="160.4" width="2.3" height="2.3"/><rect x="148.5" y="93.0" width="2.3" height="2.3"/><rect x="154.1" y="121.8" width="2.3" height="2.3"/><rect x="164.6" y="70.7" width="2.3" height="2.3"/><rect x="159.8" y="145.2" width="2.3" height="2.3"/><rect x="170.3" y="160.4" width="2.3" height="2.3"/><rect x="152.4" y="162.4" width="2.3" height="2.3"/><rect x="149.6" y="72.4" width="2.3" height="2.3"/><rect x="148.5" y="118.0" width="2.3" height="2.3"/><rect x="152.0" y="139.2" width="2.3" height="2.3"/><rect x="149.9" y="152.0" width="2.3" height="2.3"/><rect x="152.2" y="105.3" width="2.3" height="2.3"/><rect x="156.0" y="115.6" width="2.3" height="2.3"/><rect x="152.7" y="164.8" width="2.3" height="2.3"/><rect x="158.8" y="154.9" width="2.3" height="2.3"/><rect x="161.0" y="142.0" width="2.3" height="2.3"/><rect x="153.1" y="156.6" width="2.3" height="2.3"/><rect x="152.3" y="113.6" width="2.3" height="2.3"/><rect x="154.8" y="137.5" width="2.3" height="2.3"/><rect x="153.7" y="145.1" width="2.3" height="2.3"/><rect x="161.2" y="135.8" width="2.3" height="2.3"/><rect x="158.6" y="143.0" width="2.3" height="2.3"/><rect x="154.2" y="121.3" width="2.3" height="2.3"/><rect x="153.4" y="163.0" width="2.3" height="2.3"/><rect x="155.0" y="151.2" width="2.3" height="2.3"/><rect x="156.5" y="154.1" width="2.3" height="2.3"/><rect x="159.7" y="144.1" width="2.3" height="2.3"/><rect x="151.5" y="131.3" width="2.3" height="2.3"/><rect x="164.8" y="105.1" width="2.3" height="2.3"/><rect x="157.4" y="74.3" width="2.3" height="2.3"/><rect x="156.5" y="146.2" width="2.3" height="2.3"/><rect x="165.2" y="154.4" width="2.3" height="2.3"/><rect x="150.1" y="144.5" width="2.3" height="2.3"/><rect x="160.9" y="147.1" width="2.3" height="2.3"/><rect x="157.9" y="139.5" width="2.3" height="2.3"/><rect x="149.1" y="110.8" width="2.3" height="2.3"/><rect x="154.4" y="89.0" width="2.3" height="2.3"/><rect x="154.7" y="69.9" width="2.3" height="2.3"/><rect x="155.1" y="134.9" width="2.3" height="2.3"/><rect x="151.6" y="141.0" width="2.3" height="2.3"/><rect x="164.2" y="152.9" width="2.3" height="2.3"/><rect x="158.4" y="67.2" width="2.3" height="2.3"/><rect x="152.6" y="163.1" width="2.3" height="2.3"/><rect x="154.0" y="75.0" width="2.3" height="2.3"/><rect x="150.1" y="135.7" width="2.3" height="2.3"/><rect x="161.6" y="160.5" width="2.3" height="2.3"/><rect x="156.5" y="143.8" width="2.3" height="2.3"/><rect x="149.3" y="117.3" width="2.3" height="2.3"/><rect x="162.9" y="155.4" width="2.3" height="2.3"/><rect x="151.8" y="93.6" width="2.3" height="2.3"/><rect x="155.8" y="107.3" width="2.3" height="2.3"/><rect x="150.8" y="127.6" width="2.3" height="2.3"/><rect x="150.9" y="119.0" width="2.3" height="2.3"/><rect x="151.5" y="158.3" width="2.3" height="2.3"/><rect x="152.5" y="105.0" width="2.3" height="2.3"/><rect x="165.0" y="129.9" width="2.3" height="2.3"/><rect x="158.1" y="145.5" width="2.3" height="2.3"/><rect x="152.5" y="131.8" width="2.3" height="2.3"/><rect x="149.0" y="137.8" width="2.3" height="2.3"/><rect x="158.1" y="91.1" width="2.3" height="2.3"/><rect x="170.1" y="173.2" width="2.3" height="2.3"/><rect x="156.2" y="170.1" width="2.3" height="2.3"/><rect x="150.5" y="156.6" width="2.3" height="2.3"/><rect x="150.1" y="115.8" width="2.3" height="2.3"/><rect x="149.0" y="81.2" width="2.3" height="2.3"/><rect x="148.8" y="113.6" width="2.3" height="2.3"/><rect x="153.8" y="76.9" width="2.3" height="2.3"/><rect x="155.2" y="158.1" width="2.3" height="2.3"/><rect x="151.2" y="118.9" width="2.3" height="2.3"/><rect x="152.2" y="118.7" width="2.3" height="2.3"/><rect x="169.2" y="147.1" width="2.3" height="2.3"/><rect x="158.0" y="143.0" width="2.3" height="2.3"/><rect x="150.9" y="153.3" width="2.3" height="2.3"/><rect x="170.6" y="118.3" width="2.3" height="2.3"/><rect x="155.1" y="124.9" width="2.3" height="2.3"/><rect x="151.6" y="151.7" width="2.3" height="2.3"/><rect x="160.9" y="113.5" width="2.3" height="2.3"/><rect x="149.1" y="86.8" width="2.3" height="2.3"/><rect x="155.0" y="147.4" width="2.3" height="2.3"/><rect x="161.0" y="161.8" width="2.3" height="2.3"/><rect x="155.5" y="93.7" width="2.3" height="2.3"/><rect x="152.3" y="159.3" width="2.3" height="2.3"/><rect x="150.5" y="80.7" width="2.3" height="2.3"/><rect x="149.6" y="120.4" width="2.3" height="2.3"/><rect x="154.0" y="135.8" width="2.3" height="2.3"/><rect x="151.8" y="115.5" width="2.3" height="2.3"/><rect x="157.0" y="101.1" width="2.3" height="2.3"/><rect x="158.0" y="141.1" width="2.3" height="2.3"/><rect x="157.4" y="123.0" width="2.3" height="2.3"/><rect x="155.6" y="154.4" width="2.3" height="2.3"/><rect x="160.1" y="143.4" width="2.3" height="2.3"/><rect x="160.7" y="83.2" width="2.3" height="2.3"/><rect x="167.1" y="104.9" width="2.3" height="2.3"/><rect x="161.9" y="141.6" width="2.3" height="2.3"/><rect x="156.0" y="167.9" width="2.3" height="2.3"/><rect x="149.0" y="117.1" width="2.3" height="2.3"/><rect x="149.8" y="137.2" width="2.3" height="2.3"/><rect x="152.1" y="148.1" width="2.3" height="2.3"/><rect x="153.2" y="152.2" width="2.3" height="2.3"/><rect x="148.7" y="78.5" width="2.3" height="2.3"/><rect x="159.4" y="88.5" width="2.3" height="2.3"/><rect x="159.0" y="116.8" width="2.3" height="2.3"/><rect x="157.6" y="155.6" width="2.3" height="2.3"/><rect x="156.8" y="136.3" width="2.3" height="2.3"/><rect x="148.6" y="99.2" width="2.3" height="2.3"/><rect x="160.2" y="131.9" width="2.3" height="2.3"/><rect x="153.3" y="115.4" width="2.3" height="2.3"/><rect x="152.4" y="148.8" width="2.3" height="2.3"/><rect x="154.0" y="120.8" width="2.3" height="2.3"/><rect x="166.8" y="146.1" width="2.3" height="2.3"/><rect x="174.0" y="169.8" width="2.3" height="2.3"/><rect x="152.3" y="163.0" width="2.3" height="2.3"/><rect x="166.6" y="147.5" width="2.3" height="2.3"/><rect x="149.8" y="149.1" width="2.3" height="2.3"/><rect x="155.7" y="157.8" width="2.3" height="2.3"/><rect x="163.2" y="148.2" width="2.3" height="2.3"/><rect x="161.8" y="132.2" width="2.3" height="2.3"/><rect x="149.0" y="92.5" width="2.3" height="2.3"/><rect x="150.0" y="121.2" width="2.3" height="2.3"/><rect x="158.5" y="108.0" width="2.3" height="2.3"/><rect x="150.1" y="103.9" width="2.3" height="2.3"/><rect x="162.1" y="145.1" width="2.3" height="2.3"/><rect x="164.4" y="141.4" width="2.3" height="2.3"/><rect x="151.6" y="114.1" width="2.3" height="2.3"/><rect x="171.0" y="98.1" width="2.3" height="2.3"/><rect x="149.7" y="143.2" width="2.3" height="2.3"/><rect x="149.4" y="79.9" width="2.3" height="2.3"/><rect x="163.4" y="98.7" width="2.3" height="2.3"/><rect x="156.6" y="120.3" width="2.3" height="2.3"/><rect x="164.2" y="97.0" width="2.3" height="2.3"/><rect x="148.4" y="62.5" width="2.3" height="2.3"/><rect x="151.7" y="116.0" width="2.3" height="2.3"/><rect x="160.4" y="128.7" width="2.3" height="2.3"/><rect x="149.0" y="138.5" width="2.3" height="2.3"/><rect x="157.9" y="112.0" width="2.3" height="2.3"/><rect x="151.2" y="118.5" width="2.3" height="2.3"/><rect x="149.3" y="141.7" width="2.3" height="2.3"/><rect x="150.7" y="116.5" width="2.3" height="2.3"/><rect x="155.4" y="95.3" width="2.3" height="2.3"/><rect x="152.0" y="128.8" width="2.3" height="2.3"/><rect x="155.7" y="88.8" width="2.3" height="2.3"/><rect x="150.0" y="94.6" width="2.3" height="2.3"/><rect x="160.9" y="121.7" width="2.3" height="2.3"/><rect x="150.8" y="102.0" width="2.3" height="2.3"/><rect x="154.1" y="141.1" width="2.3" height="2.3"/><rect x="171.5" y="169.4" width="2.3" height="2.3"/><rect x="158.4" y="131.9" width="2.3" height="2.3"/><rect x="160.8" y="129.4" width="2.3" height="2.3"/><rect x="158.0" y="103.4" width="2.3" height="2.3"/><rect x="155.4" y="133.2" width="2.3" height="2.3"/><rect x="174.3" y="153.9" width="2.3" height="2.3"/><rect x="150.5" y="152.2" width="2.3" height="2.3"/><rect x="150.6" y="133.4" width="2.3" height="2.3"/><rect x="148.7" y="74.6" width="2.3" height="2.3"/><rect x="150.6" y="90.6" width="2.3" height="2.3"/><rect x="155.2" y="141.3" width="2.3" height="2.3"/><rect x="154.7" y="159.2" width="2.3" height="2.3"/><rect x="159.8" y="153.3" width="2.3" height="2.3"/><rect x="155.3" y="110.0" width="2.3" height="2.3"/><rect x="152.1" y="117.0" width="2.3" height="2.3"/><rect x="158.0" y="115.3" width="2.3" height="2.3"/><rect x="158.0" y="128.0" width="2.3" height="2.3"/><rect x="151.8" y="103.7" width="2.3" height="2.3"/><rect x="153.0" y="129.7" width="2.3" height="2.3"/><rect x="151.9" y="112.0" width="2.3" height="2.3"/><rect x="169.2" y="139.7" width="2.3" height="2.3"/><rect x="153.9" y="105.5" width="2.3" height="2.3"/><rect x="161.2" y="133.4" width="2.3" height="2.3"/><rect x="152.8" y="126.9" width="2.3" height="2.3"/><rect x="158.1" y="78.3" width="2.3" height="2.3"/><rect x="150.8" y="132.1" width="2.3" height="2.3"/><rect x="158.1" y="87.5" width="2.3" height="2.3"/><rect x="173.2" y="126.2" width="2.3" height="2.3"/><rect x="155.0" y="110.7" width="2.3" height="2.3"/><rect x="164.3" y="127.2" width="2.3" height="2.3"/><rect x="164.1" y="152.4" width="2.3" height="2.3"/><rect x="149.3" y="109.6" width="2.3" height="2.3"/><rect x="157.7" y="61.1" width="2.3" height="2.3"/><rect x="148.9" y="124.3" width="2.3" height="2.3"/><rect x="149.7" y="142.2" width="2.3" height="2.3"/><rect x="159.2" y="156.4" width="2.3" height="2.3"/><rect x="149.4" y="126.7" width="2.3" height="2.3"/><rect x="155.8" y="86.3" width="2.3" height="2.3"/><rect x="153.1" y="164.5" width="2.3" height="2.3"/><rect x="151.1" y="62.5" width="2.3" height="2.3"/><rect x="150.6" y="102.4" width="2.3" height="2.3"/><rect x="149.1" y="104.4" width="2.3" height="2.3"/><rect x="149.7" y="147.9" width="2.3" height="2.3"/><rect x="155.0" y="91.2" width="2.3" height="2.3"/><rect x="163.0" y="137.9" width="2.3" height="2.3"/><rect x="153.7" y="72.5" width="2.3" height="2.3"/><rect x="153.5" y="75.2" width="2.3" height="2.3"/></g><polyline fill="none" stroke="#111" stroke-width="1.2" points="46.50,183.09 47.00,183.08 47.50,183.08 48.00,183.07 48.50,183.06 49.00,183.05 49.50,183.05 50.00,183.04 50.50,183.03 51.00,183.02 51.50,183.01 52.00,183.00 52.50,182.99 53.00,182.98 53.50,182.98 54.00,182.97 54.50,182.96 55.00,182.95 55.50,182.94 56.00,182.93 56.50,182.92 57.00,182.91 57.50,182.90 58.00,182.89 58.50,182.88 59.00,182.87 59.50,182.86 60.00,182.85 60.50,182.83 61.00,182.82 61.50,182.81 62.00,182.80 62.50,182.79 63.00,182.78 63.50,182.76 64.00,182.75 64.50,182.74 65.00,182.73 65.50,182.71 66.00,182.70 66.50,182.69 67.00,182.67 67.50,182.66 68.00,182.64 68.50,182.63 69.00,182.62 69.50,182.60 70.00,182.59 70.50,182.57 71.00,182.55 71.50,182.54 72.00,182.52 72.50,182.51 73.00,182.49 73.50,182.47 74.00,182.45 74.50,182.44 75.00,182.42 75.50,182.40 76.00,182.38 76.50,182.36 77.00,182.34 77.50,182.32 78.00,182.30 78.50,182.28 79.00,182.26 79.50,182.24 80.00,182.21 80.50,182.19 81.00,182.17 81.50,182.14 82.00,182.12 82.50,182.09 83.00,182.07 83.50,182.04 84.00,182.01 84.50,181.99 85.00,181.96 85.50,181.93 86.00,181.90 86.50,181.87 87.00,181.84 87.50,181.81 88.00,181.77 88.50,181.74 89.00,181.71 89.50,181.67 90.00,181.63 90.50,181.60 91.00,181.56 91.50,181.52 92.00,181.48 92.50,181.43 93.00,181.39 93.50,181.35 94.00,181.30 94.50,181.25 95.00,181.20 95.50,181.15 96.00,181.10 96.50,181.05 97.00,180.99 97.50,180.93 98.00,180.87 98.50,180.81 99.00,180.74 99.50,180.68 100.00,180.61 100.50,180.54 101.00,180.46 101.50,180.38 102.00,180.30 102.50,180.21 103.00,180.13 103.50,180.03 104.00,179.94 104.50,179.83 105.00,179.73 105.50,179.62 106.00,179.50 106.50,179.38 107.00,179.25 107.50,179.11 108.00,178.97 108.50,178.81 109.00,178.65 109.50,178.48 110.00,178.30 110.50,178.11 111.00,177.90 111.50,177.68 112.00,177.44 112.50,177.19 113.00,176.92 113.50,176.62 114.00,176.30 114.50,175.95 115.00,175.57 115.50,175.16 116.00,174.70 116.50,174.19 117.00,173.63 117.50,173.01 118.00,172.30 118.10,172.15 118.20,171.99 118.30,171.83 118.40,171.67 118.50,171.50 118.60,171.33 118.70,171.15 118.80,170.97 118.90,170.78 119.00,170.59 119.10,170.39 119.20,170.18 119.30,169.97 119.40,169.75 119.50,169.53 119.60,169.30 119.70,169.06 119.80,168.82 119.90,168.56 120.00,168.30 120.10,168.03 120.20,167.75 120.30,167.46 120.40,167.16 120.50,166.85 120.60,166.52 120.70,166.19 120.80,165.84 120.90,165.48 121.00,165.10 121.10,164.71 121.20,164.30 121.30,163.87 121.40,163.43 121.50,162.97 121.60,162.48 121.70,161.97 121.80,161.44 121.90,160.89 122.00,160.30 122.10,159.68 122.20,159.04 122.30,158.35 122.40,157.63 122.50,156.87 122.60,156.06 122.70,155.21 122.80,154.30 122.90,153.33 123.00,152.30 123.10,151.20 123.20,150.01 123.30,148.74 123.40,147.38 123.50,145.90 123.60,144.30 123.70,142.56 123.80,140.66 123.90,138.59 124.00,136.30 124.10,133.77 124.20,130.97 124.30,127.83 124.40,124.30 124.50,120.30 124.60,115.73 124.70,110.45 124.80,104.30 124.90,97.03 125.00,88.30 125.10,77.63 125.20,64.30 125.30,47.16 125.32,44.00"/><polyline fill="none" stroke="#111" stroke-width="1.2" points="226.50,183.09 226.00,183.08 225.50,183.08 225.00,183.07 224.50,183.06 224.00,183.05 223.50,183.05 223.00,183.04 222.50,183.03 222.00,183.02 221.50,183.01 221.00,183.00 220.50,182.99 220.00,182.98 219.50,182.98 219.00,182.97 218.50,182.96 218.00,182.95 217.50,182.94 217.00,182.93 216.50,182.92 216.00,182.91 215.50,182.90 215.00,182.89 214.50,182.88 214.00,182.87 213.50,182.86 213.00,182.85 212.50,182.83 212.00,182.82 211.50,182.81 211.00,182.80 210.50,182.79 210.00,182.78 209.50,182.76 209.00,182.75 208.50,182.74 208.00,182.73 207.50,182.71 207.00,182.70 206.50,182.69 206.00,182.67 205.50,182.66 205.00,182.64 204.50,182.63 204.00,182.62 203.50,182.60 203.00,182.59 202.50,182.57 202.00,182.55 201.50,182.54 201.00,182.52 200.50,182.51 200.00,182.49 199.50,182.47 199.00,182.45 198.50,182.44 198.00,182.42 197.50,182.40 197.00,182.38 196.50,182.36 196.00,182.34 195.50,182.32 195.00,182.30 194.50,182.28 194.00,182.26 193.50,182.24 193.00,182.21 192.50,182.19 192.00,182.17 191.50,182.14 191.00,182.12 190.50,182.09 190.00,182.07 189.50,182.04 189.00,182.01 188.50,181.99 188.00,181.96 187.50,181.93 187.00,181.90 186.50,181.87 186.00,181.84 185.50,181.81 185.00,181.77 184.50,181.74 184.00,181.71 183.50,181.67 183.00,181.63 182.50,181.60 182.00,181.56 181.50,181.52 181.00,181.48 180.50,181.43 180.00,181.39 179.50,181.35 179.00,181.30 178.50,181.25 178.00,181.20 177.50,181.15 177.00,181.10 176.50,181.05 176.00,180.99 175.50,180.93 175.00,180.87 174.50,180.81 174.00,180.74 173.50,180.68 173.00,180.61 172.50,180.54 172.00,180.46 171.50,180.38 171.00,180.30 170.50,180.21 170.00,180.13 169.50,180.03 169.00,179.94 168.50,179.83 168.00,179.73 167.50,179.62 167.00,179.50 166.50,179.38 166.00,179.25 165.50,179.11 165.00,178.97 164.50,178.81 164.00,178.65 163.50,178.48 163.00,178.30 162.50,178.11 162.00,177.90 161.50,177.68 161.00,177.44 160.50,177.19 160.00,176.92 159.50,176.62 159.00,176.30 158.50,175.95 158.00,175.57 157.50,175.16 157.00,174.70 156.50,174.19 156.00,173.63 155.50,173.01 155.00,172.30 154.90,172.15 154.80,171.99 154.70,171.83 154.60,171.67 154.50,171.50 154.40,171.33 154.30,171.15 154.20,170.97 154.10,170.78 154.00,170.59 153.90,170.39 153.80,170.18 153.70,169.97 153.60,169.75 153.50,169.53 153.40,169.30 153.30,169.06 153.20,168.82 153.10,168.56 153.00,168.30 152.90,168.03 152.80,167.75 152.70,167.46 152.60,167.16 152.50,166.85 152.40,166.52 152.30,166.19 152.20,165.84 152.10,165.48 152.00,165.10 151.90,164.71 151.80,164.30 151.70,163.87 151.60,163.43 151.50,162.97 151.40,162.48 151.30,161.97 151.20,161.44 151.10,160.89 151.00,160.30 150.90,159.68 150.80,159.04 150.70,158.35 150.60,157.63 150.50,156.87 150.40,156.06 150.30,155.21 150.20,154.30 150.10,153.33 150.00,152.30 149.90,151.20 149.80,150.01 149.70,148.74 149.60,147.38 149.50,145.90 149.40,144.30 149.30,142.56 149.20,140.66 149.10,138.59 149.00,136.30 148.90,133.77 148.80,130.97 148.70,127.83 148.60,124.30 148.50,120.30 148.40,115.73 148.30,110.45 148.20,104.30 148.10,97.03 148.00,88.30 147.90,77.63 147.80,64.30 147.70,47.16 147.68,44.00"/><line x1="46.50" y1="10.00" x2="46.50" y2="207.50" stroke="#1a1a1a" stroke-width="1.6"/><line x1="45.70" y1="206.60" x2="230.50" y2="206.60" stroke="#1a1a1a" stroke-width="1.8"/><line x1="43.30" y1="196.40" x2="46.50" y2="196.40" stroke="#1a1a1a" stroke-width="1.3"/><text x="40.30" y="196.40" font-size="9.3" text-anchor="middle" fill="#1a1a1a" stroke="#1a1a1a" stroke-width="0.3" stroke-opacity="0.55" transform="rotate(-90 40.30 196.40)">0</text><line x1="43.30" y1="167.73" x2="46.50" y2="167.73" stroke="#1a1a1a" stroke-width="1.3"/><text x="40.30" y="167.73" font-size="9.3" text-anchor="middle" fill="#1a1a1a" stroke="#1a1a1a" stroke-width="0.3" stroke-opacity="0.55" transform="rotate(-90 40.30 167.73)">1</text><line x1="43.30" y1="139.06" x2="46.50" y2="139.06" stroke="#1a1a1a" stroke-width="1.3"/><text x="40.30" y="139.06" font-size="9.3" text-anchor="middle" fill="#1a1a1a" stroke="#1a1a1a" stroke-width="0.3" stroke-opacity="0.55" transform="rotate(-90 40.30 139.06)">2</text><line x1="43.30" y1="110.39" x2="46.50" y2="110.39" stroke="#1a1a1a" stroke-width="1.3"/><text x="40.30" y="110.39" font-size="9.3" text-anchor="middle" fill="#1a1a1a" stroke="#1a1a1a" stroke-width="0.3" stroke-opacity="0.55" transform="rotate(-90 40.30 110.39)">3</text><line x1="43.30" y1="81.72" x2="46.50" y2="81.72" stroke="#1a1a1a" stroke-width="1.3"/><text x="40.30" y="81.72" font-size="9.3" text-anchor="middle" fill="#1a1a1a" stroke="#1a1a1a" stroke-width="0.3" stroke-opacity="0.55" transform="rotate(-90 40.30 81.72)">4</text><line x1="43.30" y1="53.05" x2="46.50" y2="53.05" stroke="#1a1a1a" stroke-width="1.3"/><text x="40.30" y="53.05" font-size="9.3" text-anchor="middle" fill="#1a1a1a" stroke="#1a1a1a" stroke-width="0.3" stroke-opacity="0.55" transform="rotate(-90 40.30 53.05)">5</text><line x1="43.30" y1="24.38" x2="46.50" y2="24.38" stroke="#1a1a1a" stroke-width="1.3"/><text x="40.30" y="24.38" font-size="9.3" text-anchor="middle" fill="#1a1a1a" stroke="#1a1a1a" stroke-width="0.3" stroke-opacity="0.55" transform="rotate(-90 40.30 24.38)">6</text><line x1="69.90" y1="206.60" x2="69.90" y2="209.80" stroke="#1a1a1a" stroke-width="1.3"/><text x="67.80" y="219.90" font-size="9.3" text-anchor="middle" fill="#1a1a1a" stroke="#1a1a1a" stroke-width="0.3" stroke-opacity="0.55">-4</text><line x1="103.70" y1="206.60" x2="103.70" y2="209.80" stroke="#1a1a1a" stroke-width="1.3"/><text x="101.60" y="219.90" font-size="9.3" text-anchor="middle" fill="#1a1a1a" stroke="#1a1a1a" stroke-width="0.3" stroke-opacity="0.55">-2</text><line x1="137.50" y1="206.60" x2="137.50" y2="209.80" stroke="#1a1a1a" stroke-width="1.3"/><text x="137.50" y="219.90" font-size="9.3" text-anchor="middle" fill="#1a1a1a" stroke="#1a1a1a" stroke-width="0.3" stroke-opacity="0.55">0</text><line x1="171.30" y1="206.60" x2="171.30" y2="209.80" stroke="#1a1a1a" stroke-width="1.3"/><text x="171.30" y="219.90" font-size="9.3" text-anchor="middle" fill="#1a1a1a" stroke="#1a1a1a" stroke-width="0.3" stroke-opacity="0.55">2</text><line x1="205.10" y1="206.60" x2="205.10" y2="209.80" stroke="#1a1a1a" stroke-width="1.3"/><text x="205.10" y="219.90" font-size="9.3" text-anchor="middle" fill="#1a1a1a" stroke="#1a1a1a" stroke-width="0.3" stroke-opacity="0.55">4</text><text x="27.80" y="112.70" font-size="9.4" text-anchor="middle" fill="#1a1a1a" stroke="#1a1a1a" stroke-width="0.3" stroke-opacity="0.55" transform="rotate(-90 27.80 112.70)">-Log p</text><text x="115.60" y="231.70" font-size="9.45" text-anchor="start" fill="#1a1a1a" stroke="#1a1a1a" stroke-width="0.3" stroke-opacity="0.55">Difference (T - C)</text><text x="61.60" y="22.50" font-size="9.2" text-anchor="start" fill="#1a1a1a" stroke="#1a1a1a" stroke-width="0.3" stroke-opacity="0.55">n = 364</text><text x="184.20" y="21.40" font-size="9.2" text-anchor="start" fill="#1a1a1a" stroke="#1a1a1a" stroke-width="0.3" stroke-opacity="0.55">n = 432</text><text x="144.80" y="199.30" font-size="9.5" text-anchor="start" fill="#1a1a1a" stroke="#1a1a1a" stroke-width="0.3" stroke-opacity="0.55">n = 1718</text><circle cx="29.40" cy="244.30" r="2.80" fill="#4a4fb5"/><text x="38.30" y="246.40" font-size="9.45" text-anchor="start" fill="#1a1a1a" stroke="#1a1a1a" stroke-width="0.3" stroke-opacity="0.55">Downregulated</text><circle cx="134.40" cy="244.30" r="2.80" fill="#bbb8b6"/><text x="140.30" y="246.40" font-size="9.45" text-anchor="start" fill="#1a1a1a" stroke="#1a1a1a" stroke-width="0.3" stroke-opacity="0.55">Not Sig</text><circle cx="203.20" cy="244.30" r="2.80" fill="#e03226"/><text x="210.10" y="246.40" font-size="9.45" text-anchor="start" fill="#1a1a1a" stroke="#1a1a1a" stroke-width="0.3" stroke-opacity="0.55">Upregulated</text><text x="272.60" y="18.00" font-size="19.5" text-anchor="start" font-weight="bold" fill="#111" stroke="#111" stroke-width="0.45" transform="translate(272.6 18) scale(0.84 1) translate(-272.6 -18)">B</text><line x1="442.50" y1="2.0" x2="442.50" y2="225.9" stroke="#ebebeb" stroke-width="1.0"/><line x1="469.75" y1="2.0" x2="469.75" y2="225.9" stroke="#ebebeb" stroke-width="0.7"/><line x1="497.00" y1="2.0" x2="497.00" y2="225.9" stroke="#ebebeb" stroke-width="1.0"/><line x1="524.25" y1="2.0" x2="524.25" y2="225.9" stroke="#ebebeb" stroke-width="0.7"/><line x1="551.50" y1="2.0" x2="551.50" y2="225.9" stroke="#ebebeb" stroke-width="1.0"/><line x1="578.75" y1="2.0" x2="578.75" y2="225.9" stroke="#ebebeb" stroke-width="0.7"/><line x1="606.00" y1="2.0" x2="606.00" y2="225.9" stroke="#ebebeb" stroke-width="1.0"/><line x1="633.25" y1="2.0" x2="633.25" y2="225.9" stroke="#ebebeb" stroke-width="0.7"/><line x1="660.50" y1="2.0" x2="660.50" y2="225.9" stroke="#ebebeb" stroke-width="1.0"/><line x1="439.0" y1="8.70" x2="670.8" y2="8.70" stroke="#ebebeb" stroke-width="1"/><line x1="439.0" y1="19.78" x2="670.8" y2="19.78" stroke="#ebebeb" stroke-width="1"/><line x1="439.0" y1="30.86" x2="670.8" y2="30.86" stroke="#ebebeb" stroke-width="1"/><line x1="439.0" y1="41.94" x2="670.8" y2="41.94" stroke="#ebebeb" stroke-width="1"/><line x1="439.0" y1="53.02" x2="670.8" y2="53.02" stroke="#ebebeb" stroke-width="1"/><line x1="439.0" y1="64.10" x2="670.8" y2="64.10" stroke="#ebebeb" stroke-width="1"/><line x1="439.0" y1="75.18" x2="670.8" y2="75.18" stroke="#ebebeb" stroke-width="1"/><line x1="439.0" y1="86.26" x2="670.8" y2="86.26" stroke="#ebebeb" stroke-width="1"/><line x1="439.0" y1="97.34" x2="670.8" y2="97.34" stroke="#ebebeb" stroke-width="1"/><line x1="439.0" y1="108.42" x2="670.8" y2="108.42" stroke="#ebebeb" stroke-width="1"/><line x1="439.0" y1="119.50" x2="670.8" y2="119.50" stroke="#ebebeb" stroke-width="1"/><line x1="439.0" y1="130.61" x2="670.8" y2="130.61" stroke="#ebebeb" stroke-width="1"/><line x1="439.0" y1="141.72" x2="670.8" y2="141.72" stroke="#ebebeb" stroke-width="1"/><line x1="439.0" y1="152.83" x2="670.8" y2="152.83" stroke="#ebebeb" stroke-width="1"/><line x1="439.0" y1="163.94" x2="670.8" y2="163.94" stroke="#ebebeb" stroke-width="1"/><line x1="439.0" y1="175.05" x2="670.8" y2="175.05" stroke="#ebebeb" stroke-width="1"/><line x1="439.0" y1="186.16" x2="670.8" y2="186.16" stroke="#ebebeb" stroke-width="1"/><line x1="439.0" y1="197.27" x2="670.8" y2="197.27" stroke="#ebebeb" stroke-width="1"/><line x1="439.0" y1="208.38" x2="670.8" y2="208.38" stroke="#ebebeb" stroke-width="1"/><line x1="439.0" y1="219.49" x2="670.8" y2="219.49" stroke="#ebebeb" stroke-width="1"/><rect x="439.0" y="2.0" width="231.80" height="223.90" fill="none" stroke="#3a3a3a" stroke-width="1.4"/><line x1="439.00" y1="113.60" x2="670.80" y2="113.60" stroke="#222" stroke-width="1.4"/><line x1="439.00" y1="1.30" x2="439.00" y2="226.60" stroke="#555" stroke-width="1.8"/><line x1="433.20" y1="7.00" x2="438.20" y2="7.00" stroke="#444" stroke-width="1.3"/><text x="430.40" y="9.40" font-size="9.45" text-anchor="end" fill="#1a1a1a" stroke="#1a1a1a" stroke-width="0.3" stroke-opacity="0.55">mitochondrial respiratory</text><line x1="433.20" y1="18.08" x2="438.20" y2="18.08" stroke="#444" stroke-width="1.3"/><text x="430.40" y="20.48" font-size="9.45" text-anchor="end" fill="#1a1a1a" stroke="#1a1a1a" stroke-width="0.3" stroke-opacity="0.55">mitochondrial transport</text><line x1="433.20" y1="29.16" x2="438.20" y2="29.16" stroke="#444" stroke-width="1.3"/><text x="430.40" y="31.56" font-size="9.45" text-anchor="end" fill="#1a1a1a" stroke="#1a1a1a" stroke-width="0.3" stroke-opacity="0.55">protein folding</text><line x1="433.20" y1="40.24" x2="438.20" y2="40.24" stroke="#444" stroke-width="1.3"/><text x="430.40" y="42.64" font-size="9.45" text-anchor="end" fill="#1a1a1a" stroke="#1a1a1a" stroke-width="0.3" stroke-opacity="0.55">organic acid membrane transport</text><line x1="433.20" y1="51.32" x2="438.20" y2="51.32" stroke="#444" stroke-width="1.3"/><text x="430.40" y="53.72" font-size="9.45" text-anchor="end" fill="#1a1a1a" stroke="#1a1a1a" stroke-width="0.3" stroke-opacity="0.55">carboxylic acid transport</text><line x1="433.20" y1="62.40" x2="438.20" y2="62.40" stroke="#444" stroke-width="1.3"/><text x="430.40" y="64.80" font-size="9.45" text-anchor="end" fill="#1a1a1a" stroke="#1a1a1a" stroke-width="0.3" stroke-opacity="0.55">organic acid transport</text><line x1="433.20" y1="73.48" x2="438.20" y2="73.48" stroke="#444" stroke-width="1.3"/><text x="430.40" y="75.88" font-size="9.45" text-anchor="end" fill="#1a1a1a" stroke="#1a1a1a" stroke-width="0.3" stroke-opacity="0.55">organic anion transport</text><line x1="433.20" y1="84.56" x2="438.20" y2="84.56" stroke="#444" stroke-width="1.3"/><text x="430.40" y="86.96" font-size="9.45" text-anchor="end" fill="#1a1a1a" stroke="#1a1a1a" stroke-width="0.3" stroke-opacity="0.55">anion transmembrane transport</text><line x1="433.20" y1="95.64" x2="438.20" y2="95.64" stroke="#444" stroke-width="1.3"/><text x="430.40" y="98.04" font-size="9.45" text-anchor="end" fill="#1a1a1a" stroke="#1a1a1a" stroke-width="0.3" stroke-opacity="0.55">aerobic electron transport</text><line x1="433.20" y1="106.72" x2="438.20" y2="106.72" stroke="#444" stroke-width="1.3"/><text x="430.40" y="109.12" font-size="9.45" text-anchor="end" fill="#1a1a1a" stroke="#1a1a1a" stroke-width="0.3" stroke-opacity="0.55">protein hydroxylation</text><line x1="433.20" y1="119.40" x2="438.20" y2="119.40" stroke="#444" stroke-width="1.3"/><text x="430.40" y="122.60" font-size="9.45" text-anchor="end" fill="#1a1a1a" stroke="#1a1a1a" stroke-width="0.3" stroke-opacity="0.55">mitotic cell cycle</text><line x1="433.20" y1="130.51" x2="438.20" y2="130.51" stroke="#444" stroke-width="1.3"/><text x="430.40" y="133.71" font-size="9.45" text-anchor="end" fill="#1a1a1a" stroke="#1a1a1a" stroke-width="0.3" stroke-opacity="0.55">regulation of cell cycle</text><line x1="433.20" y1="141.62" x2="438.20" y2="141.62" stroke="#444" stroke-width="1.3"/><text x="430.40" y="144.82" font-size="9.45" text-anchor="end" fill="#1a1a1a" stroke="#1a1a1a" stroke-width="0.3" stroke-opacity="0.55">cell cycle process</text><line x1="433.20" y1="152.73" x2="438.20" y2="152.73" stroke="#444" stroke-width="1.3"/><text x="430.40" y="155.93" font-size="9.45" text-anchor="end" fill="#1a1a1a" stroke="#1a1a1a" stroke-width="0.3" stroke-opacity="0.55">cytoskeleton organization</text><line x1="433.20" y1="163.84" x2="438.20" y2="163.84" stroke="#444" stroke-width="1.3"/><text x="430.40" y="167.04" font-size="9.45" text-anchor="end" fill="#1a1a1a" stroke="#1a1a1a" stroke-width="0.3" stroke-opacity="0.55">cell cycle</text><line x1="433.20" y1="174.95" x2="438.20" y2="174.95" stroke="#444" stroke-width="1.3"/><text x="430.40" y="178.15" font-size="9.45" text-anchor="end" fill="#1a1a1a" stroke="#1a1a1a" stroke-width="0.3" stroke-opacity="0.55">phosphorylation</text><line x1="433.20" y1="186.06" x2="438.20" y2="186.06" stroke="#444" stroke-width="1.3"/><text x="430.40" y="189.26" font-size="9.45" text-anchor="end" fill="#1a1a1a" stroke="#1a1a1a" stroke-width="0.3" stroke-opacity="0.55">protein modification process</text><line x1="433.20" y1="197.17" x2="438.20" y2="197.17" stroke="#444" stroke-width="1.3"/><text x="430.40" y="200.37" font-size="9.45" text-anchor="end" fill="#1a1a1a" stroke="#1a1a1a" stroke-width="0.3" stroke-opacity="0.55">macromolecule modification</text><line x1="433.20" y1="208.28" x2="438.20" y2="208.28" stroke="#444" stroke-width="1.3"/><text x="430.40" y="211.48" font-size="9.45" text-anchor="end" fill="#1a1a1a" stroke="#1a1a1a" stroke-width="0.3" stroke-opacity="0.55">DNA metabolic process</text><line x1="433.20" y1="219.39" x2="438.20" y2="219.39" stroke="#444" stroke-width="1.3"/><text x="426.60" y="222.49" font-size="9.45" text-anchor="end" fill="#1a1a1a" stroke="#1a1a1a" stroke-width="0.3" stroke-opacity="0.55">Cellular response to DNA</text><text x="428.20" y="234.30" font-size="9.45" text-anchor="end" fill="#1a1a1a" stroke="#1a1a1a" stroke-width="0.3" stroke-opacity="0.55">damage</text><line x1="442.50" y1="225.90" x2="442.50" y2="228.50" stroke="#444" stroke-width="1.2"/><text x="442.50" y="239.20" font-size="9.1" text-anchor="middle" fill="#1a1a1a" stroke="#1a1a1a" stroke-width="0.3" stroke-opacity="0.55">0.2</text><line x1="497.00" y1="225.90" x2="497.00" y2="228.50" stroke="#444" stroke-width="1.2"/><text x="497.00" y="239.20" font-size="9.1" text-anchor="middle" fill="#1a1a1a" stroke="#1a1a1a" stroke-width="0.3" stroke-opacity="0.55">0.4</text><line x1="551.50" y1="225.90" x2="551.50" y2="228.50" stroke="#444" stroke-width="1.2"/><text x="551.50" y="239.20" font-size="9.1" text-anchor="middle" fill="#1a1a1a" stroke="#1a1a1a" stroke-width="0.3" stroke-opacity="0.55">0.6</text><line x1="606.00" y1="225.90" x2="606.00" y2="228.50" stroke="#444" stroke-width="1.2"/><text x="606.00" y="239.20" font-size="9.1" text-anchor="middle" fill="#1a1a1a" stroke="#1a1a1a" stroke-width="0.3" stroke-opacity="0.55">0.8</text><line x1="660.50" y1="225.90" x2="660.50" y2="228.50" stroke="#444" stroke-width="1.2"/><text x="660.50" y="239.20" font-size="9.1" text-anchor="middle" fill="#1a1a1a" stroke="#1a1a1a" stroke-width="0.3" stroke-opacity="0.55">1.0</text><text x="531.00" y="256.10" font-size="9.5" text-anchor="start" fill="#1a1a1a" stroke="#1a1a1a" stroke-width="0.3" stroke-opacity="0.55">gene ratio</text><text x="677.00" y="58.60" font-size="9.3" text-anchor="middle" font-weight="bold" fill="#1a1a1a" transform="rotate(90 677.00 58.60)">Upregulated</text><text x="676.40" y="170.50" font-size="9.45" text-anchor="middle" font-weight="bold" fill="#1a1a1a" transform="rotate(90 676.40 170.50)">Downregulated</text><circle cx="660.90" cy="8.70" r="4.20" fill="#bbb050"/><circle cx="632.50" cy="19.78" r="4.00" fill="#b9b04e"/><circle cx="630.40" cy="30.86" r="2.80" fill="#a8bb52"/><circle cx="617.80" cy="41.94" r="3.70" fill="#bab04e"/><circle cx="617.80" cy="53.02" r="3.70" fill="#bab04e"/><circle cx="595.10" cy="64.10" r="3.90" fill="#b8b24e"/><circle cx="592.70" cy="75.18" r="3.90" fill="#b8b24e"/><circle cx="582.90" cy="86.26" r="3.90" fill="#b8b04e"/><circle cx="582.00" cy="97.34" r="4.10" fill="#c4ad50"/><circle cx="577.00" cy="108.42" r="3.10" fill="#a8bc4a"/><circle cx="504.80" cy="119.50" r="5.50" fill="#8ee8c2"/><circle cx="504.60" cy="130.61" r="5.50" fill="#8ee8c2"/><circle cx="497.80" cy="141.72" r="5.50" fill="#8ee8c4"/><circle cx="493.60" cy="152.83" r="5.60" fill="#8ee8c6"/><circle cx="491.90" cy="163.94" r="6.00" fill="#90e4d4"/><circle cx="479.40" cy="175.05" r="5.00" fill="#8ee8c4"/><circle cx="470.30" cy="186.16" r="6.30" fill="#90e4d4"/><circle cx="467.50" cy="197.27" r="6.50" fill="#90e4d4"/><circle cx="453.40" cy="208.38" r="4.60" fill="#8ee8c4"/><circle cx="449.40" cy="219.49" r="4.70" fill="#8ee8c6"/><circle cx="268.60" cy="186.10" r="0.80" fill="#777"/><text x="620.50" y="124.50" font-size="9.5" text-anchor="start" fill="#1a1a1a" stroke="#1a1a1a" stroke-width="0.3" stroke-opacity="0.55">Count</text><circle cx="632.60" cy="133.30" r="4.70" fill="#000"/><circle cx="632.40" cy="145.90" r="5.80" fill="#000"/><circle cx="632.60" cy="159.80" r="6.60" fill="#000"/><text x="640.30" y="135.80" font-size="6.8" text-anchor="start" fill="#1a1a1a" stroke="#1a1a1a" stroke-width="0.3" stroke-opacity="0.55">50</text><text x="641.00" y="149.20" font-size="6.8" text-anchor="start" fill="#1a1a1a" stroke="#1a1a1a" stroke-width="0.3" stroke-opacity="0.55">100</text><text x="641.80" y="163.20" font-size="6.8" text-anchor="start" fill="#1a1a1a" stroke="#1a1a1a" stroke-width="0.3" stroke-opacity="0.55">150</text><defs><linearGradient id="pad" x1="0" y1="0" x2="0" y2="1"><stop offset="0" stop-color="#b5a452"/><stop offset="0.18" stop-color="#a8bb55"/><stop offset="0.4" stop-color="#8ee05a"/><stop offset="0.62" stop-color="#84e28e"/><stop offset="0.82" stop-color="#84e0c0"/><stop offset="1" stop-color="#8ee0dc"/></linearGradient></defs><rect x="627.60" y="170.40" width="10.80" height="53.50" fill="url(#pad)"/><line x1="627.60" y1="176.40" x2="629.60" y2="176.40" stroke="#fff" stroke-width="0.6" opacity="0.7"/><line x1="636.40" y1="176.40" x2="638.40" y2="176.40" stroke="#fff" stroke-width="0.6" opacity="0.7"/><line x1="627.60" y1="188.40" x2="629.60" y2="188.40" stroke="#fff" stroke-width="0.6" opacity="0.7"/><line x1="636.40" y1="188.40" x2="638.40" y2="188.40" stroke="#fff" stroke-width="0.6" opacity="0.7"/><line x1="627.60" y1="200.40" x2="629.60" y2="200.40" stroke="#fff" stroke-width="0.6" opacity="0.7"/><line x1="636.40" y1="200.40" x2="638.40" y2="200.40" stroke="#fff" stroke-width="0.6" opacity="0.7"/><line x1="627.60" y1="212.40" x2="629.60" y2="212.40" stroke="#fff" stroke-width="0.6" opacity="0.7"/><line x1="636.40" y1="212.40" x2="638.40" y2="212.40" stroke="#fff" stroke-width="0.6" opacity="0.7"/><text x="640.90" y="176.00" font-size="7.1" text-anchor="start" fill="#1a1a1a" stroke="#1a1a1a" stroke-width="0.3" stroke-opacity="0.55">0.0002</text><text x="640.90" y="224.20" font-size="7.1" text-anchor="start" fill="#1a1a1a" stroke="#1a1a1a" stroke-width="0.3" stroke-opacity="0.55">0.0001</text><text x="626.00" y="197.10" font-size="9.4" text-anchor="middle" fill="#1a1a1a" stroke="#1a1a1a" stroke-width="0.3" stroke-opacity="0.55" transform="rotate(-90 626.00 197.10)">p.adjust</text><text x="3.60" y="292.30" font-size="19.5" text-anchor="start" font-weight="bold" fill="#111" stroke="#111" stroke-width="0.45" transform="translate(3.6 292.3) scale(0.86 1) translate(-3.6 -292.3)">C</text><text x="46.34" y="336.00" font-size="7.05" text-anchor="start" fill="#1a1a1a" stroke="#1a1a1a" stroke-width="0.3" stroke-opacity="0.55" transform="rotate(-90 46.34 336.00)">SDCBP</text><text x="52.83" y="336.00" font-size="7.05" text-anchor="start" fill="#1a1a1a" stroke="#1a1a1a" stroke-width="0.3" stroke-opacity="0.55" transform="rotate(-90 52.83 336.00)">CYLD</text><text x="59.32" y="336.00" font-size="7.05" text-anchor="start" fill="#1a1a1a" stroke="#1a1a1a" stroke-width="0.3" stroke-opacity="0.55" transform="rotate(-90 59.32 336.00)">CDC73</text><text x="65.81" y="336.00" font-size="7.05" text-anchor="start" fill="#1a1a1a" stroke="#1a1a1a" stroke-width="0.3" stroke-opacity="0.55" transform="rotate(-90 65.81 336.00)">PKN2</text><text x="72.30" y="336.00" font-size="7.05" text-anchor="start" fill="#1a1a1a" stroke="#1a1a1a" stroke-width="0.3" stroke-opacity="0.55" transform="rotate(-90 72.30 336.00)">USP16</text><text x="78.79" y="336.00" font-size="7.05" text-anchor="start" fill="#1a1a1a" stroke="#1a1a1a" stroke-width="0.3" stroke-opacity="0.55" transform="rotate(-90 78.79 336.00)">CDC20</text><text x="85.28" y="336.00" font-size="7.05" text-anchor="start" fill="#1a1a1a" stroke="#1a1a1a" stroke-width="0.3" stroke-opacity="0.55" transform="rotate(-90 85.28 336.00)">CCNB1</text><text x="91.77" y="336.00" font-size="7.05" text-anchor="start" fill="#1a1a1a" stroke="#1a1a1a" stroke-width="0.3" stroke-opacity="0.55" transform="rotate(-90 91.77 336.00)">BUB1B</text><text x="98.26" y="336.00" font-size="7.05" text-anchor="start" fill="#1a1a1a" stroke="#1a1a1a" stroke-width="0.3" stroke-opacity="0.55" transform="rotate(-90 98.26 336.00)">SPC24</text><text x="104.75" y="336.00" font-size="7.05" text-anchor="start" fill="#1a1a1a" stroke="#1a1a1a" stroke-width="0.3" stroke-opacity="0.55" transform="rotate(-90 104.75 336.00)">NUF2</text><text x="111.24" y="336.00" font-size="7.05" text-anchor="start" fill="#1a1a1a" stroke="#1a1a1a" stroke-width="0.3" stroke-opacity="0.55" transform="rotate(-90 111.24 336.00)">SPAG5</text><text x="117.73" y="336.00" font-size="7.05" text-anchor="start" fill="#1a1a1a" stroke="#1a1a1a" stroke-width="0.3" stroke-opacity="0.55" transform="rotate(-90 117.73 336.00)">NDC80</text><text x="124.22" y="336.00" font-size="7.05" text-anchor="start" fill="#1a1a1a" stroke="#1a1a1a" stroke-width="0.3" stroke-opacity="0.55" transform="rotate(-90 124.22 336.00)">TIMELESS</text><text x="130.71" y="336.00" font-size="7.05" text-anchor="start" fill="#1a1a1a" stroke="#1a1a1a" stroke-width="0.3" stroke-opacity="0.55" transform="rotate(-90 130.71 336.00)">TPX2</text><text x="137.20" y="336.00" font-size="7.05" text-anchor="start" fill="#1a1a1a" stroke="#1a1a1a" stroke-width="0.3" stroke-opacity="0.55" transform="rotate(-90 137.20 336.00)">RRM2</text><text x="143.69" y="336.00" font-size="7.05" text-anchor="start" fill="#1a1a1a" stroke="#1a1a1a" stroke-width="0.3" stroke-opacity="0.55" transform="rotate(-90 143.69 336.00)">BOP1</text><text x="150.18" y="336.00" font-size="7.05" text-anchor="start" fill="#1a1a1a" stroke="#1a1a1a" stroke-width="0.3" stroke-opacity="0.55" transform="rotate(-90 150.18 336.00)">CKS2</text><text x="156.67" y="336.00" font-size="7.05" text-anchor="start" fill="#1a1a1a" stroke="#1a1a1a" stroke-width="0.3" stroke-opacity="0.55" transform="rotate(-90 156.67 336.00)">METTL13</text><text x="163.16" y="336.00" font-size="7.05" text-anchor="start" fill="#1a1a1a" stroke="#1a1a1a" stroke-width="0.3" stroke-opacity="0.55" transform="rotate(-90 163.16 336.00)">WNK1</text><text x="169.65" y="336.00" font-size="7.05" text-anchor="start" fill="#1a1a1a" stroke="#1a1a1a" stroke-width="0.3" stroke-opacity="0.55" transform="rotate(-90 169.65 336.00)">PHF10</text><rect x="41.70" y="339.80" width="6.39" height="12.15" fill="#6e6a69"/><rect x="48.04" y="339.80" width="6.39" height="12.15" fill="#6e6a69"/><rect x="54.38" y="339.80" width="6.39" height="12.15" fill="#6e6a69"/><rect x="60.72" y="339.80" width="6.39" height="12.15" fill="#6e6a69"/><rect x="67.06" y="339.80" width="6.39" height="12.15" fill="#6e6a69"/><rect x="73.40" y="339.80" width="6.39" height="12.15" fill="#6e6a69"/><rect x="79.74" y="339.80" width="6.39" height="12.15" fill="#6e6a69"/><rect x="86.08" y="339.80" width="6.39" height="12.15" fill="#6e6a69"/><rect x="92.42" y="339.80" width="6.39" height="12.15" fill="#6e6a69"/><rect x="98.76" y="339.80" width="6.39" height="12.15" fill="#6e6a69"/><rect x="105.10" y="339.80" width="6.39" height="12.15" fill="#6e6a69"/><rect x="111.44" y="339.80" width="6.39" height="12.15" fill="#6e6a69"/><rect x="117.78" y="339.80" width="6.39" height="12.15" fill="#6e6a69"/><rect x="124.12" y="339.80" width="6.39" height="12.15" fill="#6e6a69"/><rect x="130.46" y="339.80" width="6.39" height="12.15" fill="#6e6a69"/><rect x="136.80" y="339.80" width="6.39" height="12.15" fill="#6e6a69"/><rect x="143.14" y="339.80" width="6.39" height="12.15" fill="#6e6a69"/><rect x="149.48" y="339.80" width="6.39" height="12.15" fill="#6e6a69"/><rect x="155.82" y="339.80" width="6.39" height="12.15" fill="#6e6a69"/><rect x="162.16" y="339.80" width="6.39" height="12.15" fill="#6e6a69"/><rect x="41.70" y="351.90" width="6.39" height="12.15" fill="#6e6a69"/><rect x="48.04" y="351.90" width="6.39" height="12.15" fill="#6e6a69"/><rect x="54.38" y="351.90" width="6.39" height="12.15" fill="#6e6a69"/><rect x="60.72" y="351.90" width="6.39" height="12.15" fill="#6e6a69"/><rect x="67.06" y="351.90" width="6.39" height="12.15" fill="#6e6a69"/><rect x="73.40" y="351.90" width="6.39" height="12.15" fill="#6e6a69"/><rect x="79.74" y="351.90" width="6.39" height="12.15" fill="#6e6a69"/><rect x="86.08" y="351.90" width="6.39" height="12.15" fill="#6e6a69"/><rect x="92.42" y="351.90" width="6.39" height="12.15" fill="#6e6a69"/><rect x="98.76" y="351.90" width="6.39" height="12.15" fill="#6e6a69"/><rect x="105.10" y="351.90" width="6.39" height="12.15" fill="#6e6a69"/><rect x="111.44" y="351.90" width="6.39" height="12.15" fill="#6e6a69"/><rect x="117.78" y="351.90" width="6.39" height="12.15" fill="#6e6a69"/><rect x="124.12" y="351.90" width="6.39" height="12.15" fill="#6e6a69"/><rect x="130.46" y="351.90" width="6.39" height="12.15" fill="#6e6a69"/><rect x="136.80" y="351.90" width="6.39" height="12.15" fill="#6e6a69"/><rect x="143.14" y="351.90" width="6.39" height="12.15" fill="#6e6a69"/><rect x="149.48" y="351.90" width="6.39" height="12.15" fill="#6e6a69"/><rect x="155.82" y="351.90" width="6.39" height="12.15" fill="#6e6a69"/><rect x="162.16" y="351.90" width="6.39" height="12.15" fill="#6e6a69"/><rect x="41.70" y="364.00" width="6.39" height="12.15" fill="#6e6a69"/><rect x="48.04" y="364.00" width="6.39" height="12.15" fill="#6e6a69"/><rect x="54.38" y="364.00" width="6.39" height="12.15" fill="#6e6a69"/><rect x="60.72" y="364.00" width="6.39" height="12.15" fill="#6e6a69"/><rect x="67.06" y="364.00" width="6.39" height="12.15" fill="#6e6a69"/><rect x="73.40" y="364.00" width="6.39" height="12.15" fill="#6e6a69"/><rect x="79.74" y="364.00" width="6.39" height="12.15" fill="#6e6a69"/><rect x="86.08" y="364.00" width="6.39" height="12.15" fill="#6e6a69"/><rect x="92.42" y="364.00" width="6.39" height="12.15" fill="#6e6a69"/><rect x="98.76" y="364.00" width="6.39" height="12.15" fill="#6e6a69"/><rect x="105.10" y="364.00" width="6.39" height="12.15" fill="#6e6a69"/><rect x="111.44" y="364.00" width="6.39" height="12.15" fill="#6e6a69"/><rect x="117.78" y="364.00" width="6.39" height="12.15" fill="#6e6a69"/><rect x="124.12" y="364.00" width="6.39" height="12.15" fill="#6e6a69"/><rect x="130.46" y="364.00" width="6.39" height="12.15" fill="#6e6a69"/><rect x="136.80" y="364.00" width="6.39" height="12.15" fill="#6e6a69"/><rect x="143.14" y="364.00" width="6.39" height="12.15" fill="#6e6a69"/><rect x="149.48" y="364.00" width="6.39" height="12.15" fill="#6e6a69"/><rect x="155.82" y="364.00" width="6.39" height="12.15" fill="#6e6a69"/><rect x="162.16" y="364.00" width="6.39" height="12.15" fill="#6e6a69"/><rect x="41.70" y="376.10" width="6.39" height="12.15" fill="#cbcaca"/><rect x="48.04" y="376.10" width="6.39" height="12.15" fill="#cbcaca"/><rect x="54.38" y="376.10" width="6.39" height="12.15" fill="#cbcaca"/><rect x="60.72" y="376.10" width="6.39" height="12.15" fill="#cbcaca"/><rect x="67.06" y="376.10" width="6.39" height="12.15" fill="#cbcaca"/><rect x="73.40" y="376.10" width="6.39" height="12.15" fill="#cbcaca"/><rect x="79.74" y="376.10" width="6.39" height="12.15" fill="#cbcaca"/><rect x="86.08" y="376.10" width="6.39" height="12.15" fill="#cbcaca"/><rect x="92.42" y="376.10" width="6.39" height="12.15" fill="#cbcaca"/><rect x="98.76" y="376.10" width="6.39" height="12.15" fill="#cbcaca"/><rect x="105.10" y="376.10" width="6.39" height="12.15" fill="#cbcaca"/><rect x="111.44" y="376.10" width="6.39" height="12.15" fill="#cbcaca"/><rect x="117.78" y="376.10" width="6.39" height="12.15" fill="#cbcaca"/><rect x="124.12" y="376.10" width="6.39" height="12.15" fill="#cbcaca"/><rect x="130.46" y="376.10" width="6.39" height="12.15" fill="#cbcaca"/><rect x="136.80" y="376.10" width="6.39" height="12.15" fill="#cbcaca"/><rect x="143.14" y="376.10" width="6.39" height="12.15" fill="#cbcaca"/><rect x="149.48" y="376.10" width="6.39" height="12.15" fill="#cbcaca"/><rect x="155.82" y="376.10" width="6.39" height="12.15" fill="#cbcaca"/><rect x="162.16" y="376.10" width="6.39" height="12.15" fill="#cbcaca"/><rect x="41.70" y="388.20" width="6.39" height="12.15" fill="#cbcaca"/><rect x="48.04" y="388.20" width="6.39" height="12.15" fill="#cbcaca"/><rect x="54.38" y="388.20" width="6.39" height="12.15" fill="#cbcaca"/><rect x="60.72" y="388.20" width="6.39" height="12.15" fill="#cbcaca"/><rect x="67.06" y="388.20" width="6.39" height="12.15" fill="#cbcaca"/><rect x="73.40" y="388.20" width="6.39" height="12.15" fill="#cbcaca"/><rect x="79.74" y="388.20" width="6.39" height="12.15" fill="#cbcaca"/><rect x="86.08" y="388.20" width="6.39" height="12.15" fill="#cbcaca"/><rect x="92.42" y="388.20" width="6.39" height="12.15" fill="#cbcaca"/><rect x="98.76" y="388.20" width="6.39" height="12.15" fill="#cbcaca"/><rect x="105.10" y="388.20" width="6.39" height="12.15" fill="#cbcaca"/><rect x="111.44" y="388.20" width="6.39" height="12.15" fill="#cbcaca"/><rect x="117.78" y="388.20" width="6.39" height="12.15" fill="#cbcaca"/><rect x="124.12" y="388.20" width="6.39" height="12.15" fill="#cbcaca"/><rect x="130.46" y="388.20" width="6.39" height="12.15" fill="#cbcaca"/><rect x="136.80" y="388.20" width="6.39" height="12.15" fill="#cbcaca"/><rect x="143.14" y="388.20" width="6.39" height="12.15" fill="#cbcaca"/><rect x="149.48" y="388.20" width="6.39" height="12.15" fill="#cbcaca"/><rect x="155.82" y="388.20" width="6.39" height="12.15" fill="#cbcaca"/><rect x="162.16" y="388.20" width="6.39" height="12.15" fill="#cbcaca"/><rect x="41.70" y="400.30" width="6.39" height="12.15" fill="#cbcaca"/><rect x="48.04" y="400.30" width="6.39" height="12.15" fill="#cbcaca"/><rect x="54.38" y="400.30" width="6.39" height="12.15" fill="#cbcaca"/><rect x="60.72" y="400.30" width="6.39" height="12.15" fill="#cbcaca"/><rect x="67.06" y="400.30" width="6.39" height="12.15" fill="#cbcaca"/><rect x="73.40" y="400.30" width="6.39" height="12.15" fill="#cbcaca"/><rect x="79.74" y="400.30" width="6.39" height="12.15" fill="#cbcaca"/><rect x="86.08" y="400.30" width="6.39" height="12.15" fill="#cbcaca"/><rect x="92.42" y="400.30" width="6.39" height="12.15" fill="#cbcaca"/><rect x="98.76" y="400.30" width="6.39" height="12.15" fill="#cbcaca"/><rect x="105.10" y="400.30" width="6.39" height="12.15" fill="#cbcaca"/><rect x="111.44" y="400.30" width="6.39" height="12.15" fill="#cbcaca"/><rect x="117.78" y="400.30" width="6.39" height="12.15" fill="#cbcaca"/><rect x="124.12" y="400.30" width="6.39" height="12.15" fill="#cbcaca"/><rect x="130.46" y="400.30" width="6.39" height="12.15" fill="#cbcaca"/><rect x="136.80" y="400.30" width="6.39" height="12.15" fill="#cbcaca"/><rect x="143.14" y="400.30" width="6.39" height="12.15" fill="#cbcaca"/><rect x="149.48" y="400.30" width="6.39" height="12.15" fill="#cbcaca"/><rect x="155.82" y="400.30" width="6.39" height="12.15" fill="#cbcaca"/><rect x="162.16" y="400.30" width="6.39" height="12.15" fill="#cbcaca"/><line x1="48.04" y1="339.80" x2="48.04" y2="412.40" stroke="rgba(255,255,255,0.33)" stroke-width="0.8"/><line x1="54.38" y1="339.80" x2="54.38" y2="412.40" stroke="rgba(255,255,255,0.33)" stroke-width="0.8"/><line x1="60.72" y1="339.80" x2="60.72" y2="412.40" stroke="rgba(255,255,255,0.33)" stroke-width="0.8"/><line x1="67.06" y1="339.80" x2="67.06" y2="412.40" stroke="rgba(255,255,255,0.33)" stroke-width="0.8"/><line x1="73.40" y1="339.80" x2="73.40" y2="412.40" stroke="rgba(255,255,255,0.33)" stroke-width="0.8"/><line x1="79.74" y1="339.80" x2="79.74" y2="412.40" stroke="rgba(255,255,255,0.33)" stroke-width="0.8"/><line x1="86.08" y1="339.80" x2="86.08" y2="412.40" stroke="rgba(255,255,255,0.33)" stroke-width="0.8"/><line x1="92.42" y1="339.80" x2="92.42" y2="412.40" stroke="rgba(255,255,255,0.33)" stroke-width="0.8"/><line x1="98.76" y1="339.80" x2="98.76" y2="412.40" stroke="rgba(255,255,255,0.33)" stroke-width="0.8"/><line x1="105.10" y1="339.80" x2="105.10" y2="412.40" stroke="rgba(255,255,255,0.33)" stroke-width="0.8"/><line x1="111.44" y1="339.80" x2="111.44" y2="412.40" stroke="rgba(255,255,255,0.33)" stroke-width="0.8"/><line x1="117.78" y1="339.80" x2="117.78" y2="412.40" stroke="rgba(255,255,255,0.33)" stroke-width="0.8"/><line x1="124.12" y1="339.80" x2="124.12" y2="412.40" stroke="rgba(255,255,255,0.33)" stroke-width="0.8"/><line x1="130.46" y1="339.80" x2="130.46" y2="412.40" stroke="rgba(255,255,255,0.33)" stroke-width="0.8"/><line x1="136.80" y1="339.80" x2="136.80" y2="412.40" stroke="rgba(255,255,255,0.33)" stroke-width="0.8"/><line x1="143.14" y1="339.80" x2="143.14" y2="412.40" stroke="rgba(255,255,255,0.33)" stroke-width="0.8"/><line x1="149.48" y1="339.80" x2="149.48" y2="412.40" stroke="rgba(255,255,255,0.33)" stroke-width="0.8"/><line x1="155.82" y1="339.80" x2="155.82" y2="412.40" stroke="rgba(255,255,255,0.33)" stroke-width="0.8"/><line x1="162.16" y1="339.80" x2="162.16" y2="412.40" stroke="rgba(255,255,255,0.33)" stroke-width="0.8"/><line x1="41.70" y1="351.90" x2="168.50" y2="351.90" stroke="rgba(255,255,255,0.33)" stroke-width="0.8"/><line x1="41.70" y1="364.00" x2="168.50" y2="364.00" stroke="rgba(255,255,255,0.33)" stroke-width="0.8"/><line x1="41.70" y1="376.10" x2="168.50" y2="376.10" stroke="rgba(255,255,255,0.33)" stroke-width="0.8"/><line x1="41.70" y1="388.20" x2="168.50" y2="388.20" stroke="rgba(255,255,255,0.33)" stroke-width="0.8"/><line x1="41.70" y1="400.30" x2="168.50" y2="400.30" stroke="rgba(255,255,255,0.33)" stroke-width="0.8"/><rect x="41.00" y="338.90" width="128.20" height="74.40" fill="none" stroke="#111" stroke-width="1.45"/><text x="23.40" y="373.00" font-size="9.35" text-anchor="middle" font-weight="bold" fill="#111" transform="rotate(-90 23.40 373.00)">SU-DIPGXIII</text><text x="35.00" y="354.90" font-size="9.3" text-anchor="middle" fill="#1a1a1a" stroke="#1a1a1a" stroke-width="0.3" stroke-opacity="0.55" transform="rotate(-90 35.00 354.90)">DMSO</text><text x="35.00" y="392.50" font-size="9.3" text-anchor="middle" fill="#1a1a1a" stroke="#1a1a1a" stroke-width="0.3" stroke-opacity="0.55" transform="rotate(-90 35.00 392.50)">FB232</text><rect x="42.40" y="424.20" width="6.39" height="10.95" fill="#4a4cb2"/><rect x="48.74" y="424.20" width="6.39" height="10.95" fill="#4a4cb2"/><rect x="55.08" y="424.20" width="6.39" height="10.95" fill="#4a4cb2"/><rect x="61.42" y="424.20" width="6.39" height="10.95" fill="#4a4cb2"/><rect x="67.76" y="424.20" width="6.39" height="10.95" fill="#4a4cb2"/><rect x="74.10" y="424.20" width="6.39" height="10.95" fill="#4a4cb2"/><rect x="80.44" y="424.20" width="6.39" height="10.95" fill="#4a4cb2"/><rect x="86.78" y="424.20" width="6.39" height="10.95" fill="#4a4cb2"/><rect x="93.12" y="424.20" width="6.39" height="10.95" fill="#4a4cb2"/><rect x="99.46" y="424.20" width="6.39" height="10.95" fill="#4a4cb2"/><rect x="105.80" y="424.20" width="6.39" height="10.95" fill="#4a4cb2"/><rect x="112.14" y="424.20" width="6.39" height="10.95" fill="#4a4cb2"/><rect x="118.48" y="424.20" width="6.39" height="10.95" fill="#4a4cb2"/><rect x="124.82" y="424.20" width="6.39" height="10.95" fill="#4a4cb2"/><rect x="131.16" y="424.20" width="6.39" height="10.95" fill="#4a4cb2"/><rect x="137.50" y="424.20" width="6.39" height="10.95" fill="#4a4cb2"/><rect x="143.84" y="424.20" width="6.39" height="10.95" fill="#4a4cb2"/><rect x="150.18" y="424.20" width="6.39" height="10.95" fill="#4a4cb2"/><rect x="156.52" y="424.20" width="6.39" height="10.95" fill="#4a4cb2"/><rect x="162.86" y="424.20" width="6.39" height="10.95" fill="#4a4cb2"/><rect x="42.40" y="435.10" width="6.39" height="11.05" fill="#f6b4bc"/><rect x="48.74" y="435.10" width="6.39" height="11.05" fill="#f6b4bc"/><rect x="55.08" y="435.10" width="6.39" height="11.05" fill="#ffffff"/><rect x="61.42" y="435.10" width="6.39" height="11.05" fill="#ffffff"/><rect x="67.76" y="435.10" width="6.39" height="11.05" fill="#ffffff"/><rect x="74.10" y="435.10" width="6.39" height="11.05" fill="#4a4cb2"/><rect x="80.44" y="435.10" width="6.39" height="11.05" fill="#5050b5"/><rect x="86.78" y="435.10" width="6.39" height="11.05" fill="#6558bc"/><rect x="93.12" y="435.10" width="6.39" height="11.05" fill="#8a7cd2"/><rect x="99.46" y="435.10" width="6.39" height="11.05" fill="#8a7cd2"/><rect x="105.80" y="435.10" width="6.39" height="11.05" fill="#8a7cd2"/><rect x="112.14" y="435.10" width="6.39" height="11.05" fill="#8a7cd2"/><rect x="118.48" y="435.10" width="6.39" height="11.05" fill="#c0b5ea"/><rect x="124.82" y="435.10" width="6.39" height="11.05" fill="#c0b5ea"/><rect x="131.16" y="435.10" width="6.39" height="11.05" fill="#c0b5ea"/><rect x="137.50" y="435.10" width="6.39" height="11.05" fill="#c0b5ea"/><rect x="143.84" y="435.10" width="6.39" height="11.05" fill="#c0b5ea"/><rect x="150.18" y="435.10" width="6.39" height="11.05" fill="#e2def5"/><rect x="156.52" y="435.10" width="6.39" height="11.05" fill="#e2def5"/><rect x="162.86" y="435.10" width="6.39" height="11.05" fill="#e2def5"/><line x1="48.74" y1="424.20" x2="48.74" y2="446.10" stroke="rgba(255,255,255,0.3)" stroke-width="0.8"/><line x1="55.08" y1="424.20" x2="55.08" y2="446.10" stroke="rgba(255,255,255,0.3)" stroke-width="0.8"/><line x1="61.42" y1="424.20" x2="61.42" y2="446.10" stroke="rgba(255,255,255,0.3)" stroke-width="0.8"/><line x1="67.76" y1="424.20" x2="67.76" y2="446.10" stroke="rgba(255,255,255,0.3)" stroke-width="0.8"/><line x1="74.10" y1="424.20" x2="74.10" y2="446.10" stroke="rgba(255,255,255,0.3)" stroke-width="0.8"/><line x1="80.44" y1="424.20" x2="80.44" y2="446.10" stroke="rgba(255,255,255,0.3)" stroke-width="0.8"/><line x1="86.78" y1="424.20" x2="86.78" y2="446.10" stroke="rgba(255,255,255,0.3)" stroke-width="0.8"/><line x1="93.12" y1="424.20" x2="93.12" y2="446.10" stroke="rgba(255,255,255,0.3)" stroke-width="0.8"/><line x1="99.46" y1="424.20" x2="99.46" y2="446.10" stroke="rgba(255,255,255,0.3)" stroke-width="0.8"/><line x1="105.80" y1="424.20" x2="105.80" y2="446.10" stroke="rgba(255,255,255,0.3)" stroke-width="0.8"/><line x1="112.14" y1="424.20" x2="112.14" y2="446.10" stroke="rgba(255,255,255,0.3)" stroke-width="0.8"/><line x1="118.48" y1="424.20" x2="118.48" y2="446.10" stroke="rgba(255,255,255,0.3)" stroke-width="0.8"/><line x1="124.82" y1="424.20" x2="124.82" y2="446.10" stroke="rgba(255,255,255,0.3)" stroke-width="0.8"/><line x1="131.16" y1="424.20" x2="131.16" y2="446.10" stroke="rgba(255,255,255,0.3)" stroke-width="0.8"/><line x1="137.50" y1="424.20" x2="137.50" y2="446.10" stroke="rgba(255,255,255,0.3)" stroke-width="0.8"/><line x1="143.84" y1="424.20" x2="143.84" y2="446.10" stroke="rgba(255,255,255,0.3)" stroke-width="0.8"/><line x1="150.18" y1="424.20" x2="150.18" y2="446.10" stroke="rgba(255,255,255,0.3)" stroke-width="0.8"/><line x1="156.52" y1="424.20" x2="156.52" y2="446.10" stroke="rgba(255,255,255,0.3)" stroke-width="0.8"/><line x1="162.86" y1="424.20" x2="162.86" y2="446.10" stroke="rgba(255,255,255,0.3)" stroke-width="0.8"/><line x1="42.40" y1="435.10" x2="169.20" y2="435.10" stroke="rgba(255,255,255,0.3)" stroke-width="0.8"/><rect x="41.70" y="423.60" width="128.20" height="23.10" fill="none" stroke="#111" stroke-width="1.4"/><text x="36.30" y="432.20" font-size="7.1" text-anchor="end" fill="#1a1a1a" stroke="#1a1a1a" stroke-width="0.3" stroke-opacity="0.55">Mass-Spec</text><text x="36.60" y="443.60" font-size="7.1" text-anchor="end" fill="#1a1a1a" stroke="#1a1a1a" stroke-width="0.3" stroke-opacity="0.55">RNA-Seq</text><text x="62.00" y="465.80" font-size="7.2" text-anchor="start" fill="#1a1a1a" stroke="#1a1a1a" stroke-width="0.3" stroke-opacity="0.55">log2(FC)</text><rect x="47.00" y="469.10" width="5.30" height="10.00" fill="#4245ae"/><rect x="52.20" y="469.10" width="5.30" height="10.00" fill="#4a4bb2"/><rect x="57.50" y="469.10" width="5.30" height="10.00" fill="#6558bc"/><rect x="62.90" y="469.10" width="5.30" height="10.00" fill="#bdb3ea"/><rect x="68.30" y="469.10" width="5.30" height="10.00" fill="#e0dcf5"/><rect x="84.90" y="469.10" width="5.40" height="10.00" fill="#fcdde2"/><rect x="90.00" y="469.10" width="5.40" height="10.00" fill="#f6b4bc"/><rect x="95.60" y="469.10" width="5.40" height="10.00" fill="#f28b88"/><rect x="100.70" y="469.10" width="5.40" height="10.00" fill="#ee6355"/><rect x="106.30" y="469.10" width="5.40" height="10.00" fill="#e6321f"/><text x="45.30" y="486.90" font-size="7.0" text-anchor="middle" fill="#1a1a1a" stroke="#1a1a1a" stroke-width="0.3" stroke-opacity="0.55">-3</text><text x="57.00" y="486.90" font-size="7.0" text-anchor="middle" fill="#1a1a1a" stroke="#1a1a1a" stroke-width="0.3" stroke-opacity="0.55">−2</text><text x="66.90" y="486.90" font-size="7.0" text-anchor="middle" fill="#1a1a1a" stroke="#1a1a1a" stroke-width="0.3" stroke-opacity="0.55">−1</text><text x="79.10" y="486.90" font-size="7.0" text-anchor="middle" fill="#1a1a1a" stroke="#1a1a1a" stroke-width="0.3" stroke-opacity="0.55">0</text><text x="90.50" y="486.90" font-size="7.0" text-anchor="middle" fill="#1a1a1a" stroke="#1a1a1a" stroke-width="0.3" stroke-opacity="0.55">1</text><text x="101.90" y="486.90" font-size="7.0" text-anchor="middle" fill="#1a1a1a" stroke="#1a1a1a" stroke-width="0.3" stroke-opacity="0.55">2</text><text x="111.80" y="486.90" font-size="7.0" text-anchor="middle" fill="#1a1a1a" stroke="#1a1a1a" stroke-width="0.3" stroke-opacity="0.55">3</text><rect x="125.10" y="457.00" width="7.60" height="7.80" fill="#6e6a6a"/><text x="137.10" y="463.90" font-size="7.0" text-anchor="start" fill="#1a1a1a" stroke="#1a1a1a" stroke-width="0.3" stroke-opacity="0.55">Detected</text><rect x="125.10" y="471.00" width="7.60" height="8.10" fill="#cbcaca"/><text x="136.10" y="478.60" font-size="7.0" text-anchor="start" fill="#1a1a1a" stroke="#1a1a1a" stroke-width="0.3" stroke-opacity="0.55">Undetected</text><text x="178.10" y="293.80" font-size="19.0" text-anchor="start" font-weight="bold" fill="#111" stroke="#111" stroke-width="0.45" transform="translate(178.1 293.8) scale(0.85 1) translate(-178.1 -293.8)">D</text><text x="228.70" y="336.60" font-size="7.1" text-anchor="start" fill="#1a1a1a" stroke="#1a1a1a" stroke-width="0.3" stroke-opacity="0.55" transform="rotate(-90 228.70 336.60)">CENPF</text><text x="235.19" y="336.60" font-size="7.1" text-anchor="start" fill="#1a1a1a" stroke="#1a1a1a" stroke-width="0.3" stroke-opacity="0.55" transform="rotate(-90 235.19 336.60)">KIF11</text><text x="241.68" y="336.60" font-size="7.1" text-anchor="start" fill="#1a1a1a" stroke="#1a1a1a" stroke-width="0.3" stroke-opacity="0.55" transform="rotate(-90 241.68 336.60)">KIF2C</text><text x="248.17" y="336.60" font-size="7.1" text-anchor="start" fill="#1a1a1a" stroke="#1a1a1a" stroke-width="0.3" stroke-opacity="0.55" transform="rotate(-90 248.17 336.60)">NCAPH</text><text x="254.66" y="336.60" font-size="7.1" text-anchor="start" fill="#1a1a1a" stroke="#1a1a1a" stroke-width="0.3" stroke-opacity="0.55" transform="rotate(-90 254.66 336.60)">MKI67</text><text x="261.15" y="336.60" font-size="7.1" text-anchor="start" fill="#1a1a1a" stroke="#1a1a1a" stroke-width="0.3" stroke-opacity="0.55" transform="rotate(-90 261.15 336.60)">NCAPD2</text><text x="267.64" y="336.60" font-size="7.1" text-anchor="start" fill="#1a1a1a" stroke="#1a1a1a" stroke-width="0.3" stroke-opacity="0.55" transform="rotate(-90 267.64 336.60)">RANBP1</text><text x="274.13" y="336.60" font-size="7.1" text-anchor="start" fill="#1a1a1a" stroke="#1a1a1a" stroke-width="0.3" stroke-opacity="0.55" transform="rotate(-90 274.13 336.60)">RPA3</text><text x="280.62" y="336.60" font-size="7.1" text-anchor="start" fill="#1a1a1a" stroke="#1a1a1a" stroke-width="0.3" stroke-opacity="0.55" transform="rotate(-90 280.62 336.60)">RPA2</text><text x="287.11" y="336.60" font-size="7.1" text-anchor="start" fill="#1a1a1a" stroke="#1a1a1a" stroke-width="0.3" stroke-opacity="0.55" transform="rotate(-90 287.11 336.60)">CLSPN</text><text x="293.60" y="336.60" font-size="7.1" text-anchor="start" fill="#1a1a1a" stroke="#1a1a1a" stroke-width="0.3" stroke-opacity="0.55" transform="rotate(-90 293.60 336.60)">CDK1</text><text x="300.09" y="336.60" font-size="7.1" text-anchor="start" fill="#1a1a1a" stroke="#1a1a1a" stroke-width="0.3" stroke-opacity="0.55" transform="rotate(-90 300.09 336.60)">RRM1</text><text x="306.58" y="336.60" font-size="7.1" text-anchor="start" fill="#1a1a1a" stroke="#1a1a1a" stroke-width="0.3" stroke-opacity="0.55" transform="rotate(-90 306.58 336.60)">SMC2</text><text x="313.07" y="336.60" font-size="7.1" text-anchor="start" fill="#1a1a1a" stroke="#1a1a1a" stroke-width="0.3" stroke-opacity="0.55" transform="rotate(-90 313.07 336.60)">CKS1B</text><text x="319.56" y="336.60" font-size="7.1" text-anchor="start" fill="#1a1a1a" stroke="#1a1a1a" stroke-width="0.3" stroke-opacity="0.55" transform="rotate(-90 319.56 336.60)">PIN1</text><text x="326.05" y="336.60" font-size="7.1" text-anchor="start" fill="#1a1a1a" stroke="#1a1a1a" stroke-width="0.3" stroke-opacity="0.55" transform="rotate(-90 326.05 336.60)">CDK2</text><text x="332.54" y="336.60" font-size="7.1" text-anchor="start" fill="#1a1a1a" stroke="#1a1a1a" stroke-width="0.3" stroke-opacity="0.55" transform="rotate(-90 332.54 336.60)">MSH2</text><text x="339.03" y="336.60" font-size="7.1" text-anchor="start" fill="#1a1a1a" stroke="#1a1a1a" stroke-width="0.3" stroke-opacity="0.55" transform="rotate(-90 339.03 336.60)">NAA10</text><text x="345.52" y="336.60" font-size="7.1" text-anchor="start" fill="#1a1a1a" stroke="#1a1a1a" stroke-width="0.3" stroke-opacity="0.55" transform="rotate(-90 345.52 336.60)">PSMD10</text><text x="352.01" y="336.60" font-size="7.1" text-anchor="start" fill="#1a1a1a" stroke="#1a1a1a" stroke-width="0.3" stroke-opacity="0.55" transform="rotate(-90 352.01 336.60)">SMC4</text><text x="358.50" y="336.60" font-size="7.1" text-anchor="start" fill="#1a1a1a" stroke="#1a1a1a" stroke-width="0.3" stroke-opacity="0.55" transform="rotate(-90 358.50 336.60)">MORF4L1</text><text x="364.99" y="336.60" font-size="7.1" text-anchor="start" fill="#1a1a1a" stroke="#1a1a1a" stroke-width="0.3" stroke-opacity="0.55" transform="rotate(-90 364.99 336.60)">ATXN10</text><text x="371.48" y="336.60" font-size="7.1" text-anchor="start" fill="#1a1a1a" stroke="#1a1a1a" stroke-width="0.3" stroke-opacity="0.55" transform="rotate(-90 371.48 336.60)">VPS4A</text><text x="377.97" y="336.60" font-size="7.1" text-anchor="start" fill="#1a1a1a" stroke="#1a1a1a" stroke-width="0.3" stroke-opacity="0.55" transform="rotate(-90 377.97 336.60)">CHORDC1</text><text x="384.46" y="336.60" font-size="7.1" text-anchor="start" fill="#1a1a1a" stroke="#1a1a1a" stroke-width="0.3" stroke-opacity="0.55" transform="rotate(-90 384.46 336.60)">NUBP1</text><text x="390.95" y="336.60" font-size="7.1" text-anchor="start" fill="#1a1a1a" stroke="#1a1a1a" stroke-width="0.3" stroke-opacity="0.55" transform="rotate(-90 390.95 336.60)">DYNC1LI1</text><text x="397.44" y="336.60" font-size="7.1" text-anchor="start" fill="#1a1a1a" stroke="#1a1a1a" stroke-width="0.3" stroke-opacity="0.55" transform="rotate(-90 397.44 336.60)">EIF4G1</text><text x="403.93" y="336.60" font-size="7.1" text-anchor="start" fill="#1a1a1a" stroke="#1a1a1a" stroke-width="0.3" stroke-opacity="0.55" transform="rotate(-90 403.93 336.60)">RPL24</text><text x="410.42" y="336.60" font-size="7.1" text-anchor="start" fill="#1a1a1a" stroke="#1a1a1a" stroke-width="0.3" stroke-opacity="0.55" transform="rotate(-90 410.42 336.60)">METTL3</text><text x="416.91" y="336.60" font-size="7.1" text-anchor="start" fill="#1a1a1a" stroke="#1a1a1a" stroke-width="0.3" stroke-opacity="0.55" transform="rotate(-90 416.91 336.60)">GBF1</text><text x="423.40" y="336.60" font-size="7.1" text-anchor="start" fill="#1a1a1a" stroke="#1a1a1a" stroke-width="0.3" stroke-opacity="0.55" transform="rotate(-90 423.40 336.60)">ITGB1</text><text x="429.89" y="336.60" font-size="7.1" text-anchor="start" fill="#1a1a1a" stroke="#1a1a1a" stroke-width="0.3" stroke-opacity="0.55" transform="rotate(-90 429.89 336.60)">SIN3A</text><text x="436.38" y="336.60" font-size="7.1" text-anchor="start" fill="#1a1a1a" stroke="#1a1a1a" stroke-width="0.3" stroke-opacity="0.55" transform="rotate(-90 436.38 336.60)">ZMPSTE24</text><text x="442.87" y="336.60" font-size="7.1" text-anchor="start" fill="#1a1a1a" stroke="#1a1a1a" stroke-width="0.3" stroke-opacity="0.55" transform="rotate(-90 442.87 336.60)">UFL1</text><text x="449.36" y="336.60" font-size="7.1" text-anchor="start" fill="#1a1a1a" stroke="#1a1a1a" stroke-width="0.3" stroke-opacity="0.55" transform="rotate(-90 449.36 336.60)">RCC1</text><text x="455.85" y="336.60" font-size="7.1" text-anchor="start" fill="#1a1a1a" stroke="#1a1a1a" stroke-width="0.3" stroke-opacity="0.55" transform="rotate(-90 455.85 336.60)">CALR</text><text x="462.34" y="336.60" font-size="7.1" text-anchor="start" fill="#1a1a1a" stroke="#1a1a1a" stroke-width="0.3" stroke-opacity="0.55" transform="rotate(-90 462.34 336.60)">PHB2</text><text x="468.83" y="336.60" font-size="7.1" text-anchor="start" fill="#1a1a1a" stroke="#1a1a1a" stroke-width="0.3" stroke-opacity="0.55" transform="rotate(-90 468.83 336.60)">SH3GLB1</text><text x="475.32" y="336.60" font-size="7.1" text-anchor="start" fill="#1a1a1a" stroke="#1a1a1a" stroke-width="0.3" stroke-opacity="0.55" transform="rotate(-90 475.32 336.60)">PUM1</text><text x="481.81" y="336.60" font-size="7.1" text-anchor="start" fill="#1a1a1a" stroke="#1a1a1a" stroke-width="0.3" stroke-opacity="0.55" transform="rotate(-90 481.81 336.60)">STAT3</text><text x="488.30" y="336.60" font-size="7.1" text-anchor="start" fill="#1a1a1a" stroke="#1a1a1a" stroke-width="0.3" stroke-opacity="0.55" transform="rotate(-90 488.30 336.60)">ASNS</text><rect x="223.20" y="339.80" width="6.54" height="12.15" fill="#f5cbac"/><rect x="229.69" y="339.80" width="6.54" height="12.15" fill="#f5cbac"/><rect x="236.18" y="339.80" width="6.54" height="12.15" fill="#ec8c50"/><rect x="242.67" y="339.80" width="6.54" height="12.15" fill="#ec8c50"/><rect x="249.16" y="339.80" width="6.54" height="12.15" fill="#f5cbac"/><rect x="255.65" y="339.80" width="6.54" height="12.15" fill="#f5cbac"/><rect x="262.14" y="339.80" width="6.54" height="12.15" fill="#f5cbac"/><rect x="268.63" y="339.80" width="6.54" height="12.15" fill="#ec8c50"/><rect x="275.12" y="339.80" width="6.54" height="12.15" fill="#f5cbac"/><rect x="281.61" y="339.80" width="6.54" height="12.15" fill="#ec8c50"/><rect x="288.10" y="339.80" width="6.54" height="12.15" fill="#f5cbac"/><rect x="294.59" y="339.80" width="6.54" height="12.15" fill="#ffffff"/><rect x="301.08" y="339.80" width="6.54" height="12.15" fill="#f5cbac"/><rect x="307.57" y="339.80" width="6.54" height="12.15" fill="#f5cbac"/><rect x="314.06" y="339.80" width="6.54" height="12.15" fill="#ffffff"/><rect x="320.55" y="339.80" width="6.54" height="12.15" fill="#f5cbac"/><rect x="327.04" y="339.80" width="6.54" height="12.15" fill="#f5cbac"/><rect x="333.53" y="339.80" width="6.54" height="12.15" fill="#ec8c50"/><rect x="340.02" y="339.80" width="6.54" height="12.15" fill="#f5cbac"/><rect x="346.51" y="339.80" width="6.54" height="12.15" fill="#ec8c50"/><rect x="353.00" y="339.80" width="6.54" height="12.15" fill="#ec8c50"/><rect x="359.49" y="339.80" width="6.54" height="12.15" fill="#ec8c50"/><rect x="365.98" y="339.80" width="6.54" height="12.15" fill="#ffffff"/><rect x="372.47" y="339.80" width="6.54" height="12.15" fill="#ec8c50"/><rect x="378.96" y="339.80" width="6.54" height="12.15" fill="#f5cbac"/><rect x="385.45" y="339.80" width="6.54" height="12.15" fill="#ec8c50"/><rect x="391.94" y="339.80" width="6.54" height="12.15" fill="#f5cbac"/><rect x="398.43" y="339.80" width="6.54" height="12.15" fill="#f5cbac"/><rect x="404.92" y="339.80" width="6.54" height="12.15" fill="#f5cbac"/><rect x="411.41" y="339.80" width="6.54" height="12.15" fill="#ec8c50"/><rect x="417.90" y="339.80" width="6.54" height="12.15" fill="#9a50d2"/><rect x="424.39" y="339.80" width="6.54" height="12.15" fill="#c8c8c6"/><rect x="430.88" y="339.80" width="6.54" height="12.15" fill="#9a50d2"/><rect x="437.37" y="339.80" width="6.54" height="12.15" fill="#7845c0"/><rect x="443.86" y="339.80" width="6.54" height="12.15" fill="#9a50d2"/><rect x="450.35" y="339.80" width="6.54" height="12.15" fill="#7845c0"/><rect x="456.84" y="339.80" width="6.54" height="12.15" fill="#9a50d2"/><rect x="463.33" y="339.80" width="6.54" height="12.15" fill="#ec8c50"/><rect x="469.82" y="339.80" width="6.54" height="12.15" fill="#f5cbac"/><rect x="476.31" y="339.80" width="6.54" height="12.15" fill="#f5cbac"/><rect x="482.80" y="339.80" width="6.54" height="12.15" fill="#ffffff"/><rect x="223.20" y="351.90" width="6.54" height="12.15" fill="#f5cbac"/><rect x="229.69" y="351.90" width="6.54" height="12.15" fill="#f5cbac"/><rect x="236.18" y="351.90" width="6.54" height="12.15" fill="#ec8c50"/><rect x="242.67" y="351.90" width="6.54" height="12.15" fill="#f5cbac"/><rect x="249.16" y="351.90" width="6.54" height="12.15" fill="#f5cbac"/><rect x="255.65" y="351.90" width="6.54" height="12.15" fill="#ec8c50"/><rect x="262.14" y="351.90" width="6.54" height="12.15" fill="#ec8c50"/><rect x="268.63" y="351.90" width="6.54" height="12.15" fill="#f5cbac"/><rect x="275.12" y="351.90" width="6.54" height="12.15" fill="#f5cbac"/><rect x="281.61" y="351.90" width="6.54" height="12.15" fill="#f5cbac"/><rect x="288.10" y="351.90" width="6.54" height="12.15" fill="#ec8c50"/><rect x="294.59" y="351.90" width="6.54" height="12.15" fill="#ec8c50"/><rect x="301.08" y="351.90" width="6.54" height="12.15" fill="#f5cbac"/><rect x="307.57" y="351.90" width="6.54" height="12.15" fill="#ec8c50"/><rect x="314.06" y="351.90" width="6.54" height="12.15" fill="#ec8c50"/><rect x="320.55" y="351.90" width="6.54" height="12.15" fill="#ffffff"/><rect x="327.04" y="351.90" width="6.54" height="12.15" fill="#ec8c50"/><rect x="333.53" y="351.90" width="6.54" height="12.15" fill="#f5cbac"/><rect x="340.02" y="351.90" width="6.54" height="12.15" fill="#f5cbac"/><rect x="346.51" y="351.90" width="6.54" height="12.15" fill="#f5cbac"/><rect x="353.00" y="351.90" width="6.54" height="12.15" fill="#ec8c50"/><rect x="359.49" y="351.90" width="6.54" height="12.15" fill="#f5cbac"/><rect x="365.98" y="351.90" width="6.54" height="12.15" fill="#f5cbac"/><rect x="372.47" y="351.90" width="6.54" height="12.15" fill="#ffffff"/><rect x="378.96" y="351.90" width="6.54" height="12.15" fill="#ffffff"/><rect x="385.45" y="351.90" width="6.54" height="12.15" fill="#f5cbac"/><rect x="391.94" y="351.90" width="6.54" height="12.15" fill="#f5cbac"/><rect x="398.43" y="351.90" width="6.54" height="12.15" fill="#f5cbac"/><rect x="404.92" y="351.90" width="6.54" height="12.15" fill="#ec8c50"/><rect x="411.41" y="351.90" width="6.54" height="12.15" fill="#ffffff"/><rect x="417.90" y="351.90" width="6.54" height="12.15" fill="#7845c0"/><rect x="424.39" y="351.90" width="6.54" height="12.15" fill="#9a50d2"/><rect x="430.88" y="351.90" width="6.54" height="12.15" fill="#7845c0"/><rect x="437.37" y="351.90" width="6.54" height="12.15" fill="#9a50d2"/><rect x="443.86" y="351.90" width="6.54" height="12.15" fill="#dbb8f0"/><rect x="450.35" y="351.90" width="6.54" height="12.15" fill="#9a50d2"/><rect x="456.84" y="351.90" width="6.54" height="12.15" fill="#7845c0"/><rect x="463.33" y="351.90" width="6.54" height="12.15" fill="#f5cbac"/><rect x="469.82" y="351.90" width="6.54" height="12.15" fill="#ec8c50"/><rect x="476.31" y="351.90" width="6.54" height="12.15" fill="#f5cbac"/><rect x="482.80" y="351.90" width="6.54" height="12.15" fill="#ec8c50"/><rect x="223.20" y="364.00" width="6.54" height="12.15" fill="#f5cbac"/><rect x="229.69" y="364.00" width="6.54" height="12.15" fill="#f5cbac"/><rect x="236.18" y="364.00" width="6.54" height="12.15" fill="#ffffff"/><rect x="242.67" y="364.00" width="6.54" height="12.15" fill="#f5cbac"/><rect x="249.16" y="364.00" width="6.54" height="12.15" fill="#ec8c50"/><rect x="255.65" y="364.00" width="6.54" height="12.15" fill="#ec8c50"/><rect x="262.14" y="364.00" width="6.54" height="12.15" fill="#f5cbac"/><rect x="268.63" y="364.00" width="6.54" height="12.15" fill="#ffffff"/><rect x="275.12" y="364.00" width="6.54" height="12.15" fill="#ec8c50"/><rect x="281.61" y="364.00" width="6.54" height="12.15" fill="#ec8c50"/><rect x="288.10" y="364.00" width="6.54" height="12.15" fill="#f5cbac"/><rect x="294.59" y="364.00" width="6.54" height="12.15" fill="#f5cbac"/><rect x="301.08" y="364.00" width="6.54" height="12.15" fill="#f5cbac"/><rect x="307.57" y="364.00" width="6.54" height="12.15" fill="#ffffff"/><rect x="314.06" y="364.00" width="6.54" height="12.15" fill="#ec8c50"/><rect x="320.55" y="364.00" width="6.54" height="12.15" fill="#ec8c50"/><rect x="327.04" y="364.00" width="6.54" height="12.15" fill="#f5cbac"/><rect x="333.53" y="364.00" width="6.54" height="12.15" fill="#f5cbac"/><rect x="340.02" y="364.00" width="6.54" height="12.15" fill="#f5cbac"/><rect x="346.51" y="364.00" width="6.54" height="12.15" fill="#ffffff"/><rect x="353.00" y="364.00" width="6.54" height="12.15" fill="#ffffff"/><rect x="359.49" y="364.00" width="6.54" height="12.15" fill="#f5cbac"/><rect x="365.98" y="364.00" width="6.54" height="12.15" fill="#ec8c50"/><rect x="372.47" y="364.00" width="6.54" height="12.15" fill="#f5cbac"/><rect x="378.96" y="364.00" width="6.54" height="12.15" fill="#ec8c50"/><rect x="385.45" y="364.00" width="6.54" height="12.15" fill="#f5cbac"/><rect x="391.94" y="364.00" width="6.54" height="12.15" fill="#ec8c50"/><rect x="398.43" y="364.00" width="6.54" height="12.15" fill="#f5cbac"/><rect x="404.92" y="364.00" width="6.54" height="12.15" fill="#f5cbac"/><rect x="411.41" y="364.00" width="6.54" height="12.15" fill="#f5cbac"/><rect x="417.90" y="364.00" width="6.54" height="12.15" fill="#9a50d2"/><rect x="424.39" y="364.00" width="6.54" height="12.15" fill="#7845c0"/><rect x="430.88" y="364.00" width="6.54" height="12.15" fill="#9a50d2"/><rect x="437.37" y="364.00" width="6.54" height="12.15" fill="#dbb8f0"/><rect x="443.86" y="364.00" width="6.54" height="12.15" fill="#7845c0"/><rect x="450.35" y="364.00" width="6.54" height="12.15" fill="#9a50d2"/><rect x="456.84" y="364.00" width="6.54" height="12.15" fill="#9a50d2"/><rect x="463.33" y="364.00" width="6.54" height="12.15" fill="#f5cbac"/><rect x="469.82" y="364.00" width="6.54" height="12.15" fill="#f5cbac"/><rect x="476.31" y="364.00" width="6.54" height="12.15" fill="#f5cbac"/><rect x="482.80" y="364.00" width="6.54" height="12.15" fill="#f5cbac"/><rect x="223.20" y="376.10" width="6.54" height="12.15" fill="#9a50d2"/><rect x="229.69" y="376.10" width="6.54" height="12.15" fill="#9a50d2"/><rect x="236.18" y="376.10" width="6.54" height="12.15" fill="#c8c8c6"/><rect x="242.67" y="376.10" width="6.54" height="12.15" fill="#7845c0"/><rect x="249.16" y="376.10" width="6.54" height="12.15" fill="#7845c0"/><rect x="255.65" y="376.10" width="6.54" height="12.15" fill="#9a50d2"/><rect x="262.14" y="376.10" width="6.54" height="12.15" fill="#7845c0"/><rect x="268.63" y="376.10" width="6.54" height="12.15" fill="#7845c0"/><rect x="275.12" y="376.10" width="6.54" height="12.15" fill="#9a50d2"/><rect x="281.61" y="376.10" width="6.54" height="12.15" fill="#9a50d2"/><rect x="288.10" y="376.10" width="6.54" height="12.15" fill="#9a50d2"/><rect x="294.59" y="376.10" width="6.54" height="12.15" fill="#9a50d2"/><rect x="301.08" y="376.10" width="6.54" height="12.15" fill="#9a50d2"/><rect x="307.57" y="376.10" width="6.54" height="12.15" fill="#9a50d2"/><rect x="314.06" y="376.10" width="6.54" height="12.15" fill="#7845c0"/><rect x="320.55" y="376.10" width="6.54" height="12.15" fill="#dbb8f0"/><rect x="327.04" y="376.10" width="6.54" height="12.15" fill="#7845c0"/><rect x="333.53" y="376.10" width="6.54" height="12.15" fill="#9a50d2"/><rect x="340.02" y="376.10" width="6.54" height="12.15" fill="#dbb8f0"/><rect x="346.51" y="376.10" width="6.54" height="12.15" fill="#9a50d2"/><rect x="353.00" y="376.10" width="6.54" height="12.15" fill="#c8c8c6"/><rect x="359.49" y="376.10" width="6.54" height="12.15" fill="#9a50d2"/><rect x="365.98" y="376.10" width="6.54" height="12.15" fill="#9a50d2"/><rect x="372.47" y="376.10" width="6.54" height="12.15" fill="#7845c0"/><rect x="378.96" y="376.10" width="6.54" height="12.15" fill="#dbb8f0"/><rect x="385.45" y="376.10" width="6.54" height="12.15" fill="#9a50d2"/><rect x="391.94" y="376.10" width="6.54" height="12.15" fill="#9a50d2"/><rect x="398.43" y="376.10" width="6.54" height="12.15" fill="#9a50d2"/><rect x="404.92" y="376.10" width="6.54" height="12.15" fill="#7845c0"/><rect x="411.41" y="376.10" width="6.54" height="12.15" fill="#dbb8f0"/><rect x="417.90" y="376.10" width="6.54" height="12.15" fill="#f5cbac"/><rect x="424.39" y="376.10" width="6.54" height="12.15" fill="#f5cbac"/><rect x="430.88" y="376.10" width="6.54" height="12.15" fill="#f5cbac"/><rect x="437.37" y="376.10" width="6.54" height="12.15" fill="#ffffff"/><rect x="443.86" y="376.10" width="6.54" height="12.15" fill="#f5cbac"/><rect x="450.35" y="376.10" width="6.54" height="12.15" fill="#f5cbac"/><rect x="456.84" y="376.10" width="6.54" height="12.15" fill="#ec8c50"/><rect x="463.33" y="376.10" width="6.54" height="12.15" fill="#dbb8f0"/><rect x="469.82" y="376.10" width="6.54" height="12.15" fill="#7845c0"/><rect x="476.31" y="376.10" width="6.54" height="12.15" fill="#dbb8f0"/><rect x="482.80" y="376.10" width="6.54" height="12.15" fill="#c8c8c6"/><rect x="223.20" y="388.20" width="6.54" height="12.15" fill="#c8c8c6"/><rect x="229.69" y="388.20" width="6.54" height="12.15" fill="#7845c0"/><rect x="236.18" y="388.20" width="6.54" height="12.15" fill="#7845c0"/><rect x="242.67" y="388.20" width="6.54" height="12.15" fill="#9a50d2"/><rect x="249.16" y="388.20" width="6.54" height="12.15" fill="#7845c0"/><rect x="255.65" y="388.20" width="6.54" height="12.15" fill="#c8c8c6"/><rect x="262.14" y="388.20" width="6.54" height="12.15" fill="#dbb8f0"/><rect x="268.63" y="388.20" width="6.54" height="12.15" fill="#dbb8f0"/><rect x="275.12" y="388.20" width="6.54" height="12.15" fill="#9a50d2"/><rect x="281.61" y="388.20" width="6.54" height="12.15" fill="#7845c0"/><rect x="288.10" y="388.20" width="6.54" height="12.15" fill="#9a50d2"/><rect x="294.59" y="388.20" width="6.54" height="12.15" fill="#7845c0"/><rect x="301.08" y="388.20" width="6.54" height="12.15" fill="#7845c0"/><rect x="307.57" y="388.20" width="6.54" height="12.15" fill="#c8c8c6"/><rect x="314.06" y="388.20" width="6.54" height="12.15" fill="#dbb8f0"/><rect x="320.55" y="388.20" width="6.54" height="12.15" fill="#9a50d2"/><rect x="327.04" y="388.20" width="6.54" height="12.15" fill="#7845c0"/><rect x="333.53" y="388.20" width="6.54" height="12.15" fill="#9a50d2"/><rect x="340.02" y="388.20" width="6.54" height="12.15" fill="#7845c0"/><rect x="346.51" y="388.20" width="6.54" height="12.15" fill="#7845c0"/><rect x="353.00" y="388.20" width="6.54" height="12.15" fill="#9a50d2"/><rect x="359.49" y="388.20" width="6.54" height="12.15" fill="#7845c0"/><rect x="365.98" y="388.20" width="6.54" height="12.15" fill="#c8c8c6"/><rect x="372.47" y="388.20" width="6.54" height="12.15" fill="#9a50d2"/><rect x="378.96" y="388.20" width="6.54" height="12.15" fill="#7845c0"/><rect x="385.45" y="388.20" width="6.54" height="12.15" fill="#9a50d2"/><rect x="391.94" y="388.20" width="6.54" height="12.15" fill="#9a50d2"/><rect x="398.43" y="388.20" width="6.54" height="12.15" fill="#9a50d2"/><rect x="404.92" y="388.20" width="6.54" height="12.15" fill="#9a50d2"/><rect x="411.41" y="388.20" width="6.54" height="12.15" fill="#7845c0"/><rect x="417.90" y="388.20" width="6.54" height="12.15" fill="#ec8c50"/><rect x="424.39" y="388.20" width="6.54" height="12.15" fill="#ec8c50"/><rect x="430.88" y="388.20" width="6.54" height="12.15" fill="#f5cbac"/><rect x="437.37" y="388.20" width="6.54" height="12.15" fill="#ec8c50"/><rect x="443.86" y="388.20" width="6.54" height="12.15" fill="#ec8c50"/><rect x="450.35" y="388.20" width="6.54" height="12.15" fill="#ec8c50"/><rect x="456.84" y="388.20" width="6.54" height="12.15" fill="#f5cbac"/><rect x="463.33" y="388.20" width="6.54" height="12.15" fill="#9a50d2"/><rect x="469.82" y="388.20" width="6.54" height="12.15" fill="#7845c0"/><rect x="476.31" y="388.20" width="6.54" height="12.15" fill="#9a50d2"/><rect x="482.80" y="388.20" width="6.54" height="12.15" fill="#9a50d2"/><rect x="223.20" y="400.30" width="6.54" height="12.15" fill="#7845c0"/><rect x="229.69" y="400.30" width="6.54" height="12.15" fill="#9a50d2"/><rect x="236.18" y="400.30" width="6.54" height="12.15" fill="#dbb8f0"/><rect x="242.67" y="400.30" width="6.54" height="12.15" fill="#9a50d2"/><rect x="249.16" y="400.30" width="6.54" height="12.15" fill="#ffffff"/><rect x="255.65" y="400.30" width="6.54" height="12.15" fill="#c8c8c6"/><rect x="262.14" y="400.30" width="6.54" height="12.15" fill="#9a50d2"/><rect x="268.63" y="400.30" width="6.54" height="12.15" fill="#7845c0"/><rect x="275.12" y="400.30" width="6.54" height="12.15" fill="#7845c0"/><rect x="281.61" y="400.30" width="6.54" height="12.15" fill="#9a50d2"/><rect x="288.10" y="400.30" width="6.54" height="12.15" fill="#9a50d2"/><rect x="294.59" y="400.30" width="6.54" height="12.15" fill="#9a50d2"/><rect x="301.08" y="400.30" width="6.54" height="12.15" fill="#9a50d2"/><rect x="307.57" y="400.30" width="6.54" height="12.15" fill="#9a50d2"/><rect x="314.06" y="400.30" width="6.54" height="12.15" fill="#dbb8f0"/><rect x="320.55" y="400.30" width="6.54" height="12.15" fill="#7845c0"/><rect x="327.04" y="400.30" width="6.54" height="12.15" fill="#dbb8f0"/><rect x="333.53" y="400.30" width="6.54" height="12.15" fill="#7845c0"/><rect x="340.02" y="400.30" width="6.54" height="12.15" fill="#9a50d2"/><rect x="346.51" y="400.30" width="6.54" height="12.15" fill="#dbb8f0"/><rect x="353.00" y="400.30" width="6.54" height="12.15" fill="#c8c8c6"/><rect x="359.49" y="400.30" width="6.54" height="12.15" fill="#dbb8f0"/><rect x="365.98" y="400.30" width="6.54" height="12.15" fill="#9a50d2"/><rect x="372.47" y="400.30" width="6.54" height="12.15" fill="#9a50d2"/><rect x="378.96" y="400.30" width="6.54" height="12.15" fill="#c8c8c6"/><rect x="385.45" y="400.30" width="6.54" height="12.15" fill="#7845c0"/><rect x="391.94" y="400.30" width="6.54" height="12.15" fill="#9a50d2"/><rect x="398.43" y="400.30" width="6.54" height="12.15" fill="#9a50d2"/><rect x="404.92" y="400.30" width="6.54" height="12.15" fill="#c8c8c6"/><rect x="411.41" y="400.30" width="6.54" height="12.15" fill="#c8c8c6"/><rect x="417.90" y="400.30" width="6.54" height="12.15" fill="#f5cbac"/><rect x="424.39" y="400.30" width="6.54" height="12.15" fill="#f5cbac"/><rect x="430.88" y="400.30" width="6.54" height="12.15" fill="#f5cbac"/><rect x="437.37" y="400.30" width="6.54" height="12.15" fill="#f5cbac"/><rect x="443.86" y="400.30" width="6.54" height="12.15" fill="#f5cbac"/><rect x="450.35" y="400.30" width="6.54" height="12.15" fill="#f5cbac"/><rect x="456.84" y="400.30" width="6.54" height="12.15" fill="#f5cbac"/><rect x="463.33" y="400.30" width="6.54" height="12.15" fill="#7845c0"/><rect x="469.82" y="400.30" width="6.54" height="12.15" fill="#dbb8f0"/><rect x="476.31" y="400.30" width="6.54" height="12.15" fill="#7845c0"/><rect x="482.80" y="400.30" width="6.54" height="12.15" fill="#c8c8c6"/><line x1="229.69" y1="339.80" x2="229.69" y2="412.40" stroke="rgba(255,255,255,0.33)" stroke-width="0.8"/><line x1="236.18" y1="339.80" x2="236.18" y2="412.40" stroke="rgba(255,255,255,0.33)" stroke-width="0.8"/><line x1="242.67" y1="339.80" x2="242.67" y2="412.40" stroke="rgba(255,255,255,0.33)" stroke-width="0.8"/><line x1="249.16" y1="339.80" x2="249.16" y2="412.40" stroke="rgba(255,255,255,0.33)" stroke-width="0.8"/><line x1="255.65" y1="339.80" x2="255.65" y2="412.40" stroke="rgba(255,255,255,0.33)" stroke-width="0.8"/><line x1="262.14" y1="339.80" x2="262.14" y2="412.40" stroke="rgba(255,255,255,0.33)" stroke-width="0.8"/><line x1="268.63" y1="339.80" x2="268.63" y2="412.40" stroke="rgba(255,255,255,0.33)" stroke-width="0.8"/><line x1="275.12" y1="339.80" x2="275.12" y2="412.40" stroke="rgba(255,255,255,0.33)" stroke-width="0.8"/><line x1="281.61" y1="339.80" x2="281.61" y2="412.40" stroke="rgba(255,255,255,0.33)" stroke-width="0.8"/><line x1="288.10" y1="339.80" x2="288.10" y2="412.40" stroke="rgba(255,255,255,0.33)" stroke-width="0.8"/><line x1="294.59" y1="339.80" x2="294.59" y2="412.40" stroke="rgba(255,255,255,0.33)" stroke-width="0.8"/><line x1="301.08" y1="339.80" x2="301.08" y2="412.40" stroke="rgba(255,255,255,0.33)" stroke-width="0.8"/><line x1="307.57" y1="339.80" x2="307.57" y2="412.40" stroke="rgba(255,255,255,0.33)" stroke-width="0.8"/><line x1="314.06" y1="339.80" x2="314.06" y2="412.40" stroke="rgba(255,255,255,0.33)" stroke-width="0.8"/><line x1="320.55" y1="339.80" x2="320.55" y2="412.40" stroke="rgba(255,255,255,0.33)" stroke-width="0.8"/><line x1="327.04" y1="339.80" x2="327.04" y2="412.40" stroke="rgba(255,255,255,0.33)" stroke-width="0.8"/><line x1="333.53" y1="339.80" x2="333.53" y2="412.40" stroke="rgba(255,255,255,0.33)" stroke-width="0.8"/><line x1="340.02" y1="339.80" x2="340.02" y2="412.40" stroke="rgba(255,255,255,0.33)" stroke-width="0.8"/><line x1="346.51" y1="339.80" x2="346.51" y2="412.40" stroke="rgba(255,255,255,0.33)" stroke-width="0.8"/><line x1="353.00" y1="339.80" x2="353.00" y2="412.40" stroke="rgba(255,255,255,0.33)" stroke-width="0.8"/><line x1="359.49" y1="339.80" x2="359.49" y2="412.40" stroke="rgba(255,255,255,0.33)" stroke-width="0.8"/><line x1="365.98" y1="339.80" x2="365.98" y2="412.40" stroke="rgba(255,255,255,0.33)" stroke-width="0.8"/><line x1="372.47" y1="339.80" x2="372.47" y2="412.40" stroke="rgba(255,255,255,0.33)" stroke-width="0.8"/><line x1="378.96" y1="339.80" x2="378.96" y2="412.40" stroke="rgba(255,255,255,0.33)" stroke-width="0.8"/><line x1="385.45" y1="339.80" x2="385.45" y2="412.40" stroke="rgba(255,255,255,0.33)" stroke-width="0.8"/><line x1="391.94" y1="339.80" x2="391.94" y2="412.40" stroke="rgba(255,255,255,0.33)" stroke-width="0.8"/><line x1="398.43" y1="339.80" x2="398.43" y2="412.40" stroke="rgba(255,255,255,0.33)" stroke-width="0.8"/><line x1="404.92" y1="339.80" x2="404.92" y2="412.40" stroke="rgba(255,255,255,0.33)" stroke-width="0.8"/><line x1="411.41" y1="339.80" x2="411.41" y2="412.40" stroke="rgba(255,255,255,0.33)" stroke-width="0.8"/><line x1="417.90" y1="339.80" x2="417.90" y2="412.40" stroke="rgba(255,255,255,0.33)" stroke-width="0.8"/><line x1="424.39" y1="339.80" x2="424.39" y2="412.40" stroke="rgba(255,255,255,0.33)" stroke-width="0.8"/><line x1="430.88" y1="339.80" x2="430.88" y2="412.40" stroke="rgba(255,255,255,0.33)" stroke-width="0.8"/><line x1="437.37" y1="339.80" x2="437.37" y2="412.40" stroke="rgba(255,255,255,0.33)" stroke-width="0.8"/><line x1="443.86" y1="339.80" x2="443.86" y2="412.40" stroke="rgba(255,255,255,0.33)" stroke-width="0.8"/><line x1="450.35" y1="339.80" x2="450.35" y2="412.40" stroke="rgba(255,255,255,0.33)" stroke-width="0.8"/><line x1="456.84" y1="339.80" x2="456.84" y2="412.40" stroke="rgba(255,255,255,0.33)" stroke-width="0.8"/><line x1="463.33" y1="339.80" x2="463.33" y2="412.40" stroke="rgba(255,255,255,0.33)" stroke-width="0.8"/><line x1="469.82" y1="339.80" x2="469.82" y2="412.40" stroke="rgba(255,255,255,0.33)" stroke-width="0.8"/><line x1="476.31" y1="339.80" x2="476.31" y2="412.40" stroke="rgba(255,255,255,0.33)" stroke-width="0.8"/><line x1="482.80" y1="339.80" x2="482.80" y2="412.40" stroke="rgba(255,255,255,0.33)" stroke-width="0.8"/><line x1="223.20" y1="351.90" x2="489.29" y2="351.90" stroke="rgba(255,255,255,0.33)" stroke-width="0.8"/><line x1="223.20" y1="364.00" x2="489.29" y2="364.00" stroke="rgba(255,255,255,0.33)" stroke-width="0.8"/><line x1="223.20" y1="376.10" x2="489.29" y2="376.10" stroke="rgba(255,255,255,0.33)" stroke-width="0.8"/><line x1="223.20" y1="388.20" x2="489.29" y2="388.20" stroke="rgba(255,255,255,0.33)" stroke-width="0.8"/><line x1="223.20" y1="400.30" x2="489.29" y2="400.30" stroke="rgba(255,255,255,0.33)" stroke-width="0.8"/><rect x="222.50" y="338.90" width="267.49" height="74.40" fill="none" stroke="#111" stroke-width="1.45"/><text x="202.40" y="379.60" font-size="9.35" text-anchor="middle" font-weight="bold" fill="#111" transform="rotate(-90 202.40 379.60)">SU-DIPGXIII</text><text x="216.50" y="357.10" font-size="9.3" text-anchor="middle" fill="#1a1a1a" stroke="#1a1a1a" stroke-width="0.3" stroke-opacity="0.55" transform="rotate(-90 216.50 357.10)">DMSO</text><text x="216.50" y="393.80" font-size="9.3" text-anchor="middle" fill="#1a1a1a" stroke="#1a1a1a" stroke-width="0.3" stroke-opacity="0.55" transform="rotate(-90 216.50 393.80)">FB232</text><rect x="223.20" y="424.90" width="6.54" height="10.95" fill="#4b4db5"/><rect x="229.69" y="424.90" width="6.54" height="10.95" fill="#4b4db5"/><rect x="236.18" y="424.90" width="6.54" height="10.95" fill="#6858bc"/><rect x="242.67" y="424.90" width="6.54" height="10.95" fill="#4646b0"/><rect x="249.16" y="424.90" width="6.54" height="10.95" fill="#8a7ad2"/><rect x="255.65" y="424.90" width="6.54" height="10.95" fill="#4646b0"/><rect x="262.14" y="424.90" width="6.54" height="10.95" fill="#c2b5ea"/><rect x="268.63" y="424.90" width="6.54" height="10.95" fill="#8a7ad2"/><rect x="275.12" y="424.90" width="6.54" height="10.95" fill="#8a7ad2"/><rect x="281.61" y="424.90" width="6.54" height="10.95" fill="#8a7ad2"/><rect x="288.10" y="424.90" width="6.54" height="10.95" fill="#8a7ad2"/><rect x="294.59" y="424.90" width="6.54" height="10.95" fill="#c2b5ea"/><rect x="301.08" y="424.90" width="6.54" height="10.95" fill="#8a7ad2"/><rect x="307.57" y="424.90" width="6.54" height="10.95" fill="#4646b0"/><rect x="314.06" y="424.90" width="6.54" height="10.95" fill="#8a7ad2"/><rect x="320.55" y="424.90" width="6.54" height="10.95" fill="#4646b0"/><rect x="327.04" y="424.90" width="6.54" height="10.95" fill="#6858bc"/><rect x="333.53" y="424.90" width="6.54" height="10.95" fill="#c2b5ea"/><rect x="340.02" y="424.90" width="6.54" height="10.95" fill="#8a7ad2"/><rect x="346.51" y="424.90" width="6.54" height="10.95" fill="#8a7ad2"/><rect x="353.00" y="424.90" width="6.54" height="10.95" fill="#6858bc"/><rect x="359.49" y="424.90" width="6.54" height="10.95" fill="#c2b5ea"/><rect x="365.98" y="424.90" width="6.54" height="10.95" fill="#4646b0"/><rect x="372.47" y="424.90" width="6.54" height="10.95" fill="#8a7ad2"/><rect x="378.96" y="424.90" width="6.54" height="10.95" fill="#8a7ad2"/><rect x="385.45" y="424.90" width="6.54" height="10.95" fill="#c2b5ea"/><rect x="391.94" y="424.90" width="6.54" height="10.95" fill="#c2b5ea"/><rect x="398.43" y="424.90" width="6.54" height="10.95" fill="#c2b5ea"/><rect x="404.92" y="424.90" width="6.54" height="10.95" fill="#6858bc"/><rect x="411.41" y="424.90" width="6.54" height="10.95" fill="#6858bc"/><rect x="417.90" y="424.90" width="6.54" height="10.95" fill="#fcdde2"/><rect x="424.39" y="424.90" width="6.54" height="10.95" fill="#f6b4bc"/><rect x="430.88" y="424.90" width="6.54" height="10.95" fill="#f6b4bc"/><rect x="437.37" y="424.90" width="6.54" height="10.95" fill="#fcdde2"/><rect x="443.86" y="424.90" width="6.54" height="10.95" fill="#f6b4bc"/><rect x="450.35" y="424.90" width="6.54" height="10.95" fill="#f6b4bc"/><rect x="456.84" y="424.90" width="6.54" height="10.95" fill="#fcdde2"/><rect x="463.33" y="424.90" width="6.54" height="10.95" fill="#4646b0"/><rect x="469.82" y="424.90" width="6.54" height="10.95" fill="#8a7ad2"/><rect x="476.31" y="424.90" width="6.54" height="10.95" fill="#4646b0"/><rect x="482.80" y="424.90" width="6.54" height="10.95" fill="#8a7ad2"/><rect x="223.20" y="435.80" width="6.54" height="10.95" fill="#6a5cc4"/><rect x="229.69" y="435.80" width="6.54" height="10.95" fill="#6a5cc4"/><rect x="236.18" y="435.80" width="6.54" height="10.95" fill="#6a5cc4"/><rect x="242.67" y="435.80" width="6.54" height="10.95" fill="#8a7ad2"/><rect x="249.16" y="435.80" width="6.54" height="10.95" fill="#8a7ad2"/><rect x="255.65" y="435.80" width="6.54" height="10.95" fill="#8a7ad2"/><rect x="262.14" y="435.80" width="6.54" height="10.95" fill="#8a7ad2"/><rect x="268.63" y="435.80" width="6.54" height="10.95" fill="#8a7ad2"/><rect x="275.12" y="435.80" width="6.54" height="10.95" fill="#8a7ad2"/><rect x="281.61" y="435.80" width="6.54" height="10.95" fill="#8a7ad2"/><rect x="288.10" y="435.80" width="6.54" height="10.95" fill="#8a7ad2"/><rect x="294.59" y="435.80" width="6.54" height="10.95" fill="#c2b5ea"/><rect x="301.08" y="435.80" width="6.54" height="10.95" fill="#c2b5ea"/><rect x="307.57" y="435.80" width="6.54" height="10.95" fill="#c2b5ea"/><rect x="314.06" y="435.80" width="6.54" height="10.95" fill="#c2b5ea"/><rect x="320.55" y="435.80" width="6.54" height="10.95" fill="#c2b5ea"/><rect x="327.04" y="435.80" width="6.54" height="10.95" fill="#c2b5ea"/><rect x="333.53" y="435.80" width="6.54" height="10.95" fill="#c2b5ea"/><rect x="340.02" y="435.80" width="6.54" height="10.95" fill="#c2b5ea"/><rect x="346.51" y="435.80" width="6.54" height="10.95" fill="#c2b5ea"/><rect x="353.00" y="435.80" width="6.54" height="10.95" fill="#e2def5"/><rect x="359.49" y="435.80" width="6.54" height="10.95" fill="#e2def5"/><rect x="365.98" y="435.80" width="6.54" height="10.95" fill="#e2def5"/><rect x="372.47" y="435.80" width="6.54" height="10.95" fill="#e2def5"/><rect x="378.96" y="435.80" width="6.54" height="10.95" fill="#e2def5"/><rect x="385.45" y="435.80" width="6.54" height="10.95" fill="#e2def5"/><rect x="391.94" y="435.80" width="6.54" height="10.95" fill="#e2def5"/><rect x="398.43" y="435.80" width="6.54" height="10.95" fill="#e2def5"/><rect x="404.92" y="435.80" width="6.54" height="10.95" fill="#e2def5"/><rect x="411.41" y="435.80" width="6.54" height="10.95" fill="#e2def5"/><rect x="417.90" y="435.80" width="6.54" height="10.95" fill="#ffffff"/><rect x="424.39" y="435.80" width="6.54" height="10.95" fill="#ffffff"/><rect x="430.88" y="435.80" width="6.54" height="10.95" fill="#c2b5ea"/><rect x="437.37" y="435.80" width="6.54" height="10.95" fill="#e2def5"/><rect x="443.86" y="435.80" width="6.54" height="10.95" fill="#c2b5ea"/><rect x="450.35" y="435.80" width="6.54" height="10.95" fill="#c2b5ea"/><rect x="456.84" y="435.80" width="6.54" height="10.95" fill="#c2b5ea"/><rect x="463.33" y="435.80" width="6.54" height="10.95" fill="#ffffff"/><rect x="469.82" y="435.80" width="6.54" height="10.95" fill="#fcdde2"/><rect x="476.31" y="435.80" width="6.54" height="10.95" fill="#fcdde2"/><rect x="482.80" y="435.80" width="6.54" height="10.95" fill="#e6321f"/><line x1="229.69" y1="424.90" x2="229.69" y2="446.70" stroke="rgba(255,255,255,0.3)" stroke-width="0.8"/><line x1="236.18" y1="424.90" x2="236.18" y2="446.70" stroke="rgba(255,255,255,0.3)" stroke-width="0.8"/><line x1="242.67" y1="424.90" x2="242.67" y2="446.70" stroke="rgba(255,255,255,0.3)" stroke-width="0.8"/><line x1="249.16" y1="424.90" x2="249.16" y2="446.70" stroke="rgba(255,255,255,0.3)" stroke-width="0.8"/><line x1="255.65" y1="424.90" x2="255.65" y2="446.70" stroke="rgba(255,255,255,0.3)" stroke-width="0.8"/><line x1="262.14" y1="424.90" x2="262.14" y2="446.70" stroke="rgba(255,255,255,0.3)" stroke-width="0.8"/><line x1="268.63" y1="424.90" x2="268.63" y2="446.70" stroke="rgba(255,255,255,0.3)" stroke-width="0.8"/><line x1="275.12" y1="424.90" x2="275.12" y2="446.70" stroke="rgba(255,255,255,0.3)" stroke-width="0.8"/><line x1="281.61" y1="424.90" x2="281.61" y2="446.70" stroke="rgba(255,255,255,0.3)" stroke-width="0.8"/><line x1="288.10" y1="424.90" x2="288.10" y2="446.70" stroke="rgba(255,255,255,0.3)" stroke-width="0.8"/><line x1="294.59" y1="424.90" x2="294.59" y2="446.70" stroke="rgba(255,255,255,0.3)" stroke-width="0.8"/><line x1="301.08" y1="424.90" x2="301.08" y2="446.70" stroke="rgba(255,255,255,0.3)" stroke-width="0.8"/><line x1="307.57" y1="424.90" x2="307.57" y2="446.70" stroke="rgba(255,255,255,0.3)" stroke-width="0.8"/><line x1="314.06" y1="424.90" x2="314.06" y2="446.70" stroke="rgba(255,255,255,0.3)" stroke-width="0.8"/><line x1="320.55" y1="424.90" x2="320.55" y2="446.70" stroke="rgba(255,255,255,0.3)" stroke-width="0.8"/><line x1="327.04" y1="424.90" x2="327.04" y2="446.70" stroke="rgba(255,255,255,0.3)" stroke-width="0.8"/><line x1="333.53" y1="424.90" x2="333.53" y2="446.70" stroke="rgba(255,255,255,0.3)" stroke-width="0.8"/><line x1="340.02" y1="424.90" x2="340.02" y2="446.70" stroke="rgba(255,255,255,0.3)" stroke-width="0.8"/><line x1="346.51" y1="424.90" x2="346.51" y2="446.70" stroke="rgba(255,255,255,0.3)" stroke-width="0.8"/><line x1="353.00" y1="424.90" x2="353.00" y2="446.70" stroke="rgba(255,255,255,0.3)" stroke-width="0.8"/><line x1="359.49" y1="424.90" x2="359.49" y2="446.70" stroke="rgba(255,255,255,0.3)" stroke-width="0.8"/><line x1="365.98" y1="424.90" x2="365.98" y2="446.70" stroke="rgba(255,255,255,0.3)" stroke-width="0.8"/><line x1="372.47" y1="424.90" x2="372.47" y2="446.70" stroke="rgba(255,255,255,0.3)" stroke-width="0.8"/><line x1="378.96" y1="424.90" x2="378.96" y2="446.70" stroke="rgba(255,255,255,0.3)" stroke-width="0.8"/><line x1="385.45" y1="424.90" x2="385.45" y2="446.70" stroke="rgba(255,255,255,0.3)" stroke-width="0.8"/><line x1="391.94" y1="424.90" x2="391.94" y2="446.70" stroke="rgba(255,255,255,0.3)" stroke-width="0.8"/><line x1="398.43" y1="424.90" x2="398.43" y2="446.70" stroke="rgba(255,255,255,0.3)" stroke-width="0.8"/><line x1="404.92" y1="424.90" x2="404.92" y2="446.70" stroke="rgba(255,255,255,0.3)" stroke-width="0.8"/><line x1="411.41" y1="424.90" x2="411.41" y2="446.70" stroke="rgba(255,255,255,0.3)" stroke-width="0.8"/><line x1="417.90" y1="424.90" x2="417.90" y2="446.70" stroke="rgba(255,255,255,0.3)" stroke-width="0.8"/><line x1="424.39" y1="424.90" x2="424.39" y2="446.70" stroke="rgba(255,255,255,0.3)" stroke-width="0.8"/><line x1="430.88" y1="424.90" x2="430.88" y2="446.70" stroke="rgba(255,255,255,0.3)" stroke-width="0.8"/><line x1="437.37" y1="424.90" x2="437.37" y2="446.70" stroke="rgba(255,255,255,0.3)" stroke-width="0.8"/><line x1="443.86" y1="424.90" x2="443.86" y2="446.70" stroke="rgba(255,255,255,0.3)" stroke-width="0.8"/><line x1="450.35" y1="424.90" x2="450.35" y2="446.70" stroke="rgba(255,255,255,0.3)" stroke-width="0.8"/><line x1="456.84" y1="424.90" x2="456.84" y2="446.70" stroke="rgba(255,255,255,0.3)" stroke-width="0.8"/><line x1="463.33" y1="424.90" x2="463.33" y2="446.70" stroke="rgba(255,255,255,0.3)" stroke-width="0.8"/><line x1="469.82" y1="424.90" x2="469.82" y2="446.70" stroke="rgba(255,255,255,0.3)" stroke-width="0.8"/><line x1="476.31" y1="424.90" x2="476.31" y2="446.70" stroke="rgba(255,255,255,0.3)" stroke-width="0.8"/><line x1="482.80" y1="424.90" x2="482.80" y2="446.70" stroke="rgba(255,255,255,0.3)" stroke-width="0.8"/><line x1="223.20" y1="435.80" x2="489.29" y2="435.80" stroke="rgba(255,255,255,0.3)" stroke-width="0.8"/><rect x="222.50" y="424.30" width="267.49" height="23.00" fill="none" stroke="#111" stroke-width="1.4"/><text x="218.60" y="432.60" font-size="7.1" text-anchor="end" fill="#1a1a1a" stroke="#1a1a1a" stroke-width="0.3" stroke-opacity="0.55">Mass-Spec</text><text x="219.90" y="444.00" font-size="7.1" text-anchor="end" fill="#1a1a1a" stroke="#1a1a1a" stroke-width="0.3" stroke-opacity="0.55">RNA-Seq</text><text x="267.10" y="459.90" font-size="7.1" text-anchor="start" fill="#1a1a1a" stroke="#1a1a1a" stroke-width="0.3" stroke-opacity="0.55">Zscore</text><rect x="251.10" y="464.00" width="10.60" height="10.80" fill="#7845c0"/><rect x="261.60" y="464.00" width="11.00" height="10.80" fill="#9a50d2"/><rect x="272.50" y="464.00" width="10.70" height="10.80" fill="#dbb8f0"/><rect x="294.00" y="464.00" width="10.90" height="10.80" fill="#f5cbac"/><rect x="304.80" y="464.00" width="11.10" height="10.80" fill="#ec8c50"/><text x="248.80" y="483.90" font-size="7.1" text-anchor="middle" fill="#1a1a1a" stroke="#1a1a1a" stroke-width="0.3" stroke-opacity="0.55">-1.5</text><text x="282.50" y="483.90" font-size="7.1" text-anchor="middle" fill="#1a1a1a" stroke="#1a1a1a" stroke-width="0.3" stroke-opacity="0.55">0</text><text x="315.70" y="483.90" font-size="7.1" text-anchor="middle" fill="#1a1a1a" stroke="#1a1a1a" stroke-width="0.3" stroke-opacity="0.55">1.5</text><text x="370.10" y="459.90" font-size="7.2" text-anchor="start" fill="#1a1a1a" stroke="#1a1a1a" stroke-width="0.3" stroke-opacity="0.55">log2(FC)</text><rect x="355.00" y="463.10" width="5.50" height="10.80" fill="#4245ae"/><rect x="360.30" y="463.10" width="5.50" height="10.80" fill="#4a4bb2"/><rect x="365.50" y="463.10" width="5.50" height="10.80" fill="#6558bc"/><rect x="370.70" y="463.10" width="5.50" height="10.80" fill="#bdb3ea"/><rect x="376.20" y="463.10" width="5.50" height="10.80" fill="#e0dcf5"/><rect x="392.70" y="463.10" width="5.60" height="10.80" fill="#fcdde2"/><rect x="398.20" y="463.10" width="5.60" height="10.80" fill="#f6b4bc"/><rect x="403.70" y="463.10" width="5.60" height="10.80" fill="#f28b88"/><rect x="409.20" y="463.10" width="5.60" height="10.80" fill="#ee6355"/><rect x="414.70" y="463.10" width="5.60" height="10.80" fill="#e6321f"/><text x="354.10" y="481.10" font-size="7.0" text-anchor="middle" fill="#1a1a1a" stroke="#1a1a1a" stroke-width="0.3" stroke-opacity="0.55">-3</text><text x="364.60" y="481.10" font-size="7.0" text-anchor="middle" fill="#1a1a1a" stroke="#1a1a1a" stroke-width="0.3" stroke-opacity="0.55">−2</text><text x="374.80" y="481.10" font-size="7.0" text-anchor="middle" fill="#1a1a1a" stroke="#1a1a1a" stroke-width="0.3" stroke-opacity="0.55">−1</text><text x="386.90" y="481.10" font-size="7.0" text-anchor="middle" fill="#1a1a1a" stroke="#1a1a1a" stroke-width="0.3" stroke-opacity="0.55">0</text><text x="398.40" y="481.10" font-size="7.0" text-anchor="middle" fill="#1a1a1a" stroke="#1a1a1a" stroke-width="0.3" stroke-opacity="0.55">1</text><text x="410.00" y="481.10" font-size="7.0" text-anchor="middle" fill="#1a1a1a" stroke="#1a1a1a" stroke-width="0.3" stroke-opacity="0.55">2</text><text x="419.90" y="481.10" font-size="7.0" text-anchor="middle" fill="#1a1a1a" stroke="#1a1a1a" stroke-width="0.3" stroke-opacity="0.55">3</text><rect x="438.10" y="468.00" width="7.70" height="8.60" fill="#c8c8c8"/><text x="450.50" y="476.40" font-size="7.0" text-anchor="start" fill="#1a1a1a" stroke="#1a1a1a" stroke-width="0.3" stroke-opacity="0.55">Undetected</text><text x="510.90" y="296.00" font-size="19.5" text-anchor="start" font-weight="bold" fill="#111" stroke="#111" stroke-width="0.45" transform="translate(510.9 296) scale(0.76 1) translate(-510.9 -296)">E</text><text x="568.70" y="316.20" font-size="9.1" text-anchor="start" fill="#111" stroke="#111" stroke-width="0.3" stroke-opacity="0.55" transform="rotate(-90 568.70 316.20)">DMSO</text><text x="592.00" y="316.20" font-size="9.1" text-anchor="start" fill="#111" stroke="#111" stroke-width="0.3" stroke-opacity="0.55" transform="rotate(-90 592.00 316.20)">FB23-2</text><text x="611.00" y="316.20" font-size="9.1" text-anchor="start" fill="#111" stroke="#111" stroke-width="0.3" stroke-opacity="0.55" transform="rotate(-90 611.00 316.20)">DMSO</text><text x="630.50" y="316.20" font-size="9.1" text-anchor="start" fill="#111" stroke="#111" stroke-width="0.3" stroke-opacity="0.55" transform="rotate(-90 630.50 316.20)">FB23-2</text><text x="649.00" y="316.20" font-size="9.1" text-anchor="start" fill="#111" stroke="#111" stroke-width="0.3" stroke-opacity="0.55" transform="rotate(-90 649.00 316.20)">DMSO</text><text x="670.40" y="316.20" font-size="9.1" text-anchor="start" fill="#111" stroke="#111" stroke-width="0.3" stroke-opacity="0.55" transform="rotate(-90 670.40 316.20)">FB23-2</text><defs><filter id="bl1" x="-30%" y="-80%" width="160%" height="260%"><feGaussianBlur stdDeviation="0.9 1.0"/></filter><filter id="bl2" x="-30%" y="-80%" width="160%" height="260%"><feGaussianBlur stdDeviation="1.4 1.2"/></filter><filter id="bl0" x="-10%" y="-10%" width="120%" height="120%"><feGaussianBlur stdDeviation="0.5"/></filter></defs><rect x="557.9" y="319.0" width="118.20" height="14.60" fill="#f8f8f8" filter="url(#bl0)"/><rect x="560.50" y="323.70" width="17.10" height="7.20" rx="2.2" fill="#050505" filter="url(#bl1)"/><rect x="580.50" y="325.20" width="15.20" height="5.10" rx="1.5" fill="#858585" filter="url(#bl1)"/><rect x="598.80" y="325.00" width="15.60" height="6.00" rx="1.5" fill="#3a3a3a" filter="url(#bl1)"/><rect x="617.80" y="324.80" width="14.80" height="4.60" rx="1.5" fill="#8e8e8e" filter="url(#bl1)"/><rect x="637.00" y="323.20" width="15.40" height="5.10" rx="1.5" fill="#3e3e3e" filter="url(#bl1)"/><rect x="656.80" y="322.00" width="18.20" height="5.00" rx="1.5" fill="#a2a2a2" filter="url(#bl1)"/><rect x="557.5" y="335.8" width="118.60" height="15.00" fill="#f8f8f8" filter="url(#bl0)"/><path d="M557.1 336.0 H561.0 V337.4 H559.8 V349.4 H561.0 V350.8 H557.1 Z" fill="#0a0a0a" filter="url(#bl0)"/><rect x="561.20" y="338.40" width="7.80" height="6.00" rx="2.0" fill="#1a1a1a" filter="url(#bl1)"/><rect x="564.00" y="339.40" width="13.50" height="5.60" rx="2.0" fill="#1e1e1e" filter="url(#bl1)"/><rect x="580.50" y="341.50" width="15.50" height="4.50" rx="1.5" fill="#d2d2d2" filter="url(#bl1)"/><rect x="599.00" y="340.60" width="16.00" height="5.70" rx="1.5" fill="#545454" filter="url(#bl1)"/><rect x="618.00" y="340.00" width="15.00" height="5.70" rx="1.5" fill="#c9c9c9" filter="url(#bl1)"/><rect x="636.50" y="341.30" width="15.50" height="5.00" rx="1.5" fill="#484848" filter="url(#bl1)"/><rect x="657.00" y="341.00" width="16.00" height="5.00" rx="1.5" fill="#bcbcbc" filter="url(#bl1)"/><rect x="557.9" y="353.2" width="118.20" height="14.40" fill="#f8f8f8" filter="url(#bl0)"/><rect x="560.30" y="356.20" width="16.70" height="6.00" rx="2.0" fill="#000" filter="url(#bl1)"/><rect x="580.50" y="358.00" width="15.50" height="5.00" rx="1.5" fill="#e2e2e2" filter="url(#bl1)"/><rect x="598.50" y="357.30" width="16.00" height="6.00" rx="2.0" fill="#000" filter="url(#bl1)"/><rect x="618.00" y="358.00" width="15.00" height="6.00" rx="1.5" fill="#e0e0e0" filter="url(#bl1)"/><rect x="637.00" y="356.20" width="14.30" height="4.90" rx="2.0" fill="#000" filter="url(#bl1)"/><rect x="657.00" y="358.00" width="16.00" height="6.00" rx="1.5" fill="#ebebeb" filter="url(#bl1)"/><rect x="557.9" y="370.8" width="118.20" height="15.00" fill="#f4f4f4" filter="url(#bl0)"/><rect x="562.20" y="371.40" width="14.40" height="13.60" rx="0.8" fill="#d8d8d8" filter="url(#bl1)"/><rect x="562.20" y="371.40" width="14.40" height="9.60" rx="1.0" fill="#1e1e1e" filter="url(#bl1)"/><rect x="581.40" y="371.40" width="14.50" height="13.60" rx="0.8" fill="#e6e6e6" filter="url(#bl1)"/><rect x="581.40" y="371.40" width="14.50" height="11.60" rx="1.0" fill="#dedede" filter="url(#bl1)"/><rect x="600.00" y="371.40" width="14.50" height="13.60" rx="0.8" fill="#d8d8d8" filter="url(#bl1)"/><rect x="600.00" y="371.40" width="14.50" height="11.60" rx="1.0" fill="#0e0e0e" filter="url(#bl1)"/><rect x="619.80" y="371.40" width="13.20" height="13.60" rx="0.8" fill="#e6e6e6" filter="url(#bl1)"/><rect x="619.80" y="371.40" width="13.20" height="11.60" rx="1.0" fill="#dcdcdc" filter="url(#bl1)"/><rect x="638.40" y="371.40" width="13.30" height="13.60" rx="0.8" fill="#d8d8d8" filter="url(#bl1)"/><rect x="638.40" y="371.40" width="13.30" height="11.40" rx="1.0" fill="#080808" filter="url(#bl1)"/><rect x="658.90" y="371.40" width="13.80" height="13.60" rx="0.8" fill="#e6e6e6" filter="url(#bl1)"/><rect x="658.90" y="371.40" width="13.80" height="11.60" rx="1.0" fill="#d0d0d0" filter="url(#bl1)"/><rect x="557.9" y="388.8" width="118.20" height="15.10" fill="#f0f0f0" filter="url(#bl0)"/><rect x="562.80" y="389.60" width="15.00" height="4.80" rx="0.4" fill="#929292" filter="url(#bl0)"/><rect x="562.80" y="394.40" width="15.00" height="8.80" rx="0.4" fill="#adadad" filter="url(#bl0)"/><rect x="563.10" y="392.10" width="14.40" height="4.60" rx="1.0" fill="#626262" filter="url(#bl1)"/><rect x="582.00" y="389.60" width="13.90" height="6.00" rx="0.4" fill="#8a8a8a" filter="url(#bl0)"/><rect x="582.00" y="395.60" width="13.90" height="7.60" rx="0.4" fill="#a4a4a4" filter="url(#bl0)"/><rect x="582.30" y="393.30" width="13.30" height="4.60" rx="1.0" fill="#262626" filter="url(#bl1)"/><rect x="599.50" y="389.60" width="15.60" height="6.00" rx="0.4" fill="#5a5a5a" filter="url(#bl0)"/><rect x="599.50" y="395.60" width="15.60" height="7.60" rx="0.4" fill="#858585" filter="url(#bl0)"/><rect x="599.80" y="393.30" width="15.00" height="4.60" rx="1.0" fill="#1a1a1a" filter="url(#bl1)"/><rect x="619.80" y="389.60" width="13.20" height="6.40" rx="0.4" fill="#9c9c9c" filter="url(#bl0)"/><rect x="619.80" y="396.00" width="13.20" height="7.20" rx="0.4" fill="#b2b2b2" filter="url(#bl0)"/><rect x="620.10" y="393.70" width="12.60" height="4.60" rx="1.0" fill="#404040" filter="url(#bl1)"/><rect x="639.00" y="389.60" width="13.30" height="7.20" rx="0.4" fill="#888" filter="url(#bl0)"/><rect x="639.00" y="396.80" width="13.30" height="6.40" rx="0.4" fill="#9c9c9c" filter="url(#bl0)"/><rect x="639.30" y="394.50" width="12.70" height="4.60" rx="1.0" fill="#4a4a4a" filter="url(#bl1)"/><rect x="658.90" y="389.60" width="14.40" height="6.20" rx="0.4" fill="#3c3c3c" filter="url(#bl0)"/><rect x="658.90" y="395.80" width="14.40" height="7.40" rx="0.4" fill="#9c9c9c" filter="url(#bl0)"/><rect x="659.20" y="393.50" width="13.80" height="4.60" rx="1.0" fill="#0e0e0e" filter="url(#bl1)"/><rect x="557.9" y="406.6" width="118.20" height="15.20" fill="#f7f7f7" filter="url(#bl0)"/><rect x="577.60" y="410.30" width="18.60" height="7.50" rx="3.4" fill="#000" filter="url(#bl1)"/><rect x="614.80" y="410.80" width="17.20" height="6.60" rx="3.0" fill="#030303" filter="url(#bl1)"/><rect x="654.50" y="410.80" width="12.00" height="7.00" rx="3.2" fill="#000" filter="url(#bl1)"/><rect x="662.00" y="412.20" width="13.30" height="4.60" rx="2.0" fill="#666" filter="url(#bl1)"/><rect x="562.00" y="414.50" width="15.00" height="3.00" rx="1.5" fill="#ececec" filter="url(#bl1)"/><rect x="600.00" y="414.50" width="14.00" height="3.00" rx="1.5" fill="#ececec" filter="url(#bl1)"/><rect x="638.00" y="414.50" width="14.00" height="3.00" rx="1.5" fill="#ececec" filter="url(#bl1)"/><rect x="557.9" y="424.6" width="118.20" height="11.80" fill="#f8f8f8" filter="url(#bl0)"/><rect x="560.10" y="426.80" width="16.60" height="6.90" rx="2.2" fill="#000" filter="url(#bl1)"/><rect x="580.50" y="430.00" width="14.50" height="4.00" rx="1.5" fill="#dadada" filter="url(#bl1)"/><rect x="596.90" y="427.40" width="15.90" height="7.00" rx="2.2" fill="#000" filter="url(#bl1)"/><rect x="618.00" y="430.00" width="15.00" height="3.50" rx="1.5" fill="#ececec" filter="url(#bl1)"/><rect x="634.50" y="429.40" width="15.90" height="4.30" rx="2.0" fill="#303030" filter="url(#bl1)"/><rect x="656.00" y="430.00" width="16.00" height="3.50" rx="1.5" fill="#eeeeee" filter="url(#bl1)"/><rect x="557.9" y="441.8" width="118.20" height="16.00" fill="#f8f8f8" filter="url(#bl0)"/><rect x="577.30" y="443.00" width="18.20" height="3.60" rx="1.4" fill="#2e2e2e" filter="url(#bl1)"/><rect x="577.30" y="448.30" width="18.20" height="5.30" rx="2.0" fill="#030303" filter="url(#bl1)"/><rect x="615.00" y="443.00" width="18.80" height="3.60" rx="1.4" fill="#2e2e2e" filter="url(#bl1)"/><rect x="615.00" y="448.30" width="18.80" height="5.30" rx="2.0" fill="#030303" filter="url(#bl1)"/><rect x="654.80" y="443.00" width="21.20" height="3.60" rx="1.4" fill="#2e2e2e" filter="url(#bl1)"/><rect x="654.80" y="448.30" width="21.20" height="5.30" rx="2.0" fill="#030303" filter="url(#bl1)"/><rect x="557.9" y="459.8" width="118.20" height="11.60" fill="#f5f5f5" filter="url(#bl0)"/><rect x="559.60" y="464.10" width="18.30" height="4.40" rx="1.8" fill="#0c0c0c" filter="url(#bl1)"/><rect x="579.10" y="464.40" width="18.30" height="4.70" rx="1.8" fill="#0c0c0c" filter="url(#bl1)"/><rect x="596.40" y="464.90" width="18.30" height="4.60" rx="1.8" fill="#0c0c0c" filter="url(#bl1)"/><rect x="615.90" y="463.10" width="17.60" height="5.20" rx="1.8" fill="#0c0c0c" filter="url(#bl1)"/><rect x="634.00" y="463.70" width="18.30" height="5.00" rx="1.8" fill="#0c0c0c" filter="url(#bl1)"/><rect x="654.90" y="462.30" width="18.40" height="5.20" rx="1.8" fill="#0c0c0c" filter="url(#bl1)"/><rect x="557.9" y="476.4" width="118.20" height="13.00" fill="#f6f6f6" filter="url(#bl0)"/><rect x="560.00" y="479.20" width="18.80" height="5.20" rx="1.8" fill="#050505" filter="url(#bl1)"/><rect x="578.80" y="480.00" width="19.20" height="5.50" rx="1.8" fill="#080808" filter="url(#bl1)"/><rect x="598.00" y="481.00" width="17.00" height="5.00" rx="1.8" fill="#0c0c0c" filter="url(#bl1)"/><rect x="616.40" y="480.40" width="17.40" height="4.50" rx="1.8" fill="#181818" filter="url(#bl1)"/><rect x="636.40" y="480.10" width="16.90" height="4.90" rx="1.8" fill="#181818" filter="url(#bl1)"/><rect x="655.20" y="479.20" width="19.80" height="4.60" rx="1.8" fill="#050505" filter="url(#bl1)"/><text x="555.20" y="330.00" font-size="7.1" text-anchor="end" fill="#1a1a1a" stroke="#1a1a1a" stroke-width="0.3" stroke-opacity="0.55">CDK2</text><text x="555.20" y="348.60" font-size="7.1" text-anchor="end" fill="#1a1a1a" stroke="#1a1a1a" stroke-width="0.3" stroke-opacity="0.55">CCNE2</text><text x="555.20" y="364.40" font-size="7.1" text-anchor="end" fill="#1a1a1a" stroke="#1a1a1a" stroke-width="0.3" stroke-opacity="0.55">CCNB1</text><text x="554.50" y="379.40" font-size="7.05" text-anchor="end" fill="#1a1a1a" stroke="#1a1a1a" stroke-width="0.3" stroke-opacity="0.55">pRb (S807/811)</text><text x="554.60" y="400.50" font-size="7.1" text-anchor="end" fill="#1a1a1a" stroke="#1a1a1a" stroke-width="0.3" stroke-opacity="0.55">total Rb</text><text x="556.20" y="419.40" font-size="7.1" text-anchor="end" fill="#1a1a1a" stroke="#1a1a1a" stroke-width="0.3" stroke-opacity="0.55">CDKN1A (p21)</text><text x="555.40" y="434.10" font-size="7.1" text-anchor="end" fill="#1a1a1a" stroke="#1a1a1a" stroke-width="0.3" stroke-opacity="0.55">PLK1</text><text x="555.40" y="447.50" font-size="7.1" text-anchor="end" fill="#1a1a1a" stroke="#1a1a1a" stroke-width="0.3" stroke-opacity="0.55">cleaved</text><text x="555.40" y="454.00" font-size="7.1" text-anchor="end" fill="#1a1a1a" stroke="#1a1a1a" stroke-width="0.3" stroke-opacity="0.55">caspase3</text><text x="555.40" y="468.30" font-size="7.1" text-anchor="end" fill="#1a1a1a" stroke="#1a1a1a" stroke-width="0.3" stroke-opacity="0.55">GAPDH</text><text x="551.10" y="485.30" font-size="7.1" text-anchor="end" fill="#1a1a1a" stroke="#1a1a1a" stroke-width="0.3" stroke-opacity="0.55">β actin</text>
</svg></body></html>
